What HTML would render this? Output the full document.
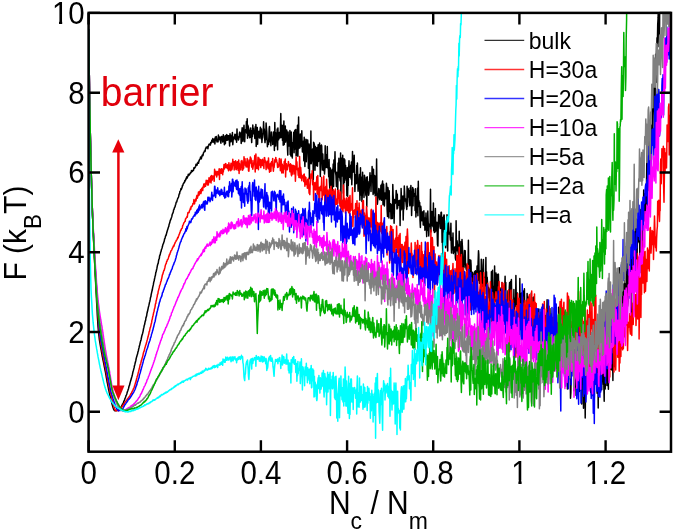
<!DOCTYPE html>
<html><head><meta charset="utf-8"><style>
html,body{margin:0;padding:0;background:#fff;}
body{width:675px;height:531px;overflow:hidden;position:relative;}
svg{position:absolute;left:0;top:0;}
text{font-family:"Liberation Sans",Arial,sans-serif;}
</style></head><body>
<svg width="675" height="531" viewBox="0 0 675 531">
<rect width="675" height="531" fill="#fff"/>
<defs><clipPath id="c"><rect x="88.6" y="12.9" width="582.4" height="438.8"/></clipPath></defs>
<g clip-path="url(#c)">
<polyline points="88.6,28.9 88.9,53.0 89.3,75.7 89.6,96.9 90.0,116.3 90.3,133.8 90.7,149.9 91.0,164.8 91.4,178.5 91.8,190.9 92.1,201.9 92.4,211.9 92.8,220.8 93.1,229.1 93.5,237.0 93.8,244.6 94.2,252.3 94.5,259.9 94.9,267.3 95.2,274.7 95.6,281.7 95.9,288.6 96.3,295.1 96.6,301.7 97.0,308.3 97.3,315.0 97.7,321.0 98.0,326.5 98.4,330.9 98.8,334.3 99.1,337.2 99.4,339.9 99.8,342.1 100.1,344.2 100.5,346.3 100.8,348.2 101.2,350.2 101.5,352.1 101.9,354.1 102.2,356.1 102.6,357.8 102.9,359.6 103.3,361.3 103.6,362.9 104.0,364.8 104.3,366.5 104.7,368.3 105.0,370.1 105.4,371.9 105.8,374.1 106.1,375.8 106.4,377.9 106.8,379.9 107.1,381.8 107.5,383.5 107.8,385.4 108.2,387.1 108.5,389.0 108.9,390.6 109.2,392.2 109.6,393.7 109.9,395.0 110.3,396.3 110.6,397.9 111.0,399.6 111.3,400.9 111.7,402.6 112.0,404.0 112.4,405.2 112.8,406.7 113.1,407.8 113.4,408.6 113.8,409.5 114.1,410.2 114.5,410.4 114.8,410.7 115.2,410.6 115.5,410.7 115.9,410.4 116.2,410.6 116.6,410.5 116.9,410.7 117.3,410.1 117.6,410.2 118.0,410.0 118.3,410.2 118.7,409.8 119.0,409.7 119.4,409.2 119.8,409.3 120.1,408.5 120.4,407.9 120.8,407.7 121.1,406.9 121.5,406.5 121.8,405.6 122.2,405.0 122.5,404.1 122.9,403.7 123.2,403.1 123.6,402.1 123.9,401.4 124.3,400.3 124.6,399.8 125.0,398.5 125.3,397.8 125.7,396.8 126.0,395.7 126.4,395.0 126.8,394.0 127.1,392.7 127.4,391.8 127.8,390.7 128.1,389.8 128.5,388.7 128.8,387.3 129.2,385.8 129.5,385.4 129.9,383.5 130.2,382.4 130.6,381.0 130.9,380.0 131.3,378.8 131.6,377.4 132.0,376.2 132.3,375.0 132.7,373.2 133.0,371.7 133.4,370.4 133.8,368.9 134.1,367.9 134.4,365.9 134.8,364.7 135.1,363.3 135.5,361.7 135.8,360.7 136.2,358.5 136.5,357.4 136.9,356.0 137.2,354.9 137.6,353.8 137.9,352.1 138.3,351.0 138.6,349.3 139.0,347.9 139.3,346.2 139.7,345.0 140.0,343.6 140.4,341.8 140.8,340.8 141.1,339.5 141.4,338.0 141.8,336.0 142.1,335.0 142.5,333.7 142.8,332.6 143.2,330.8 143.5,328.9 143.9,327.4 144.2,325.5 144.6,324.7 144.9,322.8 145.3,321.0 145.6,320.5 146.0,317.5 146.3,317.0 146.7,315.5 147.0,313.2 147.4,311.8 147.8,310.0 148.1,308.6 148.4,307.1 148.8,305.7 149.1,304.3 149.5,302.3 149.8,301.5 150.2,299.4 150.5,297.5 150.9,296.6 151.2,294.3 151.6,292.6 151.9,291.3 152.3,289.8 152.6,287.9 153.0,286.2 153.3,284.9 153.7,282.4 154.1,281.0 154.4,279.5 154.8,277.7 155.1,276.1 155.4,275.5 155.8,272.4 156.1,272.2 156.5,270.0 156.8,268.9 157.2,266.7 157.5,265.2 157.9,263.8 158.2,263.4 158.6,260.5 158.9,259.3 159.3,258.7 159.6,255.9 160.0,255.2 160.3,254.0 160.7,252.2 161.1,251.3 161.4,249.7 161.8,248.7 162.1,247.8 162.4,246.8 162.8,244.9 163.1,244.1 163.5,243.4 163.8,242.3 164.2,241.3 164.6,238.9 164.9,238.6 165.2,237.5 165.6,235.8 165.9,235.6 166.3,234.6 166.6,233.2 167.0,231.7 167.3,230.7 167.7,229.6 168.1,228.2 168.4,227.3 168.8,226.4 169.1,224.5 169.4,223.7 169.8,222.6 170.1,221.1 170.5,220.0 170.8,219.5 171.2,218.2 171.5,217.4 171.9,216.2 172.2,214.5 172.6,213.7 172.9,212.9 173.3,212.0 173.6,209.8 174.0,209.6 174.3,208.2 174.7,207.4 175.1,206.7 175.4,205.1 175.8,204.2 176.1,202.6 176.4,201.9 176.8,201.8 177.1,200.2 177.5,199.2 177.8,198.2 178.2,197.7 178.6,197.0 178.9,195.2 179.2,194.0 179.6,193.8 179.9,191.3 180.3,191.0 180.6,190.7 181.0,188.5 181.3,189.4 181.7,188.3 182.1,187.5 182.4,185.5 182.8,185.7 183.1,184.1 183.4,183.6 183.8,183.3 184.1,182.3 184.5,182.3 184.8,180.5 185.2,180.9 185.5,180.3 185.9,178.8 186.2,178.9 186.6,177.0 186.9,176.7 187.3,178.0 187.6,176.4 188.0,176.1 188.3,174.2 188.7,175.5 189.1,175.1 189.4,174.3 189.8,173.9 190.1,173.9 190.4,172.7 190.8,172.8 191.1,172.6 191.5,170.5 191.8,171.1 192.2,171.6 192.6,171.4 192.9,170.2 193.2,170.4 193.6,170.1 193.9,167.8 194.3,168.3 194.6,168.2 195.0,167.1 195.3,167.2 195.7,166.2 196.0,164.3 196.4,165.3 196.8,165.2 197.1,165.1 197.4,163.1 197.8,163.2 198.2,162.1 198.5,163.3 198.8,161.6 199.2,160.6 199.5,159.6 199.9,159.2 200.2,159.1 200.6,157.0 200.9,157.6 201.3,158.9 201.6,157.6 202.0,155.8 202.3,154.9 202.7,155.8 203.1,155.1 203.4,153.0 203.8,152.5 204.1,151.8 204.4,150.9 204.8,151.0 205.1,151.4 205.5,148.7 205.8,148.4 206.2,147.1 206.6,147.9 206.9,147.8 207.2,147.1 207.6,146.5 207.9,148.7 208.3,146.0 208.6,145.8 209.0,144.3 209.3,144.0 209.7,144.4 210.1,144.2 210.4,145.1 210.7,142.4 211.1,143.2 211.4,142.7 211.8,140.2 212.1,140.0 212.5,142.0 212.8,138.5 213.2,139.9 213.6,140.9 213.9,142.4 214.2,142.2 214.6,138.8 214.9,143.9 215.3,137.0 215.6,138.7 216.0,140.6 216.3,136.6 216.7,139.2 217.0,142.0 217.4,140.8 217.7,141.6 218.1,141.7 218.4,135.0 218.8,138.8 219.2,139.4 219.5,137.1 219.8,137.5 220.2,140.3 220.5,141.0 220.9,143.2 221.2,136.4 221.6,139.2 221.9,136.4 222.3,138.5 222.7,141.9 223.0,140.0 223.3,134.7 223.7,140.0 224.0,137.2 224.4,144.7 224.8,140.6 225.1,135.9 225.4,143.6 225.8,135.6 226.1,139.9 226.5,140.3 226.8,134.6 227.2,140.2 227.5,135.6 227.9,139.9 228.2,137.7 228.6,135.8 228.9,135.7 229.3,139.7 229.6,146.0 230.0,133.8 230.3,140.9 230.7,135.1 231.0,141.7 231.4,140.5 231.8,138.8 232.1,139.2 232.4,132.5 232.8,144.8 233.1,140.7 233.5,137.7 233.8,137.0 234.2,138.2 234.5,137.4 234.9,134.2 235.2,139.7 235.6,139.5 235.9,137.6 236.3,134.3 236.6,142.2 237.0,129.1 237.3,137.6 237.7,138.5 238.1,137.2 238.4,140.1 238.7,139.3 239.1,136.7 239.4,133.3 239.8,132.1 240.1,136.9 240.5,136.5 240.8,133.2 241.2,143.5 241.5,136.0 241.9,130.5 242.2,127.7 242.6,136.1 242.9,141.5 243.3,137.9 243.7,129.1 244.0,125.3 244.3,135.5 244.7,141.8 245.0,133.7 245.4,130.4 245.7,129.6 246.1,132.0 246.4,121.4 246.8,133.3 247.2,118.7 247.5,138.2 247.8,125.1 248.2,126.5 248.5,127.8 248.9,135.8 249.2,132.3 249.6,137.7 249.9,131.0 250.3,129.6 250.7,128.0 251.0,137.4 251.3,134.8 251.7,142.6 252.0,130.5 252.4,136.6 252.8,125.1 253.1,134.0 253.4,128.2 253.8,133.3 254.1,131.5 254.5,132.6 254.8,138.4 255.2,126.8 255.5,136.9 255.9,124.6 256.2,146.5 256.6,135.2 256.9,127.5 257.3,127.5 257.6,144.2 258.0,131.6 258.4,131.8 258.7,131.3 259.0,135.3 259.4,137.9 259.8,132.0 260.1,129.8 260.4,127.2 260.8,133.9 261.1,138.7 261.5,129.0 261.9,142.4 262.2,138.3 262.5,138.1 262.9,134.2 263.2,133.2 263.6,121.8 263.9,130.7 264.3,128.9 264.6,137.9 265.0,142.6 265.4,138.3 265.7,139.7 266.1,123.0 266.4,127.3 266.8,131.7 267.1,138.3 267.4,146.8 267.8,140.7 268.1,143.1 268.5,144.4 268.9,136.8 269.2,128.1 269.5,126.4 269.9,141.8 270.2,140.1 270.6,138.8 270.9,145.7 271.3,132.1 271.6,137.6 272.0,140.6 272.4,137.4 272.7,144.4 273.0,142.6 273.4,132.0 273.8,133.8 274.1,139.4 274.4,150.4 274.8,122.4 275.1,136.4 275.5,132.5 275.8,145.9 276.2,134.4 276.5,133.9 276.9,135.5 277.2,128.9 277.6,149.7 277.9,127.9 278.3,139.2 278.6,139.8 279.0,136.0 279.4,132.4 279.7,133.9 280.0,138.0 280.4,130.6 280.8,113.6 281.1,129.7 281.4,137.5 281.8,125.5 282.1,127.9 282.5,140.6 282.9,125.3 283.2,145.3 283.5,131.3 283.9,120.9 284.2,144.6 284.6,139.2 284.9,142.2 285.3,125.9 285.6,142.1 286.0,137.7 286.4,134.2 286.7,130.1 287.0,132.7 287.4,146.2 287.8,155.1 288.1,132.0 288.4,139.7 288.8,135.5 289.1,146.0 289.5,141.5 289.9,130.4 290.2,154.5 290.5,144.2 290.9,155.9 291.2,131.9 291.6,141.9 291.9,151.7 292.3,157.9 292.6,143.0 293.0,142.6 293.4,145.5 293.7,132.2 294.1,152.8 294.4,137.1 294.8,130.3 295.1,149.1 295.4,135.8 295.8,129.6 296.1,156.0 296.5,149.1 296.9,154.9 297.2,138.2 297.5,125.2 297.9,156.2 298.2,142.6 298.6,117.0 298.9,148.6 299.3,136.5 299.6,136.9 300.0,147.7 300.3,133.9 300.7,139.3 301.0,144.2 301.4,146.2 301.8,130.7 302.1,142.5 302.4,152.0 302.8,149.9 303.1,142.0 303.5,141.1 303.8,160.7 304.2,137.2 304.6,159.6 304.9,166.5 305.2,151.6 305.6,145.2 305.9,139.2 306.3,161.8 306.6,154.2 307.0,140.1 307.4,151.9 307.7,140.0 308.0,145.4 308.4,168.2 308.8,161.5 309.1,144.1 309.4,178.8 309.8,145.2 310.1,155.8 310.5,163.5 310.9,130.9 311.2,163.7 311.5,161.3 311.9,157.8 312.2,158.0 312.6,149.0 312.9,150.3 313.3,179.4 313.6,142.3 314.0,143.1 314.4,144.7 314.7,149.2 315.0,170.2 315.4,146.4 315.8,159.1 316.1,165.6 316.5,154.1 316.8,147.8 317.1,165.3 317.5,166.1 317.8,149.0 318.2,144.7 318.5,161.5 318.9,153.9 319.2,156.4 319.6,142.9 319.9,154.3 320.3,176.5 320.6,166.9 321.0,145.8 321.4,145.0 321.7,145.9 322.1,162.5 322.4,170.1 322.8,154.0 323.1,163.4 323.4,165.4 323.8,170.6 324.1,160.6 324.5,174.1 324.8,169.7 325.2,145.7 325.5,167.7 325.9,154.6 326.2,165.8 326.6,164.3 326.9,167.4 327.3,146.5 327.6,166.4 328.0,167.9 328.4,169.4 328.7,176.7 329.1,159.4 329.4,180.6 329.8,188.3 330.1,169.9 330.4,168.1 330.8,185.3 331.1,170.1 331.5,173.1 331.8,189.7 332.2,195.1 332.5,169.3 332.9,172.8 333.2,164.0 333.6,186.6 333.9,160.1 334.3,171.1 334.6,167.4 335.0,151.7 335.4,172.0 335.7,173.5 336.0,176.0 336.4,186.5 336.8,172.2 337.1,186.5 337.4,182.3 337.8,189.9 338.1,162.9 338.5,172.1 338.9,158.3 339.2,176.9 339.5,175.0 339.9,178.4 340.2,180.9 340.6,152.9 340.9,200.4 341.3,157.9 341.6,159.0 342.0,176.1 342.3,170.0 342.7,155.3 343.0,171.6 343.4,193.3 343.8,179.3 344.1,158.7 344.4,182.5 344.8,159.7 345.1,177.2 345.5,165.2 345.9,178.4 346.2,180.3 346.5,176.6 346.9,195.7 347.2,167.5 347.6,196.2 348.0,174.5 348.3,185.5 348.6,170.3 349.0,160.8 349.4,173.9 349.7,177.3 350.0,171.2 350.4,169.3 350.8,165.1 351.1,179.0 351.4,162.0 351.8,184.7 352.1,175.8 352.5,151.4 352.9,172.2 353.2,166.9 353.5,170.5 353.9,171.9 354.2,155.3 354.6,175.0 354.9,191.6 355.3,178.4 355.6,174.7 356.0,182.8 356.4,183.6 356.7,165.4 357.0,172.9 357.4,163.0 357.8,177.0 358.1,191.2 358.5,182.9 358.8,184.1 359.1,185.0 359.5,174.5 359.9,200.2 360.2,184.6 360.5,167.8 360.9,195.1 361.2,177.0 361.6,184.5 361.9,201.4 362.3,194.5 362.6,172.3 363.0,192.7 363.4,185.4 363.7,187.1 364.0,197.6 364.4,175.2 364.8,177.5 365.1,182.6 365.5,188.1 365.8,194.8 366.1,195.9 366.5,177.5 366.8,206.7 367.2,176.8 367.5,182.9 367.9,181.4 368.2,185.8 368.6,195.2 368.9,193.7 369.3,186.6 369.6,180.7 370.0,172.8 370.4,181.8 370.7,179.1 371.0,191.6 371.4,175.6 371.8,179.0 372.1,166.6 372.5,174.4 372.8,183.4 373.1,194.4 373.5,169.2 373.9,192.9 374.2,181.6 374.5,175.4 374.9,177.7 375.2,195.9 375.6,195.4 375.9,176.0 376.3,180.9 376.6,159.1 377.0,195.9 377.4,204.3 377.7,200.7 378.0,198.3 378.4,194.5 378.8,188.5 379.1,188.9 379.4,194.9 379.8,199.7 380.1,190.4 380.5,198.2 380.9,185.3 381.2,197.5 381.5,200.2 381.9,184.1 382.2,184.5 382.6,181.1 383.0,204.7 383.3,187.5 383.6,184.3 384.0,195.2 384.4,206.0 384.7,199.4 385.0,193.1 385.4,198.0 385.8,198.6 386.1,191.3 386.4,183.2 386.8,187.2 387.1,209.4 387.5,216.4 387.9,187.5 388.2,190.2 388.5,203.8 388.9,217.9 389.2,190.7 389.6,208.4 390.0,211.4 390.3,206.4 390.6,203.8 391.0,218.8 391.4,216.1 391.7,205.2 392.0,204.6 392.4,218.6 392.8,184.5 393.1,194.6 393.4,200.1 393.8,199.2 394.1,223.3 394.5,204.0 394.9,199.8 395.2,203.5 395.5,201.4 395.9,199.0 396.2,190.4 396.6,194.4 397.0,208.9 397.3,194.2 397.6,208.1 398.0,202.0 398.3,200.8 398.7,203.8 399.0,205.3 399.4,201.0 399.8,200.3 400.1,225.6 400.4,204.0 400.8,210.2 401.1,188.5 401.5,200.8 401.9,208.9 402.2,197.4 402.5,200.1 402.9,195.9 403.2,219.9 403.6,203.6 403.9,209.1 404.3,186.1 404.6,192.1 405.0,201.0 405.4,199.3 405.7,199.0 406.0,202.5 406.4,206.4 406.8,209.4 407.1,186.2 407.4,206.4 407.8,192.5 408.1,188.5 408.5,191.1 408.9,196.9 409.2,190.8 409.5,201.9 409.9,205.8 410.2,187.7 410.6,190.4 410.9,185.6 411.3,196.6 411.6,215.5 412.0,201.5 412.4,203.8 412.7,187.6 413.0,205.8 413.4,188.9 413.8,195.9 414.1,195.7 414.5,196.4 414.8,193.4 415.1,210.4 415.5,188.8 415.9,216.9 416.2,208.8 416.5,209.8 416.9,196.1 417.2,212.4 417.6,188.0 417.9,215.7 418.3,181.2 418.6,201.8 419.0,200.6 419.4,206.7 419.7,202.6 420.0,219.8 420.4,227.5 420.8,206.2 421.1,209.4 421.5,218.8 421.8,220.7 422.1,220.7 422.5,218.3 422.8,211.8 423.2,225.0 423.5,219.0 423.9,210.8 424.2,225.3 424.6,217.7 424.9,230.3 425.3,223.8 425.6,227.3 426.0,212.9 426.4,228.5 426.7,236.6 427.0,222.4 427.4,230.3 427.8,211.1 428.1,220.5 428.5,229.0 428.8,235.9 429.1,224.2 429.5,226.6 429.9,225.7 430.2,223.1 430.5,189.2 430.9,232.1 431.2,221.8 431.6,215.3 431.9,211.5 432.3,225.4 432.6,221.0 433.0,226.7 433.4,202.9 433.7,230.7 434.0,221.4 434.4,232.4 434.8,217.0 435.1,232.1 435.4,208.5 435.8,231.0 436.1,226.5 436.5,226.2 436.9,222.3 437.2,232.4 437.5,244.8 437.9,246.0 438.2,228.8 438.6,214.7 439.0,214.8 439.3,221.6 439.6,216.0 440.0,226.9 440.4,228.5 440.7,221.5 441.0,212.4 441.4,212.2 441.8,222.9 442.1,242.6 442.4,234.8 442.8,254.7 443.1,217.3 443.5,229.8 443.9,214.9 444.2,215.1 444.5,232.2 444.9,223.3 445.2,231.5 445.6,247.7 446.0,226.9 446.3,230.0 446.6,230.2 447.0,214.7 447.3,243.8 447.7,251.0 448.0,223.7 448.4,221.0 448.8,227.8 449.1,234.0 449.4,232.3 449.8,233.2 450.1,234.9 450.5,240.1 450.9,223.2 451.2,243.8 451.5,252.9 451.9,238.1 452.2,246.9 452.6,249.7 453.0,233.1 453.3,253.6 453.6,252.0 454.0,248.2 454.3,252.0 454.7,247.2 455.0,246.9 455.4,258.2 455.8,260.0 456.1,220.7 456.4,243.0 456.8,250.8 457.1,240.7 457.5,245.0 457.9,246.6 458.2,253.2 458.5,252.8 458.9,255.7 459.2,231.3 459.6,255.5 459.9,247.3 460.3,247.3 460.6,276.1 461.0,241.5 461.4,252.9 461.7,277.7 462.0,239.5 462.4,246.3 462.8,255.2 463.1,267.2 463.4,271.0 463.8,262.9 464.1,267.2 464.5,250.4 464.9,255.5 465.2,250.8 465.5,262.3 465.9,267.3 466.2,269.1 466.6,270.4 466.9,269.6 467.3,264.1 467.6,266.4 468.0,269.7 468.4,240.2 468.7,269.3 469.0,267.1 469.4,274.4 469.8,259.7 470.1,261.8 470.5,271.7 470.8,260.2 471.1,265.5 471.5,289.8 471.8,289.5 472.2,285.9 472.5,272.3 472.9,283.4 473.2,294.0 473.6,281.6 473.9,274.1 474.3,274.6 474.6,271.7 475.0,275.4 475.4,270.8 475.7,275.6 476.0,283.1 476.4,290.0 476.8,273.6 477.1,265.9 477.5,280.7 477.8,280.1 478.1,262.4 478.5,250.8 478.8,254.5 479.2,280.6 479.5,283.3 479.9,277.8 480.2,272.3 480.6,270.7 480.9,299.4 481.3,259.2 481.6,265.0 482.0,282.7 482.4,270.4 482.7,286.4 483.0,279.1 483.4,259.4 483.8,296.6 484.1,286.8 484.4,286.6 484.8,284.8 485.1,277.1 485.5,282.6 485.9,257.4 486.2,293.9 486.5,271.8 486.9,287.4 487.2,277.3 487.6,284.8 487.9,287.3 488.3,291.4 488.6,287.4 489.0,298.0 489.4,292.5 489.7,315.3 490.0,288.9 490.4,297.3 490.8,289.5 491.1,297.5 491.4,271.7 491.8,289.2 492.1,288.9 492.5,270.3 492.9,302.1 493.2,286.3 493.5,307.5 493.9,301.3 494.2,300.9 494.6,266.0 495.0,301.2 495.3,281.5 495.6,284.8 496.0,272.9 496.4,296.8 496.7,312.6 497.0,311.2 497.4,274.6 497.8,286.6 498.1,274.9 498.4,274.1 498.8,292.0 499.1,297.6 499.5,289.4 499.9,316.5 500.2,303.0 500.5,299.0 500.9,287.9 501.2,323.8 501.6,325.5 502.0,282.5 502.3,291.3 502.6,306.0 503.0,307.4 503.3,300.2 503.7,323.3 504.0,312.1 504.4,285.7 504.8,285.5 505.1,276.3 505.4,293.2 505.8,282.4 506.1,321.4 506.5,321.0 506.9,343.8 507.2,322.1 507.5,328.6 507.9,291.6 508.2,290.5 508.6,322.3 508.9,326.2 509.3,287.4 509.6,282.6 510.0,320.7 510.4,298.7 510.7,281.2 511.0,298.6 511.4,279.6 511.8,302.2 512.1,300.4 512.4,309.9 512.8,337.2 513.1,313.1 513.5,320.7 513.9,289.6 514.2,327.7 514.5,308.5 514.9,306.0 515.2,298.1 515.6,306.2 515.9,275.6 516.3,299.8 516.6,304.3 517.0,304.9 517.4,293.0 517.7,332.3 518.0,320.2 518.4,307.9 518.8,320.5 519.1,306.5 519.5,337.1 519.8,278.5 520.1,303.5 520.5,306.6 520.9,323.9 521.2,295.2 521.5,293.1 521.9,315.4 522.2,308.6 522.6,330.0 522.9,303.8 523.3,306.5 523.6,291.0 524.0,299.8 524.4,288.7 524.7,310.2 525.0,305.0 525.4,311.3 525.8,308.7 526.1,319.5 526.4,311.4 526.8,319.5 527.1,293.6 527.5,305.2 527.8,309.4 528.2,319.1 528.5,296.9 528.9,312.3 529.2,306.5 529.6,323.2 530.0,311.6 530.3,328.0 530.6,328.2 531.0,327.6 531.3,293.1 531.7,318.1 532.0,297.6 532.4,335.7 532.8,316.2 533.1,330.8 533.5,317.3 533.8,297.0 534.1,299.0 534.5,336.1 534.9,311.0 535.2,309.3 535.5,325.3 535.9,329.1 536.2,336.4 536.6,319.5 536.9,343.8 537.3,325.7 537.6,320.0 538.0,333.0 538.4,340.1 538.7,308.9 539.0,323.9 539.4,345.8 539.8,324.7 540.1,315.7 540.4,331.0 540.8,314.7 541.1,318.6 541.5,316.2 541.9,328.1 542.2,331.1 542.6,306.7 542.9,319.6 543.2,317.3 543.6,314.8 543.9,319.5 544.3,319.7 544.6,321.2 545.0,326.2 545.3,337.1 545.7,315.5 546.0,324.2 546.4,334.3 546.8,316.1 547.1,299.8 547.5,345.9 547.8,327.9 548.1,310.8 548.5,354.8 548.9,332.6 549.2,334.6 549.5,343.7 549.9,308.5 550.2,322.0 550.6,337.4 551.0,359.2 551.3,335.2 551.6,352.3 552.0,330.9 552.4,345.0 552.7,335.7 553.0,317.3 553.4,329.2 553.8,346.7 554.1,344.9 554.4,357.6 554.8,331.7 555.1,359.3 555.5,354.3 555.9,368.9 556.2,344.7 556.5,314.9 556.9,353.9 557.2,354.0 557.6,355.7 557.9,345.5 558.3,341.1 558.6,307.3 559.0,327.3 559.3,344.0 559.7,364.7 560.1,326.1 560.4,340.2 560.8,360.2 561.1,343.4 561.4,347.3 561.8,329.7 562.1,341.5 562.5,361.9 562.8,343.7 563.2,323.4 563.5,343.7 563.9,357.1 564.2,360.3 564.6,312.1 565.0,331.0 565.3,367.6 565.6,343.6 566.0,332.1 566.4,340.1 566.7,362.9 567.0,357.4 567.4,389.1 567.7,360.9 568.1,360.4 568.4,344.1 568.8,363.2 569.1,368.9 569.5,333.1 569.9,344.0 570.2,371.2 570.5,398.3 570.9,392.5 571.2,365.6 571.6,363.8 571.9,366.1 572.3,349.5 572.6,333.7 573.0,351.5 573.4,360.4 573.7,361.2 574.0,390.7 574.4,349.4 574.8,369.8 575.1,349.6 575.4,386.9 575.8,371.6 576.1,395.4 576.5,372.5 576.8,336.8 577.2,380.0 577.5,375.0 577.9,375.8 578.2,361.7 578.6,385.3 579.0,376.6 579.3,391.6 579.6,319.8 580.0,379.1 580.3,371.9 580.7,390.0 581.0,367.9 581.4,374.3 581.7,404.0 582.1,318.5 582.5,377.6 582.8,377.7 583.1,357.3 583.5,408.3 583.9,375.3 584.2,395.4 584.5,385.8 584.9,382.1 585.2,418.0 585.6,384.5 585.9,370.6 586.3,393.3 586.6,373.0 587.0,381.3 587.4,352.4 587.7,379.8 588.0,371.7 588.4,376.0 588.8,382.4 589.1,348.2 589.4,369.9 589.8,371.5 590.1,364.2 590.5,339.5 590.8,392.5 591.2,352.1 591.6,395.3 591.9,378.9 592.2,363.4 592.6,354.2 592.9,391.1 593.3,354.2 593.6,363.6 594.0,333.2 594.3,398.5 594.7,365.3 595.0,383.1 595.4,381.4 595.8,374.7 596.1,384.2 596.5,365.9 596.8,372.8 597.1,393.2 597.5,332.7 597.9,374.2 598.2,407.9 598.5,380.1 598.9,374.7 599.2,381.2 599.6,381.2 599.9,353.2 600.3,387.0 600.6,385.2 601.0,386.9 601.4,384.4 601.7,389.8 602.0,375.1 602.4,356.8 602.8,374.2 603.1,373.4 603.5,384.5 603.8,384.5 604.2,401.2 604.5,339.0 604.9,377.1 605.2,388.9 605.5,369.3 605.9,372.9 606.2,346.4 606.6,359.3 606.9,385.6 607.3,373.9 607.6,379.4 608.0,365.0 608.4,389.3 608.7,327.7 609.1,351.0 609.4,353.4 609.8,350.7 610.1,343.3 610.5,369.3 610.8,350.3 611.1,321.4 611.5,323.6 611.8,370.1 612.2,357.3 612.6,352.8 612.9,380.6 613.2,356.4 613.6,344.1 614.0,332.9 614.3,344.2 614.6,366.7 615.0,342.8 615.4,351.6 615.7,317.4 616.0,317.5 616.4,341.5 616.8,306.1 617.1,335.1 617.5,321.5 617.8,298.4 618.1,310.8 618.5,326.2 618.9,317.1 619.2,267.8 619.5,320.8 619.9,307.5 620.2,332.9 620.6,301.0 620.9,318.2 621.3,291.9 621.7,322.7 622.0,292.5 622.4,302.4 622.7,295.5 623.1,290.8 623.4,284.1 623.8,314.2 624.1,332.0 624.4,297.4 624.8,280.2 625.1,314.0 625.5,271.0 625.9,307.2 626.2,285.9 626.6,286.9 626.9,284.7 627.2,258.6 627.6,306.1 628.0,300.9 628.3,290.6 628.6,275.6 629.0,295.6 629.3,252.3 629.7,275.8 630.0,276.1 630.4,282.5 630.8,254.6 631.1,244.4 631.5,317.4 631.8,258.5 632.1,288.4 632.5,258.2 632.9,261.1 633.2,257.5 633.5,264.1 633.9,269.4 634.2,243.8 634.6,276.1 635.0,228.4 635.3,240.8 635.6,278.6 636.0,284.0 636.4,219.1 636.7,251.6 637.0,268.5 637.4,228.3 637.8,242.7 638.1,233.8 638.4,241.4 638.8,238.1 639.1,226.4 639.5,220.3 639.9,272.7 640.2,235.3 640.6,217.8 640.9,209.4 641.2,234.6 641.6,227.4 641.9,239.2 642.3,255.4 642.6,230.3 643.0,206.7 643.4,216.2 643.7,189.9 644.1,221.1 644.4,198.1 644.8,208.1 645.1,193.7 645.5,213.7 645.8,198.8 646.1,194.4 646.5,185.5 646.9,148.9 647.2,208.4 647.5,163.5 647.9,190.7 648.2,171.9 648.6,175.9 649.0,167.3 649.3,133.0 649.6,165.0 650.0,120.2 650.4,172.3 650.7,144.8 651.0,149.3 651.4,159.5 651.8,124.9 652.1,139.9 652.5,106.1 652.8,132.9 653.2,107.4 653.5,102.3 653.9,66.6 654.2,89.0 654.5,105.2 654.9,121.4 655.2,86.3 655.6,54.3 655.9,61.8 656.3,82.3 656.6,56.2 657.0,37.7 657.4,42.9 657.7,24.9 658.1,17.9 658.4,5.8 658.8,-18.0 659.1,46.8 659.5,46.8 659.8,-33.4 660.1,-7.2 660.5,-42.1 660.8,-52.1 661.2,-14.7 661.6,-20.5" fill="none" stroke="#000000" stroke-width="1.5" stroke-linejoin="round"/>
<polyline points="88.6,28.9 88.9,53.0 89.3,75.7 89.6,96.9 90.0,116.3 90.3,133.8 90.7,149.9 91.0,164.9 91.4,178.7 91.8,191.1 92.1,202.0 92.4,211.6 92.8,220.5 93.1,228.5 93.5,236.1 93.8,243.3 94.2,250.2 94.5,256.9 94.9,263.3 95.2,269.4 95.6,275.2 95.9,280.9 96.3,286.5 96.6,292.0 97.0,297.6 97.3,303.3 97.7,309.1 98.0,314.7 98.4,320.0 98.8,325.0 99.1,329.4 99.4,332.8 99.8,335.8 100.1,338.4 100.5,340.9 100.8,343.0 101.2,345.2 101.5,347.2 101.9,349.2 102.2,351.2 102.6,353.3 102.9,354.9 103.3,356.9 103.6,358.7 104.0,360.6 104.3,362.5 104.7,364.2 105.0,365.9 105.4,367.4 105.8,369.2 106.1,371.0 106.4,372.8 106.8,374.8 107.1,376.7 107.5,378.6 107.8,380.4 108.2,382.3 108.5,383.9 108.9,385.7 109.2,387.4 109.6,389.1 109.9,390.5 110.3,391.9 110.6,393.4 111.0,394.7 111.3,396.3 111.7,397.7 112.0,399.2 112.4,400.7 112.8,402.2 113.1,403.5 113.4,404.7 113.8,406.2 114.1,407.0 114.5,408.3 114.8,409.1 115.2,410.1 115.5,410.6 115.9,410.4 116.2,410.8 116.6,410.5 116.9,410.6 117.3,410.5 117.6,410.3 118.0,410.4 118.3,410.8 118.7,410.4 119.0,409.9 119.4,409.6 119.8,409.8 120.1,409.6 120.4,409.4 120.8,408.6 121.1,408.5 121.5,407.8 121.8,407.0 122.2,406.4 122.5,405.9 122.9,405.1 123.2,405.0 123.6,404.5 123.9,403.9 124.3,403.3 124.6,402.9 125.0,402.0 125.3,402.0 125.7,401.3 126.0,401.1 126.4,400.5 126.8,400.2 127.1,399.7 127.4,398.8 127.8,398.8 128.1,397.9 128.5,397.9 128.8,397.3 129.2,396.5 129.5,396.7 129.9,396.0 130.2,395.1 130.6,394.4 130.9,393.8 131.3,393.4 131.6,393.0 132.0,391.8 132.3,391.2 132.7,390.9 133.0,389.9 133.4,388.7 133.8,388.2 134.1,387.6 134.4,386.4 134.8,385.4 135.1,384.1 135.5,382.8 135.8,382.1 136.2,380.8 136.5,379.1 136.9,377.9 137.2,376.4 137.6,375.7 137.9,374.3 138.3,372.4 138.6,371.5 139.0,369.8 139.3,368.5 139.7,367.3 140.0,365.3 140.4,364.4 140.8,363.2 141.1,361.8 141.4,360.4 141.8,359.6 142.1,358.2 142.5,357.1 142.8,356.1 143.2,353.9 143.5,352.6 143.9,351.4 144.2,351.0 144.6,349.2 144.9,347.8 145.3,346.9 145.6,345.3 146.0,344.6 146.3,343.3 146.7,342.0 147.0,340.7 147.4,339.4 147.8,337.6 148.1,336.8 148.4,335.3 148.8,334.1 149.1,331.8 149.5,331.4 149.8,329.6 150.2,327.7 150.5,327.2 150.9,325.6 151.2,323.9 151.6,322.7 151.9,320.3 152.3,319.3 152.6,317.2 153.0,315.7 153.3,314.3 153.7,312.3 154.1,311.2 154.4,309.0 154.8,308.2 155.1,306.3 155.4,304.0 155.8,303.5 156.1,301.0 156.5,299.7 156.8,298.1 157.2,296.6 157.5,294.4 157.9,293.8 158.2,291.4 158.6,290.1 158.9,288.9 159.3,287.4 159.6,285.7 160.0,284.8 160.3,283.9 160.7,281.9 161.1,281.0 161.4,279.5 161.8,278.1 162.1,276.5 162.4,274.9 162.8,274.2 163.1,273.0 163.5,271.6 163.8,270.6 164.2,270.2 164.6,268.6 164.9,267.7 165.2,265.9 165.6,264.6 165.9,263.9 166.3,263.4 166.6,261.6 167.0,261.4 167.3,259.9 167.7,259.6 168.1,258.8 168.4,257.9 168.8,256.5 169.1,256.0 169.4,254.6 169.8,254.6 170.1,253.0 170.5,252.7 170.8,251.2 171.2,250.6 171.5,250.3 171.9,249.5 172.2,248.7 172.6,247.9 172.9,247.5 173.3,246.1 173.6,246.2 174.0,246.1 174.3,244.4 174.7,243.9 175.1,242.7 175.4,242.1 175.8,241.6 176.1,240.9 176.4,240.2 176.8,239.9 177.1,239.3 177.5,238.4 177.8,237.2 178.2,237.6 178.6,235.8 178.9,235.3 179.2,234.3 179.6,233.6 179.9,232.4 180.3,231.8 180.6,230.2 181.0,230.2 181.3,229.3 181.7,228.4 182.1,228.4 182.4,227.2 182.8,225.2 183.1,224.9 183.4,224.2 183.8,222.9 184.1,222.7 184.5,222.0 184.8,221.2 185.2,221.3 185.5,218.9 185.9,218.7 186.2,217.9 186.6,217.3 186.9,216.7 187.3,217.2 187.6,214.7 188.0,212.5 188.3,212.5 188.7,212.8 189.1,212.6 189.4,211.1 189.8,210.0 190.1,209.9 190.4,208.1 190.8,209.2 191.1,206.5 191.5,206.8 191.8,206.8 192.2,205.9 192.6,204.7 192.9,203.5 193.2,203.8 193.6,202.4 193.9,199.6 194.3,203.9 194.6,203.7 195.0,200.5 195.3,201.2 195.7,199.1 196.0,200.9 196.4,198.1 196.8,195.7 197.1,195.4 197.4,198.2 197.8,196.2 198.2,194.4 198.5,191.9 198.8,195.4 199.2,194.8 199.5,191.5 199.9,193.1 200.2,193.5 200.6,189.7 200.9,193.6 201.3,191.7 201.6,188.5 202.0,190.6 202.3,187.7 202.7,190.6 203.1,186.6 203.4,186.5 203.8,184.0 204.1,187.0 204.4,187.1 204.8,185.9 205.1,183.5 205.5,186.3 205.8,185.0 206.2,180.3 206.6,182.6 206.9,182.0 207.2,184.1 207.6,180.6 207.9,185.2 208.3,184.9 208.6,183.2 209.0,177.8 209.3,180.7 209.7,182.1 210.1,181.2 210.4,178.3 210.7,176.4 211.1,182.9 211.4,175.4 211.8,175.9 212.1,180.2 212.5,178.3 212.8,176.0 213.2,177.5 213.6,176.1 213.9,178.8 214.2,181.3 214.6,169.2 214.9,175.1 215.3,174.7 215.6,173.9 216.0,171.2 216.3,172.3 216.7,177.0 217.0,174.0 217.4,173.4 217.7,171.4 218.1,174.7 218.4,171.7 218.8,171.8 219.2,168.7 219.5,179.4 219.8,171.6 220.2,170.5 220.5,169.3 220.9,172.0 221.2,173.3 221.6,168.8 221.9,169.2 222.3,172.7 222.7,174.7 223.0,169.1 223.3,172.0 223.7,168.1 224.0,164.5 224.4,169.0 224.8,167.9 225.1,167.7 225.4,163.9 225.8,163.5 226.1,167.2 226.5,165.5 226.8,167.0 227.2,168.3 227.5,164.8 227.9,167.1 228.2,169.4 228.6,170.8 228.9,162.8 229.3,169.2 229.6,169.7 230.0,167.2 230.3,165.1 230.7,170.8 231.0,163.2 231.4,164.0 231.8,169.8 232.1,169.0 232.4,165.4 232.8,159.3 233.1,165.6 233.5,161.5 233.8,161.8 234.2,170.0 234.5,164.8 234.9,161.5 235.2,166.1 235.6,160.8 235.9,169.3 236.3,169.6 236.6,167.9 237.0,162.1 237.3,167.9 237.7,161.7 238.1,170.3 238.4,166.4 238.7,160.1 239.1,173.6 239.4,163.3 239.8,167.4 240.1,167.0 240.5,166.5 240.8,169.9 241.2,161.0 241.5,162.3 241.9,160.4 242.2,163.9 242.6,170.2 242.9,162.3 243.3,169.0 243.7,168.0 244.0,156.8 244.3,160.8 244.7,162.6 245.0,158.8 245.4,165.4 245.7,162.0 246.1,167.0 246.4,165.7 246.8,164.7 247.2,158.5 247.5,166.9 247.8,159.7 248.2,163.9 248.5,170.7 248.9,171.2 249.2,166.6 249.6,159.9 249.9,163.0 250.3,157.1 250.7,162.9 251.0,158.0 251.3,162.7 251.7,167.1 252.0,160.6 252.4,166.5 252.8,169.2 253.1,166.8 253.4,165.1 253.8,162.6 254.1,160.2 254.5,161.0 254.8,155.6 255.2,171.9 255.5,164.5 255.9,154.1 256.2,164.9 256.6,168.4 256.9,166.4 257.3,168.2 257.6,165.4 258.0,157.3 258.4,169.7 258.7,166.1 259.0,158.0 259.4,162.3 259.8,161.9 260.1,165.3 260.4,159.6 260.8,167.6 261.1,159.9 261.5,163.0 261.9,164.5 262.2,165.5 262.5,159.2 262.9,161.9 263.2,165.5 263.6,163.6 263.9,168.5 264.3,157.7 264.6,157.6 265.0,160.5 265.4,162.4 265.7,161.1 266.1,169.6 266.4,165.6 266.8,164.6 267.1,163.9 267.4,161.3 267.8,167.4 268.1,168.7 268.5,157.9 268.9,165.3 269.2,166.7 269.5,172.2 269.9,170.3 270.2,164.1 270.6,163.2 270.9,171.2 271.3,163.4 271.6,161.7 272.0,165.7 272.4,162.8 272.7,158.4 273.0,166.9 273.4,171.2 273.8,165.9 274.1,167.3 274.4,164.4 274.8,160.0 275.1,159.3 275.5,161.9 275.8,157.4 276.2,161.6 276.5,159.5 276.9,161.9 277.2,162.7 277.6,167.4 277.9,164.3 278.3,167.1 278.6,166.5 279.0,163.3 279.4,158.4 279.7,165.3 280.0,162.2 280.4,170.8 280.8,165.3 281.1,159.0 281.4,163.5 281.8,172.9 282.1,164.1 282.5,165.0 282.9,169.8 283.2,172.9 283.5,169.1 283.9,169.4 284.2,161.5 284.6,161.9 284.9,161.5 285.3,159.1 285.6,176.9 286.0,166.2 286.4,163.7 286.7,169.8 287.0,168.4 287.4,169.8 287.8,164.9 288.1,165.9 288.4,161.4 288.8,163.9 289.1,165.1 289.5,166.8 289.9,171.8 290.2,166.0 290.5,163.8 290.9,165.7 291.2,174.1 291.6,175.7 291.9,165.0 292.3,166.8 292.6,166.8 293.0,174.1 293.4,165.4 293.7,165.7 294.1,170.7 294.4,166.1 294.8,174.1 295.1,170.0 295.4,181.3 295.8,172.0 296.1,157.3 296.5,167.0 296.9,161.8 297.2,169.6 297.5,170.0 297.9,170.3 298.2,175.3 298.6,168.2 298.9,177.4 299.3,174.0 299.6,156.4 300.0,170.6 300.3,178.0 300.7,167.5 301.0,171.8 301.4,176.2 301.8,180.8 302.1,176.1 302.4,177.8 302.8,176.3 303.1,175.6 303.5,174.7 303.8,181.6 304.2,174.0 304.6,178.1 304.9,186.3 305.2,177.0 305.6,180.0 305.9,177.5 306.3,184.6 306.6,181.0 307.0,181.6 307.4,188.2 307.7,179.5 308.0,183.2 308.4,178.2 308.8,186.9 309.1,193.3 309.4,188.5 309.8,194.6 310.1,186.5 310.5,180.0 310.9,174.1 311.2,176.8 311.5,177.9 311.9,176.7 312.2,170.8 312.6,184.8 312.9,181.6 313.3,180.6 313.6,200.2 314.0,183.5 314.4,184.7 314.7,182.8 315.0,188.2 315.4,189.9 315.8,189.1 316.1,182.0 316.5,183.0 316.8,176.7 317.1,194.0 317.5,180.3 317.8,175.4 318.2,194.6 318.5,187.3 318.9,196.8 319.2,205.2 319.6,198.7 319.9,187.6 320.3,186.5 320.6,190.6 321.0,186.0 321.4,186.3 321.7,177.2 322.1,199.8 322.4,196.0 322.8,193.5 323.1,195.2 323.4,194.3 323.8,176.0 324.1,192.7 324.5,187.2 324.8,201.4 325.2,195.9 325.5,187.4 325.9,186.3 326.2,204.1 326.6,179.3 326.9,189.8 327.3,198.3 327.6,189.9 328.0,198.2 328.4,203.1 328.7,192.3 329.1,191.8 329.4,189.2 329.8,205.5 330.1,201.6 330.4,196.5 330.8,189.8 331.1,186.2 331.5,197.7 331.8,205.7 332.2,191.6 332.5,199.6 332.9,193.5 333.2,189.5 333.6,191.7 333.9,203.6 334.3,205.6 334.6,206.9 335.0,191.4 335.4,189.0 335.7,204.4 336.0,201.3 336.4,204.2 336.8,199.0 337.1,204.3 337.4,203.5 337.8,190.5 338.1,191.3 338.5,197.9 338.9,190.0 339.2,203.3 339.5,195.6 339.9,205.9 340.2,205.6 340.6,192.0 340.9,208.3 341.3,202.7 341.6,208.1 342.0,209.9 342.3,201.0 342.7,199.9 343.0,211.7 343.4,184.9 343.8,190.5 344.1,207.9 344.4,198.2 344.8,200.3 345.1,206.9 345.5,213.2 345.9,206.9 346.2,204.1 346.5,198.1 346.9,202.2 347.2,210.7 347.6,209.0 348.0,206.8 348.3,197.6 348.6,212.7 349.0,204.2 349.4,196.9 349.7,215.8 350.0,195.5 350.4,211.0 350.8,206.7 351.1,210.2 351.4,204.7 351.8,203.6 352.1,202.6 352.5,187.7 352.9,226.4 353.2,214.2 353.5,217.8 353.9,210.6 354.2,214.2 354.6,211.6 354.9,209.6 355.3,214.3 355.6,203.4 356.0,223.1 356.4,216.3 356.7,209.6 357.0,200.8 357.4,220.7 357.8,220.7 358.1,207.9 358.5,210.6 358.8,222.5 359.1,203.1 359.5,209.7 359.9,214.4 360.2,214.8 360.5,211.4 360.9,215.4 361.2,210.2 361.6,210.4 361.9,221.9 362.3,226.5 362.6,201.2 363.0,218.3 363.4,200.6 363.7,214.4 364.0,236.3 364.4,213.1 364.8,222.5 365.1,234.7 365.5,215.6 365.8,224.6 366.1,219.4 366.5,206.4 366.8,209.8 367.2,216.9 367.5,219.1 367.9,217.5 368.2,224.2 368.6,228.1 368.9,222.0 369.3,217.9 369.6,225.6 370.0,222.8 370.4,219.3 370.7,227.0 371.0,210.4 371.4,209.4 371.8,218.4 372.1,228.4 372.5,237.3 372.8,242.3 373.1,211.4 373.5,222.4 373.9,226.8 374.2,235.1 374.5,224.5 374.9,214.4 375.2,220.2 375.6,234.2 375.9,197.1 376.3,219.1 376.6,235.9 377.0,225.5 377.4,222.5 377.7,222.5 378.0,223.4 378.4,237.5 378.8,223.9 379.1,234.9 379.4,226.7 379.8,227.5 380.1,222.7 380.5,226.0 380.9,231.7 381.2,205.5 381.5,231.9 381.9,233.6 382.2,225.4 382.6,225.4 383.0,223.1 383.3,245.3 383.6,236.2 384.0,221.2 384.4,229.5 384.7,231.4 385.0,246.1 385.4,247.6 385.8,241.9 386.1,232.8 386.4,228.8 386.8,226.6 387.1,254.9 387.5,238.2 387.9,236.8 388.2,241.6 388.5,241.4 388.9,248.1 389.2,244.5 389.6,262.9 390.0,231.4 390.3,241.3 390.6,225.8 391.0,248.5 391.4,258.1 391.7,226.7 392.0,263.1 392.4,254.5 392.8,237.0 393.1,229.4 393.4,252.5 393.8,248.1 394.1,247.8 394.5,240.5 394.9,254.1 395.2,241.3 395.5,238.3 395.9,247.6 396.2,246.8 396.6,226.0 397.0,245.6 397.3,252.3 397.6,238.2 398.0,237.5 398.3,256.0 398.7,259.0 399.0,235.3 399.4,237.6 399.8,237.6 400.1,233.5 400.4,262.6 400.8,267.7 401.1,244.4 401.5,246.8 401.9,250.4 402.2,244.5 402.5,262.3 402.9,262.4 403.2,255.3 403.6,248.3 403.9,246.2 404.3,255.0 404.6,248.7 405.0,242.2 405.4,249.3 405.7,258.8 406.0,236.5 406.4,266.9 406.8,252.2 407.1,235.4 407.4,229.1 407.8,238.1 408.1,260.1 408.5,273.4 408.9,261.9 409.2,255.8 409.5,255.0 409.9,266.5 410.2,263.1 410.6,256.0 410.9,256.6 411.3,243.1 411.6,252.6 412.0,253.8 412.4,262.8 412.7,256.0 413.0,277.5 413.4,261.8 413.8,274.0 414.1,256.8 414.5,254.6 414.8,259.7 415.1,242.4 415.5,266.6 415.9,259.6 416.2,264.1 416.5,263.7 416.9,244.9 417.2,273.3 417.6,240.6 417.9,244.3 418.3,253.9 418.6,262.3 419.0,256.0 419.4,264.4 419.7,245.5 420.0,272.7 420.4,270.0 420.8,258.5 421.1,289.8 421.5,242.6 421.8,264.8 422.1,251.2 422.5,257.1 422.8,281.4 423.2,258.9 423.5,254.8 423.9,273.2 424.2,275.6 424.6,272.2 424.9,251.3 425.3,274.4 425.6,271.4 426.0,261.1 426.4,258.8 426.7,267.7 427.0,243.2 427.4,242.6 427.8,275.4 428.1,242.6 428.5,259.6 428.8,256.0 429.1,254.9 429.5,277.8 429.9,281.2 430.2,256.7 430.5,273.1 430.9,229.9 431.2,267.4 431.6,255.0 431.9,274.7 432.3,237.6 432.6,240.8 433.0,281.3 433.4,259.3 433.7,262.5 434.0,246.7 434.4,297.8 434.8,267.9 435.1,254.1 435.4,270.0 435.8,277.1 436.1,283.2 436.5,262.0 436.9,273.4 437.2,284.3 437.5,265.6 437.9,275.9 438.2,264.3 438.6,258.5 439.0,255.4 439.3,263.5 439.6,280.5 440.0,271.1 440.4,272.6 440.7,256.1 441.0,277.2 441.4,257.1 441.8,270.7 442.1,262.5 442.4,276.1 442.8,254.8 443.1,276.1 443.5,251.1 443.9,266.3 444.2,261.9 444.5,262.2 444.9,281.0 445.2,252.6 445.6,289.4 446.0,268.5 446.3,263.3 446.6,259.3 447.0,281.2 447.3,277.4 447.7,282.9 448.0,285.8 448.4,275.4 448.8,282.7 449.1,265.8 449.4,275.0 449.8,281.8 450.1,281.8 450.5,270.7 450.9,285.4 451.2,293.8 451.5,287.8 451.9,270.1 452.2,296.0 452.6,271.7 453.0,263.4 453.3,281.6 453.6,279.6 454.0,293.3 454.3,287.0 454.7,281.7 455.0,268.8 455.4,278.4 455.8,292.1 456.1,281.8 456.4,289.3 456.8,255.6 457.1,288.3 457.5,255.2 457.9,294.9 458.2,293.2 458.5,256.1 458.9,278.2 459.2,247.3 459.6,263.8 459.9,257.1 460.3,293.8 460.6,272.3 461.0,278.4 461.4,254.6 461.7,283.9 462.0,274.3 462.4,287.6 462.8,299.3 463.1,267.8 463.4,282.1 463.8,275.3 464.1,293.0 464.5,277.8 464.9,289.5 465.2,284.5 465.5,275.9 465.9,287.2 466.2,271.9 466.6,295.1 466.9,289.3 467.3,263.8 467.6,290.7 468.0,306.1 468.4,265.6 468.7,288.6 469.0,297.3 469.4,302.1 469.8,276.0 470.1,299.3 470.5,310.1 470.8,277.9 471.1,283.0 471.5,278.0 471.8,293.5 472.2,282.6 472.5,301.1 472.9,295.8 473.2,285.4 473.6,284.5 473.9,275.2 474.3,278.7 474.6,302.0 475.0,297.1 475.4,279.0 475.7,275.7 476.0,283.7 476.4,294.2 476.8,285.5 477.1,273.4 477.5,273.8 477.8,298.2 478.1,305.7 478.5,293.4 478.8,304.1 479.2,292.0 479.5,303.3 479.9,289.1 480.2,285.4 480.6,272.5 480.9,276.1 481.3,291.4 481.6,305.9 482.0,284.3 482.4,303.0 482.7,313.9 483.0,307.6 483.4,316.6 483.8,272.4 484.1,284.0 484.4,278.6 484.8,305.2 485.1,302.1 485.5,296.6 485.9,305.8 486.2,306.0 486.5,297.2 486.9,315.7 487.2,301.1 487.6,283.3 487.9,298.9 488.3,329.4 488.6,317.4 489.0,311.9 489.4,309.6 489.7,301.9 490.0,316.4 490.4,281.7 490.8,305.9 491.1,296.8 491.4,315.7 491.8,335.0 492.1,298.7 492.5,292.5 492.9,296.8 493.2,305.6 493.5,301.7 493.9,317.0 494.2,329.7 494.6,306.6 495.0,298.6 495.3,298.7 495.6,293.6 496.0,291.7 496.4,294.1 496.7,296.3 497.0,303.5 497.4,314.2 497.8,335.6 498.1,305.7 498.4,286.8 498.8,299.6 499.1,281.4 499.5,300.9 499.9,341.6 500.2,291.5 500.5,320.7 500.9,307.6 501.2,312.1 501.6,306.3 502.0,282.6 502.3,289.5 502.6,326.4 503.0,299.3 503.3,322.3 503.7,289.7 504.0,283.2 504.4,311.0 504.8,291.8 505.1,291.4 505.4,293.8 505.8,294.8 506.1,309.2 506.5,300.8 506.9,304.8 507.2,302.6 507.5,304.4 507.9,335.7 508.2,307.6 508.6,290.0 508.9,327.4 509.3,313.3 509.6,351.7 510.0,301.7 510.4,305.8 510.7,293.9 511.0,290.1 511.4,325.1 511.8,319.9 512.1,300.1 512.4,319.0 512.8,300.0 513.1,336.6 513.5,317.8 513.9,328.2 514.2,333.6 514.5,310.3 514.9,330.0 515.2,320.9 515.6,323.3 515.9,357.3 516.3,306.1 516.6,308.6 517.0,312.8 517.4,320.9 517.7,293.7 518.0,315.3 518.4,331.6 518.8,314.7 519.1,298.3 519.5,320.2 519.8,315.9 520.1,315.6 520.5,304.1 520.9,308.5 521.2,321.8 521.5,307.3 521.9,322.8 522.2,320.8 522.6,296.9 522.9,320.3 523.3,330.6 523.6,307.5 524.0,331.5 524.4,303.1 524.7,316.0 525.0,300.4 525.4,315.3 525.8,331.5 526.1,361.2 526.4,331.6 526.8,302.0 527.1,324.6 527.5,303.3 527.8,299.0 528.2,344.3 528.5,326.6 528.9,318.5 529.2,295.2 529.6,294.5 530.0,329.1 530.3,308.1 530.6,312.6 531.0,335.0 531.3,303.4 531.7,290.9 532.0,334.0 532.4,309.1 532.8,332.4 533.1,302.0 533.5,313.1 533.8,324.6 534.1,321.8 534.5,294.1 534.9,322.0 535.2,302.3 535.5,348.2 535.9,343.4 536.2,303.5 536.6,321.4 536.9,327.4 537.3,345.1 537.6,317.7 538.0,342.9 538.4,328.5 538.7,312.8 539.0,327.5 539.4,347.9 539.8,351.6 540.1,332.4 540.4,359.8 540.8,312.2 541.1,337.7 541.5,334.8 541.9,330.5 542.2,339.2 542.6,303.9 542.9,337.9 543.2,344.5 543.6,308.9 543.9,338.7 544.3,301.5 544.6,318.7 545.0,332.2 545.3,330.5 545.7,341.8 546.0,343.9 546.4,308.9 546.8,336.4 547.1,327.7 547.5,333.3 547.8,323.7 548.1,330.3 548.5,326.5 548.9,332.8 549.2,306.3 549.5,333.4 549.9,326.7 550.2,323.2 550.6,341.9 551.0,321.3 551.3,330.9 551.6,334.4 552.0,337.9 552.4,326.9 552.7,324.1 553.0,323.6 553.4,317.4 553.8,331.4 554.1,308.6 554.4,327.2 554.8,314.3 555.1,331.6 555.5,308.6 555.9,334.3 556.2,342.9 556.5,332.9 556.9,327.1 557.2,356.6 557.6,323.6 557.9,358.6 558.3,330.5 558.6,341.1 559.0,348.8 559.3,338.4 559.7,312.5 560.1,301.5 560.4,332.7 560.8,303.9 561.1,323.4 561.4,299.3 561.8,325.6 562.1,318.8 562.5,345.1 562.8,307.8 563.2,312.2 563.5,307.8 563.9,302.3 564.2,333.8 564.6,319.3 565.0,358.4 565.3,340.4 565.6,347.4 566.0,314.5 566.4,317.0 566.7,319.7 567.0,323.0 567.4,292.9 567.7,313.3 568.1,336.3 568.4,296.2 568.8,298.6 569.1,313.5 569.5,371.0 569.9,341.6 570.2,317.7 570.5,341.6 570.9,355.9 571.2,325.3 571.6,339.0 571.9,321.6 572.3,322.0 572.6,303.6 573.0,346.6 573.4,310.9 573.7,346.6 574.0,314.6 574.4,319.4 574.8,320.8 575.1,334.0 575.4,348.6 575.8,328.5 576.1,321.3 576.5,311.2 576.8,326.0 577.2,321.7 577.5,348.3 577.9,360.7 578.2,328.9 578.6,291.4 579.0,334.1 579.3,349.0 579.6,379.7 580.0,325.6 580.3,350.2 580.7,342.4 581.0,328.5 581.4,320.8 581.7,305.1 582.1,311.9 582.5,319.7 582.8,332.0 583.1,352.1 583.5,335.7 583.9,321.5 584.2,369.3 584.5,337.4 584.9,306.9 585.2,317.9 585.6,337.1 585.9,337.1 586.3,321.3 586.6,339.5 587.0,323.6 587.4,309.9 587.7,335.3 588.0,341.1 588.4,314.7 588.8,326.3 589.1,345.1 589.4,369.4 589.8,301.9 590.1,301.6 590.5,334.8 590.8,324.7 591.2,328.4 591.6,323.9 591.9,303.1 592.2,323.6 592.6,334.3 592.9,326.7 593.3,329.1 593.6,319.4 594.0,336.3 594.3,343.6 594.7,300.4 595.0,326.2 595.4,322.1 595.8,295.3 596.1,334.1 596.5,336.9 596.8,332.8 597.1,353.3 597.5,361.8 597.9,354.6 598.2,322.8 598.5,361.8 598.9,332.7 599.2,336.1 599.6,310.0 599.9,341.1 600.3,320.7 600.6,320.0 601.0,324.6 601.4,310.4 601.7,368.5 602.0,335.2 602.4,342.4 602.8,345.0 603.1,313.7 603.5,344.3 603.8,346.8 604.2,315.0 604.5,375.3 604.9,312.4 605.2,358.5 605.5,302.3 605.9,348.0 606.2,339.1 606.6,336.6 606.9,332.1 607.3,325.1 607.6,336.0 608.0,316.1 608.4,322.8 608.7,364.6 609.1,380.4 609.4,295.3 609.8,377.1 610.1,333.7 610.5,347.3 610.8,344.6 611.1,348.7 611.5,296.3 611.8,321.1 612.2,352.8 612.6,320.8 612.9,336.5 613.2,300.7 613.6,332.5 614.0,372.0 614.3,302.4 614.6,305.4 615.0,299.1 615.4,326.6 615.7,370.0 616.0,356.2 616.4,340.4 616.8,333.4 617.1,346.3 617.5,326.2 617.8,357.3 618.1,347.3 618.5,351.7 618.9,343.1 619.2,371.3 619.5,304.7 619.9,363.0 620.2,348.5 620.6,328.7 620.9,356.5 621.3,319.1 621.7,317.7 622.0,315.3 622.4,348.6 622.7,349.7 623.1,342.1 623.4,348.5 623.8,332.3 624.1,325.1 624.4,329.2 624.8,336.7 625.1,306.9 625.5,303.4 625.9,310.4 626.2,314.8 626.6,325.1 626.9,293.5 627.2,332.6 627.6,350.6 628.0,330.2 628.3,322.3 628.6,327.2 629.0,323.0 629.3,326.7 629.7,313.8 630.0,330.6 630.4,334.1 630.8,325.7 631.1,313.1 631.5,316.5 631.8,335.5 632.1,314.5 632.5,321.7 632.9,302.9 633.2,324.6 633.5,308.2 633.9,289.7 634.2,304.8 634.6,309.7 635.0,307.6 635.3,316.3 635.6,294.5 636.0,325.6 636.4,311.2 636.7,317.8 637.0,287.2 637.4,253.4 637.8,319.1 638.1,281.1 638.4,298.6 638.8,257.3 639.1,339.1 639.5,304.9 639.9,277.2 640.2,289.7 640.6,277.4 640.9,317.5 641.2,287.2 641.6,294.6 641.9,241.0 642.3,277.2 642.6,274.4 643.0,283.1 643.4,247.3 643.7,271.1 644.1,265.7 644.4,292.7 644.8,252.5 645.1,251.4 645.5,291.2 645.8,281.6 646.1,259.4 646.5,268.3 646.9,281.4 647.2,261.0 647.5,248.1 647.9,260.2 648.2,268.6 648.6,250.3 649.0,260.3 649.3,271.0 649.6,247.8 650.0,228.5 650.4,227.4 650.7,245.0 651.0,253.1 651.4,245.2 651.8,238.6 652.1,230.6 652.5,244.4 652.8,240.4 653.2,231.7 653.5,259.4 653.9,239.7 654.2,228.2 654.5,216.0 654.9,229.2 655.2,243.0 655.6,247.6 655.9,237.4 656.3,251.1 656.6,239.1 657.0,230.3 657.4,226.2 657.7,201.3 658.1,214.5 658.4,210.3 658.8,200.2 659.1,214.6 659.5,221.4 659.8,209.2 660.1,210.8 660.5,163.8 660.8,159.0 661.2,183.8 661.6,172.6 661.9,148.8 662.2,156.8 662.6,156.2 663.0,157.1 663.3,146.3 663.6,184.8 664.0,202.2 664.4,175.4 664.7,148.6 665.0,172.4 665.4,162.8 665.8,155.9 666.1,152.7 666.5,167.9 666.8,151.4 667.1,124.9 667.5,129.3 667.9,141.5 668.2,139.9 668.5,107.6 668.9,104.1 669.2,154.9 669.6,146.6 669.9,136.8 670.3,115.3 670.7,126.3 671.0,127.8 671.4,93.7 671.7,110.2 672.1,142.2" fill="none" stroke="#ff0000" stroke-width="1.5" stroke-linejoin="round"/>
<polyline points="88.6,28.9 88.9,52.9 89.3,75.7 89.6,96.9 90.0,116.3 90.3,133.8 90.7,149.9 91.0,164.9 91.4,178.7 91.8,191.1 92.1,201.9 92.4,211.7 92.8,220.6 93.1,228.9 93.5,236.5 93.8,243.5 94.2,250.3 94.5,256.5 94.9,262.3 95.2,267.8 95.6,273.2 95.9,278.2 96.3,283.2 96.6,288.0 97.0,292.9 97.3,298.1 97.7,303.5 98.0,309.1 98.4,314.4 98.8,319.8 99.1,324.4 99.4,328.5 99.8,331.9 100.1,334.8 100.5,337.2 100.8,339.5 101.2,341.5 101.5,343.4 101.9,345.2 102.2,347.1 102.6,348.6 102.9,350.4 103.3,352.3 103.6,354.1 104.0,355.9 104.3,358.0 104.7,359.5 105.0,361.4 105.4,363.3 105.8,364.9 106.1,366.8 106.4,368.5 106.8,370.4 107.1,372.3 107.5,374.2 107.8,376.1 108.2,378.0 108.5,380.0 108.9,381.6 109.2,383.5 109.6,385.3 109.9,386.8 110.3,388.5 110.6,390.2 111.0,391.6 111.3,392.7 111.7,393.9 112.0,395.0 112.4,396.3 112.8,397.5 113.1,398.9 113.4,399.7 113.8,401.1 114.1,402.1 114.5,403.1 114.8,404.1 115.2,405.2 115.5,406.0 115.9,407.2 116.2,407.7 116.6,408.2 116.9,408.9 117.3,409.8 117.6,409.8 118.0,410.2 118.3,410.7 118.7,410.8 119.0,410.6 119.4,410.3 119.8,410.4 120.1,410.6 120.4,410.3 120.8,410.1 121.1,410.1 121.5,410.0 121.8,409.7 122.2,409.8 122.5,409.0 122.9,408.7 123.2,407.9 123.6,407.3 123.9,406.5 124.3,406.0 124.6,405.3 125.0,404.5 125.3,404.4 125.7,403.8 126.0,403.1 126.4,402.6 126.8,402.2 127.1,401.8 127.4,401.1 127.8,400.8 128.1,399.9 128.5,399.7 128.8,399.0 129.2,399.1 129.5,398.6 129.9,398.0 130.2,397.8 130.6,397.2 130.9,396.4 131.3,396.2 131.6,395.5 132.0,394.6 132.3,394.5 132.7,393.7 133.0,393.2 133.4,392.8 133.8,392.0 134.1,391.2 134.4,390.7 134.8,389.9 135.1,389.2 135.5,388.2 135.8,387.0 136.2,386.2 136.5,385.6 136.9,384.3 137.2,382.7 137.6,381.6 137.9,381.1 138.3,379.6 138.6,378.4 139.0,377.8 139.3,375.8 139.7,374.1 140.0,373.5 140.4,372.2 140.8,370.5 141.1,369.6 141.4,368.3 141.8,366.9 142.1,365.9 142.5,364.3 142.8,363.3 143.2,361.7 143.5,360.3 143.9,359.0 144.2,358.5 144.6,357.1 144.9,355.9 145.3,355.3 145.6,353.7 146.0,352.5 146.3,351.4 146.7,349.9 147.0,349.1 147.4,348.2 147.8,347.1 148.1,345.8 148.4,344.6 148.8,343.2 149.1,342.7 149.5,341.3 149.8,340.8 150.2,339.5 150.5,337.7 150.9,337.2 151.2,335.9 151.6,333.8 151.9,333.3 152.3,332.0 152.6,330.6 153.0,329.6 153.3,328.0 153.7,326.8 154.1,324.9 154.4,323.6 154.8,322.3 155.1,321.5 155.4,319.8 155.8,317.7 156.1,316.1 156.5,315.1 156.8,313.0 157.2,311.5 157.5,310.5 157.9,308.6 158.2,307.4 158.6,306.3 158.9,304.8 159.3,303.0 159.6,302.0 160.0,301.1 160.3,299.4 160.7,298.5 161.1,297.4 161.4,297.0 161.8,296.1 162.1,294.8 162.4,292.8 162.8,292.1 163.1,292.0 163.5,290.1 163.8,289.8 164.2,288.5 164.6,287.1 164.9,286.9 165.2,285.3 165.6,284.4 165.9,284.3 166.3,283.0 166.6,281.9 167.0,281.3 167.3,280.6 167.7,278.9 168.1,278.8 168.4,277.9 168.8,277.0 169.1,275.9 169.4,274.6 169.8,274.6 170.1,273.1 170.5,272.3 170.8,271.7 171.2,270.6 171.5,269.8 171.9,269.1 172.2,268.6 172.6,266.7 172.9,266.0 173.3,264.9 173.6,264.7 174.0,263.3 174.3,262.4 174.7,261.8 175.1,260.8 175.4,259.7 175.8,258.3 176.1,257.4 176.4,255.5 176.8,254.8 177.1,253.1 177.5,252.0 177.8,251.0 178.2,249.9 178.6,248.6 178.9,247.5 179.2,246.2 179.6,244.9 179.9,243.9 180.3,242.5 180.6,241.7 181.0,241.6 181.3,239.8 181.7,239.2 182.1,237.9 182.4,237.8 182.8,236.3 183.1,236.2 183.4,235.2 183.8,234.3 184.1,233.6 184.5,233.3 184.8,232.7 185.2,231.6 185.5,231.1 185.9,228.7 186.2,231.0 186.6,229.3 186.9,226.6 187.3,228.7 187.6,226.7 188.0,225.8 188.3,225.1 188.7,224.2 189.1,223.4 189.4,221.3 189.8,222.5 190.1,221.5 190.4,221.7 190.8,222.6 191.1,221.4 191.5,219.1 191.8,219.4 192.2,219.1 192.6,218.0 192.9,218.1 193.2,216.7 193.6,216.3 193.9,216.3 194.3,215.4 194.6,214.4 195.0,215.9 195.3,212.2 195.7,214.5 196.0,212.9 196.4,212.8 196.8,210.2 197.1,213.5 197.4,210.9 197.8,209.1 198.2,212.3 198.5,211.5 198.8,206.7 199.2,210.2 199.5,205.0 199.9,209.5 200.2,208.2 200.6,207.1 200.9,207.6 201.3,207.1 201.6,204.7 202.0,208.1 202.3,204.2 202.7,207.2 203.1,204.9 203.4,202.1 203.8,206.2 204.1,201.3 204.4,209.1 204.8,210.2 205.1,201.1 205.5,200.8 205.8,204.0 206.2,202.2 206.6,202.1 206.9,203.1 207.2,204.0 207.6,202.1 207.9,197.2 208.3,200.5 208.6,199.1 209.0,197.2 209.3,198.5 209.7,200.3 210.1,201.7 210.4,200.1 210.7,198.3 211.1,197.8 211.4,197.6 211.8,192.3 212.1,199.4 212.5,200.4 212.8,195.2 213.2,195.7 213.6,196.0 213.9,196.0 214.2,194.7 214.6,186.2 214.9,186.2 215.3,191.8 215.6,197.5 216.0,193.0 216.3,189.9 216.7,193.3 217.0,192.2 217.4,191.3 217.7,187.8 218.1,191.0 218.4,194.0 218.8,194.0 219.2,192.5 219.5,191.1 219.8,195.7 220.2,191.2 220.5,192.1 220.9,194.6 221.2,189.2 221.6,192.6 221.9,190.0 222.3,194.5 222.7,193.4 223.0,193.7 223.3,192.6 223.7,194.9 224.0,196.4 224.4,187.2 224.8,198.1 225.1,193.1 225.4,195.7 225.8,197.2 226.1,193.5 226.5,191.8 226.8,194.7 227.2,190.9 227.5,193.5 227.9,196.4 228.2,192.6 228.6,196.7 228.9,186.0 229.3,192.6 229.6,181.7 230.0,189.3 230.3,190.3 230.7,190.9 231.0,190.9 231.4,183.6 231.8,196.9 232.1,192.2 232.4,179.2 232.8,179.2 233.1,191.7 233.5,183.6 233.8,182.0 234.2,183.8 234.5,185.3 234.9,185.2 235.2,186.3 235.6,182.1 235.9,180.4 236.3,188.0 236.6,189.4 237.0,180.0 237.3,189.7 237.7,189.3 238.1,181.8 238.4,193.4 238.7,190.9 239.1,192.0 239.4,194.9 239.8,188.6 240.1,192.9 240.5,200.5 240.8,194.1 241.2,186.6 241.5,208.0 241.9,190.5 242.2,181.8 242.6,198.5 242.9,189.1 243.3,202.5 243.7,196.7 244.0,193.5 244.3,197.2 244.7,206.2 245.0,188.1 245.4,193.5 245.7,190.0 246.1,189.0 246.4,194.3 246.8,193.6 247.2,201.0 247.5,197.4 247.8,203.3 248.2,187.8 248.5,201.2 248.9,185.7 249.2,191.6 249.6,182.6 249.9,190.6 250.3,191.4 250.7,200.8 251.0,200.6 251.3,210.9 251.7,215.8 252.0,209.4 252.4,185.7 252.8,182.6 253.1,191.1 253.4,190.7 253.8,187.7 254.1,196.1 254.5,179.9 254.8,193.3 255.2,199.5 255.5,196.4 255.9,200.4 256.2,187.1 256.6,189.6 256.9,190.2 257.3,191.5 257.6,199.6 258.0,204.7 258.4,229.5 258.7,186.2 259.0,199.3 259.4,202.0 259.8,199.2 260.1,199.6 260.4,192.0 260.8,194.9 261.1,188.9 261.5,197.3 261.9,198.1 262.2,193.7 262.5,189.7 262.9,197.0 263.2,197.9 263.6,207.0 263.9,199.2 264.3,198.2 264.6,195.6 265.0,183.7 265.4,207.9 265.7,207.9 266.1,209.0 266.4,202.3 266.8,192.4 267.1,206.4 267.4,195.1 267.8,196.3 268.1,198.1 268.5,222.3 268.9,209.3 269.2,202.3 269.5,213.3 269.9,202.6 270.2,205.8 270.6,205.5 270.9,208.2 271.3,192.0 271.6,211.0 272.0,193.5 272.4,191.2 272.7,195.7 273.0,195.8 273.4,194.5 273.8,200.7 274.1,193.3 274.4,191.2 274.8,196.5 275.1,192.3 275.5,201.8 275.8,198.3 276.2,217.2 276.5,197.1 276.9,194.7 277.2,194.4 277.6,196.8 277.9,195.0 278.3,196.2 278.6,196.3 279.0,199.5 279.4,191.4 279.7,190.6 280.0,202.0 280.4,193.4 280.8,190.8 281.1,199.1 281.4,218.6 281.8,200.2 282.1,199.8 282.5,196.3 282.9,204.8 283.2,204.8 283.5,193.9 283.9,204.5 284.2,199.3 284.6,203.9 284.9,202.3 285.3,211.5 285.6,205.2 286.0,214.3 286.4,218.2 286.7,209.2 287.0,202.3 287.4,214.5 287.8,205.7 288.1,201.0 288.4,210.3 288.8,210.9 289.1,212.3 289.5,232.0 289.9,214.7 290.2,221.7 290.5,221.9 290.9,213.5 291.2,227.2 291.6,208.4 291.9,213.7 292.3,219.9 292.6,213.2 293.0,214.6 293.4,206.9 293.7,232.7 294.1,223.4 294.4,216.4 294.8,214.2 295.1,224.4 295.4,209.3 295.8,216.1 296.1,211.1 296.5,219.5 296.9,220.8 297.2,213.6 297.5,220.1 297.9,224.3 298.2,219.3 298.6,210.8 298.9,217.5 299.3,216.9 299.6,223.6 300.0,214.6 300.3,222.6 300.7,218.9 301.0,226.9 301.4,222.4 301.8,213.9 302.1,218.3 302.4,236.5 302.8,208.5 303.1,225.4 303.5,234.7 303.8,210.0 304.2,226.2 304.6,217.5 304.9,224.3 305.2,208.6 305.6,214.7 305.9,240.9 306.3,219.0 306.6,225.6 307.0,236.1 307.4,220.4 307.7,222.6 308.0,227.3 308.4,212.3 308.8,210.3 309.1,213.2 309.4,202.2 309.8,216.4 310.1,225.8 310.5,213.0 310.9,232.1 311.2,217.2 311.5,221.6 311.9,222.1 312.2,221.6 312.6,220.3 312.9,210.7 313.3,225.8 313.6,217.1 314.0,212.5 314.4,213.4 314.7,203.2 315.0,208.5 315.4,193.5 315.8,203.5 316.1,216.4 316.5,210.3 316.8,195.3 317.1,219.7 317.5,218.6 317.8,222.5 318.2,209.9 318.5,201.9 318.9,198.5 319.2,215.1 319.6,219.0 319.9,206.5 320.3,210.7 320.6,202.4 321.0,208.8 321.4,198.6 321.7,213.8 322.1,209.6 322.4,209.7 322.8,215.0 323.1,205.7 323.4,222.6 323.8,222.5 324.1,230.2 324.5,207.8 324.8,202.1 325.2,204.5 325.5,195.3 325.9,208.8 326.2,216.3 326.6,205.3 326.9,205.8 327.3,206.1 327.6,197.5 328.0,215.5 328.4,216.1 328.7,208.3 329.1,197.2 329.4,214.5 329.8,195.3 330.1,195.1 330.4,214.5 330.8,213.5 331.1,208.4 331.5,222.1 331.8,196.9 332.2,207.0 332.5,199.4 332.9,214.7 333.2,207.6 333.6,210.8 333.9,195.4 334.3,220.0 334.6,205.2 335.0,211.5 335.4,212.5 335.7,227.1 336.0,214.8 336.4,215.7 336.8,207.2 337.1,217.0 337.4,222.0 337.8,205.3 338.1,213.9 338.5,219.1 338.9,217.0 339.2,211.9 339.5,218.9 339.9,218.9 340.2,208.9 340.6,219.8 340.9,240.5 341.3,214.0 341.6,211.0 342.0,213.6 342.3,217.2 342.7,243.4 343.0,234.1 343.4,227.1 343.8,225.9 344.1,229.0 344.4,241.5 344.8,236.6 345.1,235.1 345.5,222.0 345.9,212.1 346.2,247.8 346.5,233.0 346.9,241.7 347.2,223.2 347.6,230.5 348.0,228.7 348.3,232.0 348.6,238.2 349.0,238.9 349.4,234.8 349.7,225.5 350.0,213.7 350.4,222.0 350.8,235.5 351.1,216.6 351.4,228.5 351.8,230.2 352.1,229.7 352.5,238.7 352.9,243.6 353.2,236.4 353.5,231.2 353.9,227.9 354.2,243.5 354.6,230.4 354.9,244.9 355.3,215.9 355.6,234.1 356.0,237.4 356.4,221.2 356.7,226.5 357.0,236.7 357.4,211.3 357.8,234.6 358.1,222.4 358.5,232.0 358.8,217.7 359.1,220.4 359.5,234.0 359.9,231.6 360.2,213.5 360.5,224.6 360.9,217.3 361.2,222.1 361.6,215.1 361.9,217.8 362.3,228.0 362.6,209.5 363.0,224.9 363.4,223.3 363.7,221.6 364.0,216.3 364.4,233.9 364.8,225.8 365.1,227.3 365.5,229.1 365.8,236.2 366.1,253.4 366.5,238.6 366.8,220.0 367.2,230.6 367.5,233.7 367.9,231.0 368.2,221.1 368.6,240.7 368.9,233.9 369.3,230.3 369.6,222.4 370.0,229.9 370.4,230.4 370.7,250.3 371.0,250.7 371.4,234.0 371.8,241.9 372.1,243.6 372.5,234.2 372.8,228.4 373.1,210.2 373.5,245.5 373.9,234.8 374.2,213.2 374.5,246.4 374.9,230.7 375.2,247.9 375.6,225.3 375.9,244.4 376.3,231.6 376.6,230.5 377.0,242.5 377.4,253.7 377.7,246.8 378.0,236.4 378.4,233.3 378.8,230.7 379.1,250.6 379.4,226.2 379.8,235.6 380.1,241.2 380.5,247.8 380.9,249.6 381.2,262.4 381.5,245.9 381.9,242.8 382.2,225.9 382.6,234.5 383.0,253.6 383.3,236.5 383.6,256.9 384.0,221.6 384.4,217.8 384.7,239.4 385.0,248.3 385.4,229.8 385.8,239.5 386.1,240.2 386.4,241.7 386.8,252.8 387.1,238.1 387.5,233.0 387.9,244.7 388.2,249.1 388.5,249.9 388.9,238.9 389.2,236.2 389.6,250.1 390.0,260.4 390.3,245.1 390.6,251.9 391.0,247.2 391.4,231.7 391.7,235.7 392.0,271.8 392.4,265.2 392.8,252.2 393.1,268.9 393.4,275.3 393.8,259.3 394.1,259.6 394.5,259.6 394.9,253.1 395.2,263.0 395.5,258.6 395.9,260.2 396.2,249.1 396.6,279.1 397.0,255.1 397.3,279.1 397.6,276.6 398.0,259.6 398.3,257.2 398.7,259.2 399.0,262.8 399.4,261.6 399.8,271.9 400.1,261.6 400.4,248.9 400.8,285.6 401.1,267.0 401.5,272.8 401.9,281.6 402.2,268.1 402.5,268.6 402.9,295.9 403.2,289.3 403.6,270.4 403.9,267.8 404.3,251.1 404.6,270.1 405.0,253.3 405.4,270.4 405.7,277.8 406.0,265.6 406.4,272.6 406.8,266.4 407.1,293.0 407.4,261.5 407.8,266.4 408.1,263.1 408.5,261.6 408.9,247.4 409.2,265.8 409.5,267.7 409.9,255.8 410.2,253.4 410.6,262.9 410.9,269.6 411.3,273.8 411.6,273.5 412.0,273.9 412.4,256.8 412.7,272.8 413.0,258.4 413.4,275.2 413.8,255.3 414.1,266.6 414.5,250.2 414.8,260.4 415.1,261.7 415.5,273.5 415.9,271.8 416.2,270.8 416.5,268.7 416.9,274.7 417.2,260.3 417.6,261.6 417.9,270.3 418.3,249.5 418.6,267.8 419.0,284.7 419.4,270.5 419.7,268.2 420.0,273.0 420.4,266.4 420.8,281.4 421.1,272.3 421.5,270.9 421.8,268.1 422.1,276.3 422.5,279.4 422.8,273.2 423.2,268.0 423.5,274.8 423.9,275.2 424.2,287.2 424.6,256.7 424.9,285.5 425.3,241.9 425.6,275.5 426.0,257.6 426.4,277.7 426.7,266.5 427.0,270.4 427.4,275.5 427.8,287.7 428.1,278.7 428.5,288.5 428.8,255.2 429.1,284.0 429.5,252.7 429.9,276.7 430.2,293.0 430.5,256.7 430.9,261.2 431.2,277.2 431.6,279.1 431.9,280.3 432.3,260.7 432.6,289.4 433.0,280.3 433.4,262.9 433.7,250.6 434.0,281.7 434.4,279.8 434.8,284.4 435.1,264.7 435.4,284.0 435.8,277.5 436.1,268.9 436.5,266.4 436.9,266.6 437.2,285.0 437.5,273.0 437.9,270.7 438.2,267.0 438.6,256.8 439.0,262.7 439.3,283.0 439.6,272.2 440.0,290.4 440.4,257.2 440.7,276.2 441.0,276.2 441.4,270.6 441.8,281.8 442.1,266.7 442.4,266.5 442.8,271.8 443.1,275.1 443.5,317.3 443.9,280.6 444.2,274.3 444.5,275.6 444.9,320.8 445.2,269.7 445.6,265.3 446.0,291.1 446.3,290.8 446.6,278.1 447.0,292.6 447.3,294.8 447.7,300.7 448.0,266.5 448.4,281.3 448.8,294.1 449.1,297.7 449.4,275.3 449.8,291.1 450.1,288.2 450.5,286.4 450.9,293.3 451.2,281.1 451.5,275.7 451.9,307.4 452.2,299.7 452.6,282.6 453.0,299.7 453.3,292.6 453.6,270.3 454.0,283.2 454.3,276.1 454.7,277.1 455.0,277.4 455.4,288.9 455.8,272.6 456.1,304.8 456.4,300.9 456.8,287.1 457.1,302.7 457.5,290.9 457.9,298.8 458.2,278.2 458.5,284.3 458.9,279.9 459.2,298.0 459.6,318.8 459.9,277.5 460.3,272.5 460.6,302.5 461.0,307.4 461.4,315.4 461.7,280.0 462.0,309.0 462.4,289.3 462.8,288.3 463.1,299.8 463.4,295.8 463.8,298.4 464.1,280.1 464.5,271.4 464.9,274.6 465.2,315.0 465.5,307.0 465.9,296.4 466.2,284.9 466.6,280.0 466.9,320.2 467.3,288.3 467.6,278.3 468.0,292.1 468.4,291.2 468.7,313.8 469.0,269.4 469.4,285.1 469.8,296.5 470.1,301.9 470.5,283.5 470.8,272.8 471.1,293.9 471.5,314.6 471.8,284.6 472.2,301.3 472.5,293.8 472.9,296.4 473.2,309.7 473.6,281.4 473.9,313.9 474.3,275.6 474.6,309.0 475.0,299.2 475.4,298.8 475.7,291.5 476.0,311.9 476.4,274.7 476.8,306.7 477.1,280.0 477.5,287.9 477.8,303.7 478.1,311.9 478.5,295.2 478.8,296.2 479.2,313.3 479.5,304.7 479.9,296.0 480.2,290.1 480.6,306.6 480.9,309.1 481.3,319.1 481.6,324.9 482.0,295.3 482.4,304.3 482.7,311.9 483.0,292.4 483.4,296.8 483.8,336.0 484.1,343.2 484.4,310.8 484.8,320.0 485.1,299.2 485.5,329.2 485.9,312.0 486.2,305.5 486.5,331.3 486.9,284.7 487.2,327.8 487.6,314.3 487.9,323.9 488.3,321.3 488.6,328.4 489.0,327.0 489.4,310.3 489.7,339.1 490.0,318.5 490.4,316.8 490.8,316.4 491.1,315.3 491.4,289.3 491.8,314.9 492.1,318.3 492.5,325.8 492.9,299.2 493.2,301.4 493.5,335.2 493.9,330.2 494.2,330.8 494.6,303.5 495.0,312.9 495.3,305.2 495.6,329.7 496.0,318.3 496.4,316.5 496.7,300.0 497.0,329.6 497.4,354.1 497.8,324.0 498.1,301.4 498.4,291.2 498.8,348.2 499.1,309.8 499.5,304.6 499.9,315.8 500.2,322.7 500.5,309.3 500.9,325.4 501.2,293.8 501.6,327.1 502.0,288.9 502.3,316.3 502.6,323.7 503.0,301.1 503.3,317.1 503.7,305.4 504.0,308.6 504.4,324.2 504.8,321.7 505.1,290.7 505.4,332.9 505.8,311.0 506.1,299.7 506.5,307.4 506.9,303.9 507.2,329.6 507.5,306.1 507.9,302.9 508.2,342.6 508.6,313.3 508.9,326.3 509.3,328.2 509.6,308.5 510.0,315.9 510.4,300.4 510.7,313.5 511.0,349.7 511.4,330.1 511.8,316.1 512.1,309.7 512.4,330.6 512.8,313.3 513.1,331.3 513.5,303.3 513.9,321.3 514.2,316.6 514.5,360.6 514.9,320.7 515.2,319.6 515.6,334.0 515.9,333.9 516.3,311.5 516.6,331.6 517.0,320.9 517.4,353.3 517.7,313.2 518.0,352.0 518.4,352.9 518.8,323.2 519.1,335.2 519.5,343.8 519.8,321.6 520.1,329.4 520.5,304.8 520.9,326.5 521.2,310.4 521.5,339.8 521.9,326.4 522.2,283.9 522.6,320.4 522.9,339.7 523.3,338.2 523.6,333.7 524.0,325.5 524.4,365.6 524.7,317.1 525.0,326.8 525.4,340.8 525.8,321.6 526.1,368.5 526.4,309.9 526.8,330.0 527.1,320.6 527.5,348.4 527.8,327.8 528.2,336.2 528.5,318.5 528.9,353.3 529.2,304.5 529.6,332.6 530.0,309.3 530.3,331.3 530.6,333.8 531.0,334.6 531.3,318.5 531.7,325.1 532.0,348.1 532.4,342.9 532.8,327.4 533.1,350.5 533.5,327.1 533.8,346.1 534.1,319.2 534.5,332.2 534.9,331.6 535.2,342.6 535.5,315.8 535.9,336.5 536.2,308.5 536.6,359.6 536.9,325.8 537.3,337.9 537.6,308.7 538.0,323.2 538.4,318.3 538.7,345.1 539.0,331.4 539.4,349.3 539.8,342.4 540.1,309.3 540.4,348.0 540.8,325.3 541.1,317.9 541.5,321.4 541.9,307.2 542.2,357.1 542.6,318.3 542.9,304.5 543.2,352.2 543.6,335.5 543.9,335.7 544.3,343.3 544.6,327.3 545.0,348.0 545.3,328.9 545.7,327.9 546.0,366.6 546.4,346.4 546.8,342.0 547.1,313.1 547.5,335.6 547.8,330.5 548.1,361.9 548.5,300.0 548.9,331.8 549.2,323.6 549.5,316.4 549.9,339.6 550.2,345.9 550.6,351.1 551.0,314.6 551.3,360.9 551.6,323.5 552.0,307.5 552.4,346.1 552.7,345.5 553.0,327.5 553.4,331.1 553.8,337.7 554.1,295.3 554.4,347.5 554.8,318.1 555.1,297.9 555.5,338.9 555.9,353.1 556.2,303.9 556.5,347.6 556.9,322.5 557.2,368.0 557.6,341.7 557.9,382.8 558.3,373.6 558.6,375.1 559.0,353.7 559.3,339.0 559.7,333.2 560.1,364.9 560.4,383.5 560.8,410.9 561.1,352.4 561.4,363.4 561.8,365.0 562.1,341.1 562.5,344.6 562.8,333.2 563.2,334.9 563.5,332.4 563.9,358.7 564.2,373.4 564.6,376.7 565.0,363.5 565.3,358.2 565.6,386.2 566.0,362.9 566.4,354.1 566.7,336.6 567.0,364.0 567.4,363.3 567.7,367.0 568.1,336.0 568.4,388.8 568.8,348.5 569.1,378.7 569.5,366.4 569.9,339.9 570.2,365.3 570.5,357.0 570.9,373.0 571.2,384.8 571.6,332.8 571.9,360.9 572.3,355.5 572.6,370.3 573.0,376.0 573.4,361.0 573.7,356.5 574.0,380.3 574.4,367.7 574.8,354.2 575.1,366.3 575.4,362.0 575.8,370.9 576.1,358.4 576.5,367.8 576.8,398.7 577.2,386.0 577.5,355.7 577.9,319.7 578.2,379.2 578.6,404.2 579.0,357.2 579.3,336.3 579.6,381.1 580.0,372.1 580.3,374.3 580.7,346.7 581.0,403.1 581.4,357.6 581.7,370.4 582.1,372.1 582.5,377.3 582.8,358.9 583.1,354.3 583.5,396.2 583.9,379.7 584.2,359.2 584.5,393.7 584.9,355.5 585.2,356.3 585.6,383.2 585.9,402.0 586.3,388.7 586.6,380.8 587.0,385.4 587.4,369.9 587.7,371.2 588.0,357.4 588.4,378.1 588.8,373.5 589.1,373.1 589.4,367.4 589.8,381.7 590.1,389.5 590.5,376.9 590.8,370.0 591.2,398.4 591.6,377.8 591.9,382.4 592.2,395.5 592.6,357.6 592.9,380.0 593.3,413.3 593.6,356.7 594.0,367.8 594.3,423.4 594.7,363.0 595.0,367.7 595.4,375.8 595.8,360.7 596.1,384.5 596.5,360.2 596.8,391.2 597.1,377.1 597.5,382.2 597.9,373.7 598.2,378.7 598.5,396.3 598.9,370.6 599.2,382.6 599.6,372.7 599.9,397.3 600.3,355.5 600.6,392.0 601.0,389.8 601.4,378.4 601.7,346.7 602.0,362.6 602.4,363.6 602.8,353.3 603.1,370.2 603.5,358.7 603.8,345.7 604.2,355.1 604.5,375.4 604.9,320.6 605.2,349.6 605.5,382.9 605.9,360.2 606.2,291.1 606.6,336.6 606.9,358.5 607.3,368.7 607.6,361.6 608.0,337.3 608.4,316.7 608.7,321.2 609.1,326.5 609.4,322.9 609.8,323.6 610.1,326.6 610.5,310.9 610.8,327.4 611.1,309.4 611.5,363.7 611.8,351.7 612.2,313.8 612.6,323.1 612.9,342.1 613.2,285.1 613.6,284.5 614.0,313.5 614.3,307.1 614.6,325.6 615.0,343.9 615.4,311.7 615.7,324.6 616.0,307.7 616.4,313.0 616.8,319.0 617.1,306.6 617.5,279.8 617.8,320.9 618.1,299.2 618.5,275.9 618.9,288.0 619.2,292.2 619.5,300.9 619.9,306.9 620.2,302.4 620.6,274.1 620.9,291.6 621.3,265.4 621.7,264.0 622.0,269.1 622.4,261.3 622.7,279.5 623.1,239.6 623.4,280.5 623.8,254.6 624.1,264.0 624.4,264.5 624.8,278.3 625.1,258.1 625.5,273.6 625.9,246.6 626.2,258.7 626.6,242.5 626.9,261.0 627.2,256.0 627.6,250.5 628.0,262.9 628.3,256.9 628.6,274.9 629.0,267.1 629.3,238.9 629.7,272.1 630.0,298.2 630.4,246.3 630.8,217.2 631.1,258.6 631.5,245.4 631.8,247.0 632.1,227.3 632.5,266.5 632.9,241.2 633.2,238.9 633.5,206.7 633.9,237.3 634.2,245.8 634.6,252.8 635.0,253.7 635.3,270.2 635.6,257.9 636.0,242.9 636.4,232.9 636.7,247.9 637.0,220.5 637.4,231.6 637.8,227.4 638.1,188.9 638.4,236.2 638.8,222.7 639.1,205.3 639.5,239.8 639.9,233.0 640.2,227.9 640.6,221.9 640.9,215.7 641.2,210.9 641.6,201.9 641.9,223.3 642.3,229.8 642.6,209.4 643.0,197.2 643.4,229.9 643.7,197.1 644.1,201.0 644.4,203.6 644.8,202.2 645.1,189.8 645.5,185.9 645.8,184.0 646.1,195.8 646.5,185.0 646.9,180.9 647.2,179.6 647.5,204.1 647.9,162.8 648.2,156.0 648.6,176.8 649.0,146.6 649.3,186.8 649.6,170.9 650.0,188.6 650.4,194.8 650.7,160.9 651.0,168.6 651.4,159.5 651.8,140.7 652.1,129.7 652.5,145.2 652.8,137.7 653.2,128.6 653.5,137.0 653.9,155.2 654.2,128.5 654.5,133.5 654.9,96.2 655.2,148.6 655.6,109.0 655.9,108.6 656.3,131.3 656.6,94.7 657.0,94.7 657.4,89.0 657.7,89.1 658.1,113.1 658.4,135.1 658.8,89.5 659.1,95.3 659.5,136.0 659.8,132.5 660.1,125.7 660.5,108.9 660.8,113.3 661.2,117.7 661.6,112.8 661.9,86.2 662.2,78.6 662.6,98.5 663.0,74.7 663.3,105.2 663.6,115.0 664.0,77.4 664.4,81.2 664.7,84.5 665.0,70.4 665.4,60.7 665.8,37.9 666.1,62.4 666.5,55.0 666.8,27.1 667.1,40.1 667.5,49.6 667.9,54.8 668.2,47.0 668.5,40.8 668.9,35.3 669.2,59.1 669.6,-2.4 669.9,-22.8 670.3,17.1 670.7,27.9 671.0,-1.2 671.4,49.7 671.7,22.7 672.1,6.2" fill="none" stroke="#0000ff" stroke-width="1.5" stroke-linejoin="round"/>
<polyline points="88.6,28.9 88.9,53.0 89.3,75.7 89.6,96.9 90.0,116.3 90.3,133.9 90.7,150.1 91.0,165.3 91.4,179.3 91.8,191.5 92.1,201.9 92.4,210.6 92.8,218.5 93.1,225.5 93.5,232.1 93.8,238.2 94.2,244.3 94.5,250.2 94.9,256.1 95.2,262.0 95.6,267.7 95.9,273.1 96.3,278.4 96.6,283.3 97.0,288.0 97.3,292.4 97.7,296.4 98.0,299.9 98.4,303.0 98.8,305.8 99.1,308.5 99.4,311.1 99.8,313.5 100.1,315.8 100.5,318.0 100.8,320.0 101.2,322.1 101.5,324.2 101.9,326.2 102.2,328.4 102.6,330.5 102.9,333.0 103.3,335.3 103.6,337.7 104.0,340.2 104.3,342.5 104.7,344.8 105.0,347.0 105.4,349.4 105.8,351.4 106.1,353.4 106.4,355.5 106.8,357.2 107.1,359.1 107.5,360.7 107.8,362.4 108.2,364.2 108.5,366.2 108.9,367.7 109.2,369.7 109.6,371.7 109.9,373.9 110.3,376.1 110.6,378.0 111.0,380.4 111.3,382.5 111.7,384.6 112.0,386.4 112.4,388.5 112.8,390.0 113.1,391.5 113.4,392.4 113.8,393.6 114.1,394.7 114.5,395.7 114.8,396.7 115.2,397.7 115.5,398.6 115.9,399.3 116.2,400.5 116.6,401.4 116.9,402.2 117.3,402.9 117.6,403.8 118.0,404.8 118.3,405.3 118.7,406.0 119.0,406.9 119.4,407.4 119.8,407.8 120.1,408.5 120.4,408.6 120.8,409.3 121.1,409.7 121.5,410.0 121.8,410.4 122.2,410.5 122.5,410.4 122.9,410.6 123.2,410.9 123.6,410.8 123.9,410.4 124.3,410.5 124.6,410.2 125.0,409.8 125.3,409.9 125.7,409.7 126.0,409.5 126.4,409.0 126.8,409.1 127.1,409.0 127.4,408.6 127.8,408.1 128.1,408.1 128.5,407.7 128.8,407.6 129.2,407.7 129.5,407.3 129.9,407.1 130.2,406.9 130.6,406.4 130.9,406.1 131.3,406.0 131.6,405.6 132.0,405.7 132.3,405.1 132.7,405.2 133.0,404.7 133.4,404.6 133.8,403.8 134.1,403.8 134.4,403.2 134.8,403.3 135.1,402.6 135.5,402.1 135.8,401.8 136.2,401.4 136.5,401.0 136.9,400.6 137.2,400.3 137.6,399.9 137.9,399.0 138.3,398.7 138.6,398.1 139.0,397.5 139.3,397.3 139.7,396.7 140.0,396.0 140.4,394.7 140.8,394.4 141.1,393.5 141.4,393.4 141.8,392.4 142.1,391.6 142.5,391.0 142.8,389.8 143.2,389.4 143.5,388.6 143.9,387.5 144.2,386.6 144.6,386.1 144.9,385.6 145.3,384.7 145.6,383.5 146.0,383.2 146.3,382.4 146.7,381.5 147.0,380.1 147.4,379.4 147.8,378.8 148.1,377.9 148.4,376.8 148.8,376.0 149.1,375.2 149.5,374.2 149.8,373.1 150.2,372.3 150.5,371.2 150.9,370.3 151.2,369.6 151.6,368.3 151.9,367.3 152.3,367.0 152.6,365.4 153.0,364.6 153.3,363.8 153.7,362.3 154.1,361.5 154.4,360.3 154.8,359.5 155.1,357.8 155.4,357.2 155.8,356.2 156.1,354.4 156.5,354.1 156.8,352.2 157.2,351.6 157.5,350.6 157.9,349.5 158.2,348.4 158.6,347.3 158.9,345.8 159.3,344.9 159.6,344.3 160.0,342.8 160.3,342.2 160.7,340.5 161.1,340.1 161.4,338.9 161.8,337.6 162.1,337.6 162.4,335.4 162.8,334.3 163.1,334.1 163.5,333.3 163.8,333.0 164.2,331.5 164.6,331.0 164.9,330.3 165.2,329.6 165.6,328.1 165.9,327.4 166.3,327.3 166.6,326.1 167.0,325.7 167.3,324.1 167.7,323.9 168.1,322.8 168.4,321.6 168.8,321.0 169.1,320.5 169.4,319.3 169.8,318.7 170.1,316.8 170.5,316.1 170.8,316.1 171.2,315.0 171.5,312.8 171.9,312.5 172.2,312.1 172.6,310.6 172.9,309.9 173.3,308.9 173.6,308.3 174.0,306.8 174.3,306.3 174.7,305.9 175.1,304.6 175.4,303.9 175.8,302.9 176.1,301.9 176.4,301.1 176.8,300.7 177.1,299.5 177.5,299.0 177.8,297.3 178.2,297.5 178.6,296.4 178.9,295.7 179.2,295.2 179.6,293.9 179.9,293.1 180.3,292.5 180.6,291.0 181.0,291.1 181.3,289.9 181.7,289.4 182.1,288.7 182.4,288.4 182.8,287.6 183.1,286.0 183.4,286.1 183.8,284.5 184.1,283.6 184.5,283.8 184.8,282.8 185.2,282.0 185.5,280.7 185.9,279.8 186.2,279.6 186.6,279.0 186.9,278.2 187.3,278.3 187.6,277.3 188.0,276.3 188.3,276.1 188.7,274.4 189.1,274.9 189.4,273.9 189.8,273.2 190.1,272.3 190.4,272.2 190.8,271.3 191.1,270.3 191.5,269.8 191.8,269.1 192.2,269.0 192.6,268.5 192.9,268.5 193.2,267.2 193.6,266.4 193.9,266.1 194.3,265.0 194.6,263.9 195.0,263.8 195.3,263.2 195.7,262.2 196.0,261.9 196.4,261.4 196.8,260.4 197.1,260.9 197.4,258.8 197.8,260.1 198.2,259.0 198.5,258.8 198.8,258.0 199.2,256.9 199.5,256.7 199.9,256.4 200.2,255.4 200.6,255.6 200.9,254.2 201.3,255.5 201.6,253.5 202.0,254.0 202.3,252.3 202.7,252.5 203.1,249.9 203.4,251.8 203.8,249.3 204.1,250.3 204.4,251.5 204.8,247.7 205.1,247.7 205.5,246.7 205.8,248.3 206.2,246.6 206.6,245.1 206.9,246.2 207.2,244.0 207.6,246.1 207.9,245.1 208.3,246.0 208.6,245.6 209.0,244.9 209.3,243.7 209.7,243.1 210.1,242.1 210.4,245.6 210.7,242.4 211.1,242.8 211.4,244.3 211.8,242.5 212.1,241.0 212.5,239.5 212.8,242.8 213.2,240.8 213.6,240.9 213.9,236.7 214.2,239.6 214.6,242.8 214.9,238.9 215.3,242.8 215.6,237.7 216.0,236.8 216.3,237.4 216.7,240.3 217.0,231.7 217.4,234.9 217.7,237.1 218.1,236.5 218.4,234.3 218.8,235.5 219.2,235.5 219.5,233.0 219.8,236.9 220.2,232.1 220.5,235.4 220.9,232.5 221.2,230.4 221.6,231.5 221.9,231.1 222.3,233.4 222.7,233.7 223.0,229.2 223.3,231.4 223.7,233.3 224.0,232.0 224.4,232.1 224.8,229.6 225.1,230.1 225.4,227.8 225.8,231.9 226.1,228.9 226.5,229.2 226.8,234.0 227.2,228.7 227.5,227.0 227.9,231.9 228.2,231.1 228.6,223.0 228.9,230.9 229.3,224.1 229.6,226.1 230.0,225.6 230.3,227.9 230.7,228.8 231.0,222.9 231.4,222.1 231.8,227.9 232.1,222.6 232.4,225.4 232.8,224.1 233.1,225.5 233.5,226.6 233.8,228.7 234.2,229.0 234.5,224.7 234.9,225.0 235.2,227.3 235.6,228.4 235.9,225.9 236.3,223.0 236.6,222.9 237.0,221.4 237.3,223.2 237.7,221.5 238.1,226.8 238.4,218.7 238.7,222.9 239.1,225.1 239.4,225.3 239.8,225.9 240.1,223.3 240.5,220.3 240.8,224.5 241.2,219.6 241.5,221.6 241.9,226.9 242.2,225.0 242.6,224.3 242.9,224.2 243.3,216.5 243.7,215.7 244.0,220.4 244.3,220.9 244.7,223.5 245.0,218.1 245.4,222.9 245.7,224.6 246.1,221.6 246.4,218.1 246.8,219.2 247.2,227.7 247.5,218.6 247.8,221.6 248.2,221.3 248.5,215.4 248.9,224.7 249.2,219.0 249.6,216.3 249.9,224.6 250.3,214.6 250.7,216.7 251.0,218.0 251.3,222.9 251.7,217.2 252.0,217.4 252.4,220.4 252.8,219.9 253.1,220.9 253.4,217.4 253.8,216.6 254.1,214.4 254.5,217.6 254.8,219.2 255.2,217.9 255.5,222.6 255.9,213.8 256.2,220.6 256.6,220.8 256.9,218.5 257.3,223.1 257.6,217.5 258.0,213.1 258.4,216.0 258.7,214.0 259.0,214.7 259.4,217.0 259.8,216.7 260.1,222.1 260.4,215.6 260.8,213.4 261.1,209.8 261.5,218.6 261.9,215.9 262.2,215.8 262.5,218.6 262.9,218.8 263.2,218.2 263.6,217.2 263.9,211.0 264.3,223.0 264.6,220.3 265.0,222.2 265.4,215.3 265.7,215.0 266.1,220.8 266.4,214.5 266.8,222.4 267.1,213.6 267.4,218.2 267.8,213.2 268.1,222.5 268.5,213.2 268.9,215.9 269.2,218.9 269.5,222.1 269.9,214.4 270.2,216.0 270.6,218.2 270.9,213.4 271.3,212.7 271.6,214.0 272.0,220.2 272.4,213.3 272.7,217.5 273.0,218.7 273.4,215.4 273.8,217.6 274.1,211.9 274.4,216.0 274.8,218.5 275.1,213.8 275.5,208.4 275.8,213.9 276.2,220.4 276.5,213.1 276.9,214.7 277.2,211.1 277.6,216.2 277.9,217.6 278.3,221.9 278.6,215.0 279.0,212.6 279.4,217.9 279.7,218.0 280.0,221.3 280.4,218.5 280.8,215.7 281.1,212.9 281.4,223.2 281.8,216.4 282.1,220.7 282.5,215.2 282.9,217.3 283.2,229.6 283.5,223.7 283.9,218.6 284.2,212.8 284.6,218.3 284.9,212.9 285.3,216.6 285.6,222.1 286.0,221.8 286.4,211.6 286.7,221.5 287.0,222.7 287.4,223.3 287.8,226.4 288.1,217.3 288.4,215.3 288.8,225.8 289.1,212.6 289.5,215.7 289.9,222.0 290.2,226.7 290.5,222.2 290.9,222.0 291.2,218.0 291.6,223.0 291.9,216.6 292.3,210.5 292.6,225.1 293.0,224.2 293.4,216.9 293.7,213.7 294.1,230.4 294.4,224.6 294.8,229.6 295.1,220.5 295.4,221.4 295.8,226.1 296.1,221.2 296.5,220.9 296.9,237.4 297.2,230.5 297.5,227.3 297.9,223.9 298.2,222.9 298.6,222.3 298.9,214.6 299.3,228.3 299.6,231.7 300.0,228.3 300.3,238.6 300.7,228.7 301.0,223.4 301.4,229.6 301.8,220.2 302.1,237.1 302.4,222.5 302.8,226.7 303.1,216.7 303.5,224.4 303.8,224.9 304.2,229.6 304.6,234.6 304.9,229.7 305.2,234.9 305.6,238.3 305.9,222.7 306.3,223.6 306.6,225.6 307.0,225.2 307.4,235.9 307.7,244.7 308.0,226.6 308.4,226.9 308.8,226.8 309.1,226.6 309.4,228.3 309.8,237.0 310.1,227.0 310.5,229.2 310.9,225.4 311.2,229.3 311.5,232.7 311.9,230.9 312.2,237.2 312.6,234.5 312.9,234.0 313.3,243.2 313.6,239.9 314.0,229.2 314.4,237.6 314.7,246.4 315.0,233.7 315.4,231.4 315.8,233.7 316.1,234.4 316.5,247.6 316.8,221.6 317.1,240.7 317.5,242.1 317.8,236.2 318.2,237.5 318.5,240.2 318.9,236.6 319.2,238.8 319.6,235.7 319.9,245.7 320.3,238.4 320.6,237.7 321.0,241.0 321.4,239.6 321.7,247.5 322.1,238.8 322.4,237.5 322.8,244.9 323.1,254.2 323.4,241.0 323.8,235.5 324.1,238.8 324.5,245.9 324.8,242.4 325.2,243.2 325.5,245.2 325.9,241.5 326.2,241.3 326.6,249.9 326.9,232.4 327.3,239.1 327.6,254.7 328.0,245.4 328.4,244.5 328.7,259.9 329.1,251.8 329.4,241.0 329.8,248.9 330.1,242.6 330.4,243.9 330.8,248.0 331.1,248.4 331.5,254.8 331.8,256.7 332.2,257.5 332.5,242.2 332.9,241.9 333.2,239.8 333.6,250.7 333.9,255.9 334.3,240.1 334.6,241.9 335.0,246.2 335.4,246.5 335.7,251.8 336.0,244.3 336.4,261.6 336.8,256.0 337.1,246.8 337.4,250.5 337.8,241.4 338.1,251.0 338.5,255.4 338.9,258.4 339.2,265.3 339.5,245.7 339.9,252.0 340.2,252.7 340.6,262.3 340.9,259.4 341.3,252.5 341.6,257.6 342.0,256.2 342.3,243.4 342.7,250.2 343.0,255.4 343.4,256.3 343.8,256.9 344.1,248.1 344.4,252.5 344.8,239.0 345.1,249.2 345.5,264.7 345.9,256.8 346.2,262.9 346.5,244.4 346.9,257.3 347.2,266.2 347.6,257.5 348.0,252.9 348.3,251.3 348.6,254.8 349.0,256.4 349.4,265.3 349.7,267.0 350.0,256.9 350.4,263.0 350.8,255.4 351.1,266.5 351.4,261.7 351.8,263.6 352.1,265.8 352.5,268.1 352.9,264.5 353.2,260.0 353.5,256.4 353.9,264.6 354.2,258.1 354.6,267.1 354.9,263.0 355.3,256.6 355.6,261.6 356.0,268.4 356.4,267.5 356.7,259.8 357.0,261.3 357.4,275.7 357.8,269.8 358.1,265.1 358.5,261.1 358.8,264.6 359.1,253.6 359.5,271.9 359.9,256.6 360.2,266.4 360.5,261.8 360.9,268.4 361.2,263.2 361.6,276.4 361.9,255.7 362.3,271.5 362.6,266.5 363.0,282.9 363.4,266.0 363.7,273.8 364.0,261.1 364.4,262.8 364.8,270.9 365.1,278.7 365.5,257.2 365.8,275.3 366.1,260.0 366.5,266.0 366.8,258.6 367.2,279.2 367.5,275.6 367.9,272.0 368.2,272.2 368.6,262.7 368.9,264.4 369.3,263.8 369.6,267.3 370.0,264.9 370.4,265.2 370.7,266.9 371.0,273.0 371.4,259.5 371.8,272.0 372.1,281.1 372.5,283.1 372.8,263.8 373.1,272.8 373.5,274.6 373.9,281.1 374.2,266.9 374.5,261.4 374.9,268.5 375.2,279.5 375.6,271.9 375.9,274.6 376.3,281.9 376.6,283.5 377.0,280.4 377.4,255.5 377.7,265.5 378.0,276.7 378.4,269.4 378.8,262.4 379.1,268.8 379.4,265.7 379.8,279.7 380.1,287.6 380.5,273.7 380.9,270.2 381.2,267.7 381.5,275.7 381.9,279.5 382.2,261.0 382.6,284.1 383.0,273.4 383.3,273.1 383.6,274.0 384.0,265.1 384.4,291.4 384.7,301.6 385.0,273.6 385.4,269.3 385.8,268.9 386.1,271.0 386.4,277.6 386.8,280.2 387.1,262.3 387.5,284.6 387.9,269.0 388.2,281.0 388.5,279.3 388.9,288.5 389.2,282.8 389.6,291.2 390.0,296.6 390.3,292.7 390.6,300.4 391.0,278.0 391.4,293.5 391.7,289.1 392.0,273.9 392.4,280.4 392.8,290.4 393.1,276.5 393.4,282.7 393.8,281.0 394.1,293.5 394.5,278.4 394.9,285.4 395.2,289.9 395.5,295.9 395.9,289.1 396.2,295.6 396.6,287.1 397.0,285.2 397.3,294.1 397.6,276.3 398.0,279.3 398.3,300.1 398.7,273.5 399.0,293.4 399.4,301.4 399.8,287.1 400.1,275.9 400.4,272.2 400.8,294.7 401.1,285.4 401.5,287.6 401.9,274.6 402.2,281.7 402.5,285.4 402.9,284.2 403.2,285.3 403.6,283.3 403.9,291.2 404.3,293.0 404.6,274.2 405.0,288.6 405.4,288.4 405.7,290.4 406.0,283.9 406.4,293.4 406.8,291.9 407.1,290.3 407.4,279.7 407.8,308.5 408.1,278.1 408.5,288.0 408.9,304.7 409.2,285.4 409.5,294.2 409.9,289.7 410.2,305.3 410.6,293.0 410.9,293.4 411.3,300.9 411.6,298.6 412.0,287.9 412.4,284.0 412.7,287.3 413.0,298.2 413.4,295.3 413.8,290.6 414.1,291.5 414.5,293.4 414.8,287.9 415.1,297.6 415.5,288.6 415.9,304.4 416.2,303.4 416.5,298.1 416.9,300.9 417.2,284.6 417.6,308.3 417.9,303.2 418.3,298.6 418.6,289.9 419.0,305.3 419.4,308.7 419.7,302.4 420.0,297.7 420.4,293.0 420.8,280.1 421.1,279.5 421.5,288.6 421.8,294.8 422.1,288.0 422.5,290.4 422.8,297.4 423.2,301.1 423.5,277.9 423.9,293.8 424.2,306.6 424.6,284.2 424.9,307.5 425.3,304.0 425.6,297.7 426.0,299.7 426.4,301.7 426.7,306.8 427.0,312.0 427.4,312.5 427.8,297.7 428.1,288.9 428.5,309.7 428.8,294.1 429.1,292.8 429.5,314.3 429.9,290.4 430.2,297.1 430.5,302.6 430.9,309.2 431.2,295.5 431.6,298.1 431.9,311.0 432.3,330.9 432.6,289.2 433.0,335.9 433.4,305.5 433.7,333.8 434.0,312.9 434.4,311.4 434.8,305.1 435.1,300.8 435.4,300.2 435.8,319.6 436.1,299.6 436.5,302.1 436.9,316.4 437.2,301.7 437.5,316.6 437.9,304.7 438.2,321.7 438.6,306.6 439.0,292.0 439.3,313.5 439.6,304.9 440.0,288.0 440.4,284.3 440.7,324.3 441.0,313.0 441.4,335.7 441.8,328.0 442.1,288.5 442.4,317.4 442.8,317.2 443.1,315.8 443.5,297.5 443.9,328.0 444.2,322.7 444.5,314.8 444.9,320.6 445.2,311.7 445.6,296.1 446.0,319.8 446.3,311.2 446.6,298.9 447.0,312.3 447.3,327.0 447.7,306.8 448.0,305.3 448.4,294.3 448.8,317.5 449.1,302.3 449.4,302.5 449.8,340.6 450.1,318.1 450.5,292.0 450.9,327.5 451.2,302.0 451.5,319.1 451.9,334.1 452.2,353.5 452.6,326.0 453.0,335.4 453.3,294.9 453.6,346.5 454.0,306.3 454.3,321.0 454.7,305.6 455.0,336.9 455.4,314.5 455.8,330.3 456.1,309.0 456.4,301.7 456.8,314.6 457.1,318.3 457.5,308.6 457.9,321.4 458.2,328.7 458.5,351.3 458.9,326.0 459.2,350.0 459.6,332.2 459.9,287.9 460.3,302.7 460.6,328.7 461.0,319.7 461.4,301.7 461.7,322.7 462.0,346.5 462.4,349.5 462.8,303.9 463.1,304.6 463.4,305.5 463.8,315.9 464.1,319.2 464.5,318.4 464.9,327.3 465.2,320.4 465.5,318.7 465.9,337.6 466.2,297.1 466.6,318.8 466.9,313.4 467.3,336.1 467.6,327.6 468.0,331.0 468.4,342.2 468.7,336.9 469.0,296.5 469.4,324.9 469.8,318.2 470.1,326.7 470.5,326.4 470.8,340.3 471.1,326.4 471.5,347.6 471.8,325.5 472.2,349.6 472.5,341.9 472.9,338.4 473.2,326.8 473.6,348.1 473.9,329.8 474.3,328.3 474.6,324.1 475.0,332.3 475.4,330.3 475.7,336.3 476.0,350.5 476.4,328.1 476.8,341.6 477.1,334.4 477.5,311.4 477.8,323.3 478.1,330.7 478.5,344.9 478.8,344.1 479.2,351.3 479.5,335.9 479.9,313.8 480.2,327.4 480.6,349.9 480.9,323.4 481.3,345.9 481.6,346.4 482.0,320.7 482.4,329.2 482.7,311.8 483.0,349.7 483.4,328.3 483.8,331.0 484.1,335.7 484.4,333.5 484.8,359.1 485.1,336.2 485.5,347.9 485.9,333.3 486.2,348.5 486.5,323.6 486.9,330.2 487.2,337.5 487.6,344.0 487.9,344.4 488.3,320.2 488.6,329.1 489.0,333.8 489.4,337.5 489.7,335.9 490.0,334.0 490.4,351.5 490.8,358.7 491.1,362.8 491.4,358.7 491.8,322.2 492.1,346.9 492.5,328.2 492.9,321.5 493.2,335.0 493.5,337.4 493.9,337.4 494.2,322.1 494.6,345.2 495.0,328.5 495.3,307.4 495.6,323.1 496.0,325.5 496.4,327.2 496.7,336.7 497.0,354.1 497.4,322.4 497.8,324.7 498.1,355.1 498.4,331.6 498.8,315.1 499.1,320.1 499.5,322.8 499.9,343.5 500.2,348.0 500.5,335.0 500.9,316.5 501.2,341.5 501.6,306.6 502.0,349.1 502.3,345.2 502.6,314.9 503.0,352.6 503.3,322.0 503.7,324.8 504.0,326.9 504.4,332.6 504.8,334.2 505.1,354.8 505.4,337.9 505.8,339.7 506.1,353.7 506.5,351.3 506.9,322.0 507.2,340.5 507.5,344.1 507.9,337.5 508.2,359.9 508.6,326.4 508.9,320.0 509.3,308.3 509.6,335.0 510.0,326.3 510.4,341.7 510.7,344.4 511.0,342.0 511.4,329.4 511.8,342.8 512.1,330.8 512.4,347.0 512.8,347.3 513.1,325.6 513.5,357.3 513.9,339.0 514.2,317.2 514.5,332.6 514.9,331.1 515.2,341.6 515.6,347.1 515.9,324.3 516.3,338.4 516.6,336.5 517.0,327.4 517.4,350.2 517.7,336.6 518.0,388.9 518.4,318.0 518.8,322.0 519.1,359.7 519.5,335.6 519.8,337.6 520.1,360.7 520.5,345.3 520.9,361.6 521.2,352.1 521.5,353.1 521.9,340.0 522.2,356.8 522.6,351.1 522.9,355.9 523.3,365.4 523.6,343.6 524.0,319.4 524.4,328.1 524.7,361.5 525.0,338.5 525.4,358.3 525.8,330.8 526.1,370.9 526.4,326.5 526.8,369.4 527.1,337.6 527.5,324.5 527.8,342.3 528.2,323.3 528.5,348.3 528.9,321.5 529.2,352.1 529.6,345.7 530.0,337.4 530.3,307.8 530.6,357.5 531.0,367.2 531.3,327.1 531.7,345.0 532.0,358.4 532.4,349.1 532.8,337.0 533.1,358.3 533.5,361.5 533.8,341.6 534.1,342.1 534.5,357.3 534.9,355.5 535.2,331.6 535.5,369.8 535.9,365.1 536.2,328.2 536.6,342.2 536.9,325.4 537.3,350.7 537.6,348.6 538.0,342.6 538.4,375.0 538.7,368.0 539.0,342.4 539.4,341.6 539.8,341.5 540.1,346.8 540.4,351.2 540.8,371.3 541.1,344.4 541.5,349.2 541.9,376.9 542.2,342.0 542.6,348.9 542.9,343.9 543.2,368.3 543.6,363.7 543.9,309.8 544.3,365.5 544.6,362.1 545.0,342.3 545.3,389.3 545.7,356.1 546.0,347.5 546.4,341.8 546.8,345.3 547.1,379.6 547.5,354.3 547.8,351.1 548.1,392.1 548.5,354.9 548.9,363.6 549.2,354.5 549.5,364.8 549.9,360.2 550.2,351.1 550.6,351.0 551.0,342.2 551.3,350.6 551.6,370.4 552.0,334.7 552.4,357.6 552.7,382.2 553.0,356.8 553.4,353.7 553.8,349.8 554.1,336.8 554.4,355.3 554.8,371.3 555.1,348.1 555.5,366.4 555.9,368.1 556.2,350.4 556.5,370.9 556.9,369.9 557.2,341.6 557.6,357.7 557.9,352.1 558.3,364.0 558.6,368.7 559.0,371.1 559.3,359.4 559.7,363.7 560.1,368.3 560.4,369.9 560.8,320.1 561.1,346.2 561.4,377.1 561.8,387.7 562.1,349.7 562.5,362.8 562.8,372.6 563.2,356.1 563.5,373.3 563.9,336.7 564.2,363.8 564.6,380.6 565.0,388.6 565.3,335.2 565.6,371.7 566.0,369.0 566.4,360.3 566.7,375.9 567.0,382.5 567.4,373.5 567.7,359.5 568.1,365.8 568.4,375.3 568.8,370.5 569.1,341.0 569.5,345.1 569.9,369.7 570.2,361.9 570.5,367.3 570.9,354.9 571.2,328.6 571.6,371.2 571.9,356.3 572.3,359.9 572.6,354.9 573.0,366.9 573.4,374.5 573.7,371.9 574.0,397.2 574.4,380.3 574.8,377.6 575.1,349.5 575.4,348.1 575.8,361.8 576.1,370.9 576.5,381.7 576.8,388.3 577.2,360.0 577.5,351.8 577.9,363.9 578.2,380.6 578.6,378.3 579.0,336.7 579.3,358.6 579.6,371.4 580.0,350.4 580.3,359.9 580.7,389.2 581.0,358.3 581.4,358.9 581.7,342.0 582.1,375.7 582.5,350.9 582.8,351.2 583.1,358.6 583.5,364.6 583.9,366.8 584.2,366.2 584.5,365.5 584.9,353.8 585.2,365.5 585.6,375.3 585.9,371.8 586.3,371.4 586.6,369.9 587.0,365.5 587.4,394.0 587.7,365.3 588.0,337.9 588.4,350.9 588.8,374.6 589.1,391.0 589.4,371.6 589.8,370.4 590.1,367.5 590.5,387.5 590.8,383.2 591.2,360.7 591.6,370.3 591.9,351.7 592.2,388.6 592.6,393.7 592.9,359.8 593.3,380.4 593.6,378.0 594.0,351.1 594.3,371.5 594.7,356.3 595.0,373.0 595.4,360.2 595.8,359.1 596.1,351.2 596.5,351.0 596.8,367.1 597.1,367.4 597.5,350.1 597.9,350.0 598.2,349.7 598.5,383.7 598.9,386.5 599.2,356.0 599.6,375.0 599.9,369.9 600.3,355.2 600.6,364.6 601.0,356.1 601.4,328.3 601.7,374.2 602.0,353.9 602.4,369.2 602.8,363.0 603.1,373.3 603.5,344.9 603.8,357.7 604.2,327.4 604.5,336.3 604.9,376.3 605.2,339.5 605.5,354.2 605.9,352.5 606.2,328.7 606.6,309.1 606.9,365.5 607.3,363.5 607.6,360.9 608.0,334.9 608.4,353.1 608.7,332.1 609.1,382.7 609.4,358.0 609.8,327.0 610.1,320.5 610.5,358.5 610.8,368.1 611.1,345.3 611.5,345.1 611.8,343.4 612.2,347.5 612.6,289.6 612.9,317.9 613.2,346.3 613.6,344.9 614.0,330.9 614.3,322.9 614.6,302.0 615.0,307.4 615.4,323.4 615.7,336.2 616.0,309.5 616.4,314.1 616.8,350.2 617.1,354.4 617.5,334.3 617.8,320.2 618.1,327.1 618.5,333.2 618.9,340.5 619.2,296.4 619.5,326.3 619.9,338.0 620.2,340.2 620.6,312.7 620.9,343.0 621.3,295.5 621.7,346.2 622.0,333.4 622.4,345.2 622.7,307.5 623.1,342.7 623.4,341.7 623.8,304.3 624.1,296.1 624.4,326.4 624.8,290.2 625.1,295.0 625.5,345.4 625.9,301.6 626.2,287.9 626.6,304.6 626.9,323.4 627.2,310.4 627.6,320.8 628.0,301.4 628.3,284.9 628.6,295.3 629.0,295.3 629.3,266.2 629.7,295.2 630.0,272.4 630.4,314.9 630.8,305.7 631.1,279.0 631.5,270.4 631.8,271.6 632.1,272.8 632.5,292.7 632.9,274.9 633.2,266.0 633.5,285.4 633.9,317.0 634.2,297.3 634.6,251.1 635.0,286.2 635.3,282.2 635.6,292.0 636.0,271.6 636.4,284.9 636.7,259.9 637.0,268.4 637.4,304.1 637.8,279.1 638.1,270.0 638.4,275.8 638.8,265.3 639.1,255.9 639.5,266.1 639.9,277.3 640.2,253.3 640.6,261.5 640.9,264.4 641.2,264.2 641.6,220.4 641.9,247.6 642.3,263.7 642.6,253.0 643.0,256.0 643.4,250.3 643.7,249.2 644.1,225.7 644.4,234.5 644.8,247.1 645.1,211.4 645.5,221.1 645.8,226.0 646.1,217.7 646.5,228.3 646.9,204.9 647.2,230.4 647.5,229.1 647.9,206.6 648.2,230.3 648.6,223.3 649.0,200.7 649.3,175.3 649.6,199.9 650.0,189.1 650.4,217.0 650.7,201.9 651.0,154.6 651.4,187.1 651.8,180.4 652.1,198.3 652.5,167.1 652.8,170.1 653.2,165.4 653.5,156.5 653.9,176.8 654.2,181.0 654.5,169.8 654.9,166.8 655.2,148.7 655.6,159.8 655.9,182.9 656.3,122.6 656.6,137.1 657.0,168.7 657.4,111.1 657.7,170.2 658.1,170.8 658.4,157.9 658.8,109.0 659.1,125.8 659.5,135.1 659.8,132.3 660.1,103.2 660.5,131.2 660.8,112.8 661.2,113.7 661.6,114.9 661.9,92.3 662.2,100.7 662.6,91.7 663.0,100.4 663.3,117.3 663.6,100.8 664.0,77.9 664.4,38.0 664.7,91.9 665.0,56.7 665.4,88.2 665.8,59.3 666.1,45.2 666.5,65.2 666.8,56.4 667.1,62.2 667.5,44.9 667.9,42.5 668.2,28.3 668.5,51.2 668.9,45.5 669.2,39.8 669.6,32.4 669.9,15.3 670.3,10.5 670.7,34.8 671.0,-1.7 671.4,9.4 671.7,24.4 672.1,13.5" fill="none" stroke="#ff00ff" stroke-width="1.5" stroke-linejoin="round"/>
<polyline points="88.6,28.9 88.9,53.0 89.3,75.7 89.6,96.9 90.0,116.3 90.3,133.8 90.7,150.0 91.0,165.1 91.4,178.9 91.8,191.2 92.1,201.9 92.4,211.3 92.8,219.8 93.1,227.6 93.5,234.8 93.8,241.7 94.2,248.2 94.5,254.7 94.9,261.1 95.2,267.3 95.6,273.3 95.9,279.2 96.3,284.7 96.6,289.8 97.0,294.5 97.3,298.8 97.7,302.6 98.0,306.1 98.4,309.4 98.8,312.3 99.1,315.2 99.4,317.9 99.8,320.5 100.1,322.9 100.5,325.2 100.8,327.6 101.2,329.9 101.5,332.1 101.9,334.6 102.2,336.6 102.6,338.8 102.9,340.8 103.3,342.8 103.6,344.8 104.0,346.8 104.3,348.7 104.7,350.5 105.0,352.5 105.4,354.4 105.8,355.9 106.1,357.8 106.4,359.6 106.8,361.5 107.1,363.4 107.5,365.0 107.8,366.8 108.2,368.7 108.5,370.7 108.9,372.7 109.2,374.7 109.6,377.0 109.9,379.2 110.3,381.4 110.6,383.3 111.0,385.4 111.3,387.3 111.7,389.1 112.0,390.7 112.4,392.0 112.8,392.9 113.1,394.1 113.4,395.1 113.8,396.2 114.1,397.1 114.5,398.3 114.8,398.9 115.2,400.0 115.5,400.8 115.9,401.7 116.2,402.4 116.6,403.3 116.9,404.1 117.3,405.1 117.6,405.8 118.0,406.5 118.3,407.1 118.7,407.7 119.0,408.0 119.4,408.6 119.8,409.1 120.1,409.6 120.4,409.9 120.8,410.3 121.1,410.2 121.5,410.5 121.8,410.5 122.2,410.6 122.5,410.7 122.9,410.6 123.2,410.9 123.6,410.4 123.9,410.4 124.3,410.3 124.6,410.2 125.0,410.1 125.3,410.1 125.7,410.0 126.0,410.0 126.4,409.8 126.8,409.6 127.1,409.4 127.4,409.5 127.8,409.5 128.1,409.5 128.5,409.1 128.8,408.9 129.2,408.5 129.5,408.2 129.9,408.4 130.2,407.8 130.6,407.6 130.9,407.8 131.3,407.5 131.6,407.1 132.0,407.2 132.3,407.0 132.7,406.4 133.0,406.5 133.4,406.3 133.8,405.7 134.1,405.6 134.4,405.4 134.8,404.9 135.1,404.7 135.5,405.2 135.8,404.4 136.2,404.3 136.5,404.1 136.9,403.7 137.2,403.3 137.6,403.3 137.9,403.3 138.3,402.9 138.6,403.1 139.0,402.4 139.3,402.3 139.7,402.3 140.0,402.1 140.4,401.8 140.8,401.5 141.1,400.8 141.4,400.7 141.8,400.5 142.1,400.2 142.5,399.5 142.8,399.5 143.2,399.3 143.5,398.3 143.9,398.6 144.2,397.9 144.6,397.4 144.9,397.2 145.3,396.9 145.6,396.1 146.0,396.0 146.3,395.4 146.7,395.1 147.0,394.3 147.4,394.5 147.8,394.0 148.1,393.4 148.4,392.7 148.8,392.2 149.1,391.7 149.5,391.3 149.8,390.5 150.2,390.5 150.5,389.9 150.9,389.1 151.2,388.7 151.6,388.1 151.9,387.6 152.3,387.0 152.6,386.2 153.0,385.7 153.3,384.8 153.7,384.6 154.1,384.3 154.4,383.8 154.8,383.3 155.1,382.8 155.4,381.6 155.8,380.7 156.1,380.7 156.5,380.1 156.8,380.1 157.2,379.0 157.5,378.5 157.9,377.7 158.2,377.5 158.6,376.7 158.9,376.1 159.3,375.4 159.6,374.0 160.0,373.7 160.3,373.7 160.7,372.7 161.1,372.1 161.4,370.6 161.8,371.2 162.1,369.9 162.4,369.0 162.8,367.9 163.1,367.4 163.5,367.4 163.8,367.1 164.2,366.1 164.6,365.4 164.9,364.4 165.2,363.9 165.6,363.4 165.9,362.0 166.3,361.6 166.6,360.9 167.0,360.2 167.3,359.5 167.7,358.9 168.1,356.9 168.4,357.1 168.8,356.4 169.1,354.9 169.4,354.6 169.8,353.7 170.1,353.2 170.5,352.3 170.8,351.9 171.2,350.3 171.5,348.8 171.9,348.6 172.2,347.9 172.6,346.7 172.9,345.9 173.3,345.8 173.6,344.9 174.0,344.1 174.3,342.6 174.7,342.7 175.1,341.7 175.4,340.8 175.8,340.0 176.1,339.2 176.4,338.7 176.8,337.3 177.1,337.4 177.5,335.6 177.8,335.5 178.2,334.6 178.6,334.6 178.9,333.3 179.2,333.2 179.6,332.8 179.9,331.0 180.3,330.6 180.6,330.3 181.0,329.9 181.3,328.2 181.7,327.8 182.1,326.7 182.4,326.0 182.8,325.3 183.1,325.9 183.4,325.7 183.8,323.4 184.1,323.8 184.5,322.0 184.8,321.4 185.2,321.2 185.5,320.3 185.9,320.3 186.2,319.0 186.6,318.5 186.9,317.5 187.3,316.2 187.6,316.7 188.0,315.3 188.3,314.2 188.7,314.6 189.1,314.0 189.4,313.5 189.8,312.8 190.1,312.3 190.4,310.8 190.8,309.7 191.1,309.7 191.5,309.5 191.8,308.7 192.2,307.7 192.6,307.4 192.9,306.8 193.2,306.0 193.6,304.9 193.9,304.3 194.3,304.4 194.6,303.8 195.0,302.9 195.3,301.7 195.7,300.8 196.0,301.1 196.4,299.0 196.8,299.8 197.1,299.3 197.4,298.2 197.8,298.2 198.2,297.2 198.5,296.7 198.8,296.5 199.2,295.7 199.5,294.7 199.9,293.4 200.2,292.0 200.6,292.8 200.9,293.4 201.3,292.1 201.6,292.3 202.0,290.5 202.3,290.5 202.7,289.1 203.1,289.1 203.4,288.2 203.8,287.9 204.1,285.7 204.4,288.7 204.8,284.8 205.1,284.2 205.5,284.4 205.8,284.3 206.2,283.5 206.6,284.1 206.9,285.0 207.2,281.5 207.6,281.7 207.9,281.0 208.3,281.3 208.6,279.3 209.0,279.9 209.3,277.5 209.7,279.9 210.1,281.7 210.4,279.9 210.7,277.8 211.1,280.3 211.4,276.9 211.8,278.8 212.1,276.9 212.5,276.4 212.8,277.1 213.2,275.5 213.6,273.5 213.9,277.1 214.2,275.7 214.6,275.8 214.9,273.3 215.3,272.2 215.6,274.3 216.0,274.7 216.3,271.4 216.7,272.5 217.0,269.4 217.4,271.8 217.7,272.5 218.1,273.2 218.4,272.4 218.8,274.5 219.2,270.5 219.5,267.3 219.8,273.5 220.2,272.4 220.5,271.4 220.9,269.0 221.2,270.2 221.6,266.9 221.9,266.4 222.3,268.9 222.7,268.5 223.0,268.8 223.3,265.4 223.7,262.8 224.0,267.7 224.4,266.4 224.8,267.4 225.1,263.7 225.4,264.1 225.8,266.1 226.1,264.3 226.5,262.2 226.8,259.1 227.2,264.7 227.5,262.3 227.9,262.7 228.2,262.4 228.6,263.8 228.9,260.7 229.3,260.3 229.6,259.0 230.0,263.3 230.3,256.7 230.7,262.9 231.0,263.1 231.4,257.7 231.8,257.3 232.1,259.6 232.4,257.0 232.8,257.7 233.1,258.6 233.5,261.0 233.8,259.4 234.2,257.9 234.5,255.2 234.9,255.0 235.2,258.2 235.6,259.2 235.9,259.2 236.3,255.4 236.6,259.0 237.0,252.1 237.3,258.4 237.7,256.8 238.1,256.0 238.4,256.3 238.7,260.1 239.1,257.0 239.4,255.8 239.8,257.6 240.1,257.1 240.5,256.1 240.8,261.6 241.2,258.9 241.5,256.3 241.9,258.3 242.2,254.0 242.6,254.1 242.9,260.7 243.3,256.9 243.7,253.6 244.0,255.6 244.3,253.6 244.7,252.8 245.0,258.0 245.4,253.1 245.7,256.0 246.1,259.5 246.4,252.4 246.8,255.1 247.2,253.7 247.5,252.2 247.8,252.2 248.2,253.4 248.5,254.6 248.9,253.7 249.2,249.8 249.6,252.5 249.9,248.2 250.3,247.6 250.7,253.0 251.0,246.2 251.3,252.2 251.7,250.9 252.0,250.6 252.4,252.6 252.8,249.8 253.1,248.3 253.4,243.9 253.8,248.4 254.1,250.2 254.5,247.8 254.8,246.0 255.2,248.4 255.5,250.3 255.9,250.0 256.2,250.6 256.6,247.0 256.9,249.3 257.3,244.4 257.6,247.2 258.0,251.2 258.4,245.2 258.7,249.5 259.0,249.8 259.4,245.1 259.8,248.3 260.1,252.0 260.4,250.4 260.8,242.6 261.1,242.2 261.5,246.6 261.9,244.9 262.2,250.9 262.5,243.6 262.9,247.3 263.2,243.9 263.6,249.8 263.9,247.0 264.3,249.6 264.6,244.3 265.0,246.5 265.4,246.5 265.7,239.6 266.1,253.5 266.4,241.0 266.8,243.3 267.1,243.2 267.4,241.3 267.8,247.7 268.1,250.5 268.5,246.8 268.9,246.8 269.2,253.2 269.5,242.4 269.9,242.9 270.2,247.7 270.6,244.5 270.9,246.1 271.3,243.8 271.6,244.5 272.0,240.5 272.4,243.0 272.7,238.0 273.0,243.4 273.4,240.8 273.8,239.8 274.1,249.5 274.4,243.7 274.8,243.2 275.1,242.1 275.5,242.4 275.8,242.6 276.2,242.1 276.5,246.2 276.9,243.3 277.2,246.5 277.6,242.7 277.9,246.3 278.3,248.2 278.6,247.2 279.0,238.5 279.4,241.9 279.7,245.4 280.0,240.6 280.4,246.8 280.8,249.1 281.1,249.7 281.4,247.7 281.8,242.3 282.1,235.0 282.5,245.4 282.9,242.5 283.2,242.2 283.5,240.4 283.9,246.2 284.2,247.9 284.6,240.7 284.9,248.7 285.3,242.1 285.6,246.3 286.0,245.8 286.4,242.6 286.7,250.6 287.0,238.2 287.4,250.4 287.8,249.1 288.1,243.2 288.4,256.8 288.8,251.3 289.1,243.8 289.5,247.1 289.9,245.3 290.2,246.6 290.5,247.0 290.9,249.5 291.2,239.7 291.6,243.4 291.9,250.7 292.3,249.6 292.6,242.5 293.0,242.1 293.4,251.4 293.7,249.2 294.1,255.9 294.4,250.3 294.8,242.8 295.1,245.2 295.4,254.0 295.8,252.4 296.1,248.1 296.5,247.9 296.9,247.6 297.2,245.3 297.5,247.6 297.9,256.5 298.2,251.4 298.6,252.1 298.9,253.4 299.3,244.1 299.6,253.5 300.0,248.0 300.3,247.7 300.7,249.4 301.0,251.0 301.4,252.8 301.8,249.2 302.1,247.6 302.4,253.7 302.8,243.6 303.1,253.1 303.5,246.9 303.8,250.7 304.2,242.7 304.6,244.3 304.9,243.3 305.2,242.6 305.6,253.0 305.9,264.3 306.3,256.9 306.6,255.5 307.0,246.5 307.4,247.0 307.7,255.7 308.0,248.3 308.4,252.8 308.8,253.2 309.1,250.8 309.4,258.0 309.8,250.1 310.1,248.7 310.5,244.5 310.9,246.9 311.2,250.1 311.5,246.0 311.9,251.9 312.2,250.6 312.6,258.2 312.9,255.0 313.3,252.1 313.6,249.0 314.0,246.6 314.4,245.5 314.7,255.5 315.0,256.3 315.4,257.9 315.8,261.6 316.1,248.7 316.5,260.2 316.8,250.9 317.1,256.5 317.5,255.3 317.8,249.1 318.2,263.5 318.5,252.5 318.9,258.7 319.2,255.0 319.6,260.6 319.9,254.8 320.3,260.5 320.6,255.8 321.0,253.4 321.4,258.3 321.7,252.4 322.1,252.8 322.4,256.2 322.8,260.3 323.1,255.9 323.4,259.8 323.8,257.5 324.1,257.5 324.5,252.1 324.8,261.5 325.2,265.1 325.5,255.0 325.9,259.8 326.2,252.4 326.6,263.6 326.9,263.3 327.3,259.3 327.6,261.2 328.0,262.7 328.4,247.0 328.7,260.7 329.1,252.4 329.4,261.9 329.8,261.8 330.1,264.3 330.4,251.8 330.8,258.1 331.1,257.7 331.5,262.8 331.8,262.3 332.2,248.7 332.5,268.4 332.9,273.4 333.2,262.5 333.6,269.2 333.9,270.8 334.3,274.0 334.6,260.6 335.0,262.2 335.4,265.8 335.7,264.5 336.0,256.9 336.4,262.2 336.8,262.8 337.1,272.0 337.4,261.3 337.8,269.4 338.1,265.5 338.5,258.1 338.9,266.7 339.2,253.8 339.5,257.8 339.9,260.6 340.2,270.9 340.6,266.3 340.9,262.6 341.3,260.9 341.6,264.9 342.0,280.7 342.3,260.8 342.7,275.4 343.0,269.7 343.4,281.1 343.8,271.0 344.1,264.6 344.4,261.1 344.8,275.1 345.1,264.1 345.5,265.7 345.9,267.4 346.2,261.9 346.5,266.8 346.9,257.7 347.2,280.9 347.6,264.3 348.0,267.2 348.3,275.9 348.6,267.3 349.0,269.8 349.4,274.4 349.7,268.6 350.0,272.0 350.4,262.0 350.8,270.1 351.1,260.7 351.4,265.7 351.8,269.5 352.1,262.3 352.5,262.5 352.9,268.5 353.2,268.0 353.5,275.3 353.9,266.9 354.2,281.2 354.6,263.1 354.9,259.2 355.3,261.0 355.6,272.2 356.0,280.6 356.4,278.9 356.7,270.5 357.0,275.9 357.4,280.1 357.8,277.5 358.1,285.3 358.5,281.8 358.8,270.9 359.1,278.7 359.5,282.3 359.9,278.7 360.2,281.5 360.5,274.4 360.9,268.1 361.2,269.7 361.6,278.2 361.9,278.7 362.3,264.7 362.6,278.7 363.0,278.1 363.4,270.6 363.7,282.8 364.0,272.9 364.4,265.7 364.8,273.2 365.1,300.7 365.5,274.6 365.8,273.2 366.1,275.5 366.5,262.9 366.8,281.5 367.2,281.4 367.5,271.5 367.9,277.4 368.2,270.4 368.6,278.9 368.9,281.8 369.3,284.8 369.6,280.5 370.0,288.2 370.4,273.6 370.7,279.1 371.0,293.7 371.4,273.5 371.8,281.8 372.1,287.4 372.5,270.9 372.8,283.2 373.1,281.7 373.5,278.4 373.9,291.0 374.2,283.0 374.5,280.9 374.9,284.7 375.2,278.3 375.6,277.2 375.9,280.7 376.3,295.3 376.6,289.1 377.0,280.2 377.4,271.2 377.7,279.4 378.0,279.6 378.4,294.5 378.8,279.2 379.1,267.3 379.4,285.9 379.8,285.9 380.1,282.9 380.5,280.5 380.9,288.1 381.2,286.4 381.5,304.1 381.9,287.2 382.2,287.3 382.6,291.9 383.0,299.0 383.3,275.2 383.6,296.3 384.0,281.4 384.4,298.9 384.7,289.7 385.0,292.9 385.4,275.0 385.8,281.4 386.1,288.3 386.4,286.4 386.8,289.1 387.1,285.5 387.5,299.4 387.9,305.0 388.2,288.9 388.5,290.2 388.9,299.3 389.2,279.3 389.6,290.3 390.0,289.1 390.3,294.8 390.6,305.8 391.0,297.1 391.4,296.4 391.7,290.7 392.0,277.8 392.4,286.9 392.8,291.1 393.1,305.0 393.4,284.2 393.8,293.7 394.1,321.3 394.5,299.3 394.9,288.8 395.2,288.5 395.5,288.3 395.9,302.6 396.2,295.0 396.6,297.7 397.0,291.7 397.3,288.4 397.6,290.2 398.0,297.7 398.3,281.2 398.7,295.6 399.0,308.2 399.4,280.8 399.8,290.4 400.1,285.0 400.4,297.9 400.8,298.4 401.1,302.0 401.5,287.0 401.9,286.0 402.2,302.9 402.5,286.9 402.9,300.2 403.2,305.9 403.6,290.0 403.9,296.4 404.3,280.8 404.6,312.7 405.0,293.0 405.4,298.6 405.7,299.3 406.0,301.6 406.4,299.8 406.8,297.7 407.1,298.3 407.4,309.3 407.8,295.9 408.1,295.2 408.5,309.3 408.9,297.5 409.2,300.5 409.5,297.6 409.9,301.9 410.2,308.6 410.6,298.7 410.9,317.1 411.3,293.4 411.6,316.3 412.0,313.0 412.4,301.9 412.7,305.3 413.0,301.3 413.4,292.9 413.8,300.8 414.1,306.9 414.5,319.7 414.8,306.3 415.1,323.6 415.5,304.3 415.9,339.3 416.2,314.7 416.5,311.9 416.9,318.6 417.2,305.3 417.6,305.9 417.9,322.7 418.3,306.3 418.6,310.6 419.0,307.0 419.4,302.9 419.7,312.8 420.0,308.2 420.4,302.0 420.8,316.9 421.1,306.6 421.5,305.5 421.8,318.1 422.1,315.2 422.5,314.5 422.8,325.6 423.2,321.1 423.5,320.8 423.9,324.4 424.2,316.0 424.6,308.2 424.9,304.8 425.3,304.7 425.6,314.9 426.0,306.1 426.4,311.6 426.7,322.3 427.0,306.5 427.4,303.6 427.8,306.8 428.1,323.9 428.5,319.5 428.8,314.8 429.1,310.0 429.5,311.2 429.9,310.7 430.2,317.0 430.5,345.1 430.9,306.7 431.2,305.7 431.6,301.5 431.9,302.6 432.3,310.1 432.6,318.2 433.0,327.2 433.4,320.8 433.7,327.0 434.0,346.9 434.4,325.3 434.8,306.2 435.1,322.9 435.4,314.0 435.8,313.1 436.1,332.4 436.5,324.0 436.9,322.1 437.2,337.9 437.5,315.6 437.9,309.6 438.2,316.0 438.6,324.0 439.0,328.9 439.3,307.4 439.6,336.0 440.0,316.2 440.4,331.8 440.7,335.6 441.0,310.5 441.4,309.6 441.8,323.2 442.1,325.5 442.4,339.8 442.8,322.7 443.1,303.4 443.5,333.9 443.9,333.5 444.2,325.9 444.5,330.5 444.9,335.5 445.2,327.4 445.6,324.5 446.0,311.5 446.3,333.6 446.6,319.2 447.0,331.2 447.3,332.5 447.7,314.8 448.0,320.9 448.4,316.1 448.8,320.8 449.1,328.1 449.4,356.6 449.8,323.5 450.1,335.5 450.5,325.1 450.9,307.4 451.2,338.7 451.5,336.4 451.9,320.1 452.2,314.9 452.6,330.0 453.0,329.4 453.3,330.4 453.6,330.5 454.0,325.0 454.3,318.7 454.7,340.9 455.0,348.4 455.4,326.4 455.8,341.3 456.1,321.2 456.4,339.5 456.8,334.3 457.1,336.3 457.5,313.7 457.9,334.2 458.2,337.7 458.5,347.6 458.9,325.8 459.2,316.0 459.6,335.2 459.9,331.8 460.3,335.4 460.6,332.1 461.0,346.6 461.4,340.6 461.7,345.5 462.0,346.7 462.4,326.7 462.8,350.9 463.1,345.4 463.4,349.5 463.8,352.0 464.1,345.9 464.5,324.3 464.9,346.0 465.2,352.6 465.5,341.0 465.9,355.7 466.2,354.2 466.6,369.8 466.9,338.6 467.3,347.2 467.6,336.1 468.0,340.0 468.4,352.4 468.7,330.8 469.0,343.1 469.4,344.4 469.8,341.3 470.1,336.6 470.5,356.6 470.8,363.3 471.1,358.5 471.5,356.0 471.8,359.6 472.2,359.2 472.5,356.4 472.9,359.6 473.2,347.1 473.6,359.2 473.9,348.0 474.3,332.2 474.6,330.9 475.0,374.6 475.4,341.7 475.7,343.4 476.0,364.5 476.4,357.9 476.8,352.0 477.1,357.9 477.5,338.8 477.8,359.1 478.1,326.4 478.5,328.0 478.8,366.9 479.2,354.1 479.5,340.5 479.9,343.5 480.2,357.9 480.6,357.7 480.9,370.3 481.3,358.0 481.6,351.2 482.0,347.9 482.4,359.2 482.7,381.0 483.0,346.0 483.4,351.5 483.8,380.4 484.1,359.0 484.4,369.6 484.8,352.4 485.1,358.7 485.5,341.4 485.9,363.5 486.2,342.2 486.5,351.2 486.9,338.2 487.2,358.6 487.6,357.1 487.9,363.5 488.3,327.8 488.6,336.4 489.0,346.5 489.4,354.0 489.7,363.1 490.0,355.7 490.4,357.7 490.8,361.2 491.1,357.3 491.4,347.7 491.8,360.8 492.1,360.2 492.5,350.4 492.9,340.9 493.2,366.2 493.5,349.0 493.9,349.9 494.2,364.7 494.6,352.8 495.0,357.6 495.3,365.6 495.6,370.1 496.0,367.4 496.4,364.5 496.7,351.8 497.0,359.5 497.4,361.0 497.8,378.7 498.1,383.7 498.4,388.3 498.8,379.5 499.1,367.9 499.5,377.1 499.9,371.1 500.2,368.2 500.5,364.5 500.9,371.8 501.2,371.5 501.6,377.3 502.0,369.2 502.3,373.9 502.6,370.0 503.0,358.7 503.3,379.3 503.7,361.3 504.0,369.9 504.4,381.6 504.8,387.4 505.1,360.5 505.4,382.0 505.8,380.8 506.1,392.1 506.5,386.8 506.9,381.8 507.2,357.6 507.5,387.6 507.9,367.1 508.2,345.2 508.6,364.9 508.9,369.0 509.3,400.1 509.6,359.0 510.0,369.0 510.4,382.5 510.7,374.9 511.0,385.5 511.4,393.1 511.8,375.4 512.1,371.1 512.4,374.4 512.8,374.0 513.1,374.2 513.5,376.9 513.9,359.4 514.2,397.9 514.5,380.9 514.9,372.5 515.2,378.8 515.6,391.9 515.9,375.2 516.3,395.2 516.6,385.1 517.0,369.0 517.4,407.5 517.7,378.2 518.0,357.7 518.4,378.3 518.8,375.6 519.1,381.5 519.5,369.7 519.8,397.1 520.1,362.2 520.5,383.0 520.9,394.8 521.2,364.2 521.5,381.5 521.9,377.4 522.2,369.6 522.6,381.1 522.9,392.8 523.3,397.9 523.6,370.1 524.0,370.0 524.4,390.3 524.7,362.1 525.0,387.8 525.4,382.0 525.8,371.5 526.1,393.9 526.4,392.6 526.8,380.8 527.1,390.7 527.5,373.0 527.8,367.1 528.2,387.5 528.5,375.2 528.9,365.4 529.2,386.8 529.6,382.3 530.0,363.4 530.3,387.1 530.6,369.7 531.0,346.5 531.3,400.8 531.7,403.8 532.0,389.0 532.4,384.8 532.8,375.2 533.1,369.7 533.5,393.5 533.8,405.6 534.1,380.1 534.5,362.9 534.9,397.7 535.2,371.5 535.5,372.3 535.9,363.5 536.2,366.8 536.6,375.9 536.9,363.1 537.3,367.2 537.6,370.0 538.0,375.6 538.4,375.7 538.7,389.1 539.0,363.7 539.4,408.7 539.8,362.1 540.1,405.8 540.4,377.1 540.8,383.3 541.1,332.0 541.5,364.0 541.9,375.8 542.2,360.8 542.6,356.9 542.9,382.4 543.2,370.3 543.6,349.8 543.9,396.7 544.3,385.1 544.6,369.0 545.0,341.9 545.3,381.4 545.7,370.0 546.0,366.8 546.4,350.6 546.8,354.2 547.1,369.6 547.5,373.8 547.8,383.9 548.1,357.9 548.5,336.2 548.9,361.7 549.2,368.7 549.5,337.8 549.9,378.6 550.2,383.6 550.6,344.4 551.0,343.3 551.3,335.1 551.6,381.7 552.0,351.7 552.4,352.8 552.7,348.1 553.0,349.6 553.4,346.1 553.8,342.6 554.1,353.1 554.4,359.7 554.8,336.1 555.1,343.8 555.5,339.6 555.9,361.5 556.2,346.1 556.5,343.2 556.9,376.8 557.2,344.2 557.6,355.2 557.9,370.7 558.3,341.1 558.6,360.6 559.0,345.8 559.3,350.0 559.7,387.9 560.1,355.5 560.4,314.9 560.8,345.9 561.1,356.1 561.4,336.5 561.8,352.6 562.1,339.6 562.5,366.5 562.8,367.0 563.2,351.7 563.5,348.1 563.9,336.3 564.2,331.2 564.6,339.3 565.0,373.8 565.3,339.3 565.6,347.2 566.0,365.3 566.4,332.4 566.7,368.9 567.0,369.3 567.4,337.6 567.7,331.1 568.1,337.1 568.4,357.8 568.8,316.1 569.1,364.8 569.5,324.0 569.9,378.1 570.2,341.0 570.5,335.3 570.9,340.4 571.2,350.2 571.6,338.1 571.9,338.4 572.3,362.5 572.6,322.4 573.0,341.9 573.4,345.0 573.7,387.2 574.0,343.9 574.4,326.3 574.8,343.6 575.1,346.7 575.4,340.8 575.8,353.3 576.1,343.4 576.5,360.5 576.8,333.2 577.2,333.1 577.5,338.2 577.9,345.0 578.2,345.3 578.6,360.7 579.0,357.6 579.3,343.7 579.6,363.9 580.0,362.0 580.3,362.3 580.7,337.0 581.0,345.3 581.4,341.6 581.7,321.6 582.1,340.2 582.5,355.5 582.8,341.7 583.1,342.4 583.5,324.7 583.9,344.3 584.2,335.1 584.5,364.4 584.9,358.1 585.2,361.9 585.6,338.3 585.9,375.1 586.3,347.0 586.6,339.3 587.0,360.6 587.4,370.9 587.7,325.7 588.0,332.4 588.4,328.2 588.8,336.4 589.1,318.6 589.4,331.9 589.8,363.7 590.1,336.2 590.5,336.8 590.8,365.9 591.2,352.9 591.6,332.5 591.9,372.2 592.2,343.4 592.6,364.8 592.9,333.3 593.3,325.2 593.6,359.8 594.0,356.3 594.3,345.7 594.7,346.2 595.0,351.0 595.4,321.6 595.8,343.8 596.1,362.0 596.5,330.8 596.8,346.3 597.1,338.7 597.5,314.2 597.9,348.2 598.2,328.2 598.5,336.0 598.9,344.0 599.2,305.6 599.6,310.4 599.9,360.8 600.3,299.3 600.6,304.0 601.0,342.4 601.4,309.4 601.7,329.3 602.0,317.4 602.4,355.4 602.8,302.6 603.1,354.0 603.5,354.2 603.8,322.9 604.2,301.3 604.5,321.0 604.9,307.4 605.2,296.2 605.5,310.7 605.9,293.3 606.2,293.6 606.6,333.1 606.9,343.9 607.3,323.0 607.6,313.4 608.0,283.3 608.4,278.1 608.7,336.7 609.1,273.6 609.4,347.7 609.8,339.2 610.1,331.7 610.5,281.9 610.8,325.6 611.1,293.5 611.5,302.1 611.8,318.5 612.2,296.7 612.6,317.5 612.9,295.7 613.2,307.3 613.6,240.4 614.0,321.7 614.3,287.2 614.6,306.2 615.0,262.4 615.4,270.5 615.7,291.3 616.0,272.7 616.4,306.4 616.8,296.3 617.1,268.2 617.5,305.4 617.8,268.5 618.1,268.3 618.5,271.9 618.9,275.3 619.2,276.1 619.5,303.2 619.9,274.2 620.2,318.9 620.6,303.2 620.9,274.2 621.3,262.6 621.7,295.7 622.0,258.0 622.4,278.7 622.7,290.6 623.1,263.3 623.4,256.4 623.8,271.2 624.1,265.7 624.4,222.7 624.8,270.4 625.1,282.4 625.5,262.2 625.9,246.7 626.2,252.7 626.6,232.6 626.9,242.8 627.2,241.6 627.6,262.8 628.0,219.7 628.3,268.4 628.6,212.2 629.0,263.7 629.3,255.3 629.7,239.2 630.0,200.4 630.4,246.1 630.8,210.8 631.1,228.6 631.5,243.6 631.8,208.7 632.1,226.7 632.5,229.1 632.9,201.7 633.2,205.4 633.5,208.1 633.9,206.9 634.2,164.3 634.6,230.4 635.0,209.0 635.3,212.6 635.6,211.0 636.0,227.8 636.4,203.8 636.7,189.1 637.0,195.3 637.4,204.6 637.8,212.1 638.1,188.0 638.4,198.3 638.8,178.7 639.1,180.7 639.5,149.0 639.9,181.0 640.2,160.6 640.6,180.9 640.9,158.0 641.2,158.8 641.6,152.5 641.9,185.2 642.3,163.2 642.6,180.8 643.0,150.0 643.4,166.0 643.7,158.7 644.1,177.6 644.4,152.1 644.8,136.5 645.1,144.5 645.5,134.3 645.8,119.1 646.1,127.6 646.5,123.9 646.9,162.6 647.2,150.3 647.5,155.1 647.9,127.1 648.2,110.2 648.6,107.1 649.0,115.5 649.3,140.1 649.6,124.1 650.0,159.8 650.4,132.6 650.7,112.0 651.0,119.0 651.4,106.5 651.8,84.2 652.1,107.1 652.5,102.5 652.8,107.8 653.2,55.2 653.5,86.3 653.9,87.0 654.2,58.0 654.5,65.9 654.9,81.7 655.2,87.3 655.6,61.5 655.9,57.4 656.3,43.6 656.6,58.9 657.0,78.0 657.4,92.9 657.7,78.4 658.1,50.0 658.4,55.2 658.8,61.4 659.1,64.7 659.5,54.3 659.8,35.0 660.1,41.6 660.5,74.6 660.8,59.0 661.2,28.2 661.6,57.8 661.9,27.8 662.2,52.6 662.6,67.6 663.0,8.9 663.3,37.8 663.6,15.5 664.0,36.0 664.4,24.4 664.7,-9.8 665.0,7.2 665.4,18.3 665.8,9.7 666.1,35.4 666.5,0.4 666.8,-17.7 667.1,-31.0 667.5,24.1 667.9,18.6 668.2,12.2 668.5,10.7 668.9,26.6 669.2,7.3 669.6,-13.7 669.9,12.2 670.3,-35.7 670.7,37.2 671.0,10.7 671.4,-5.5 671.7,-2.4 672.1,7.2" fill="none" stroke="#808080" stroke-width="1.5" stroke-linejoin="round"/>
<polyline points="88.6,28.9 88.9,52.9 89.3,75.7 89.6,96.9 90.0,116.3 90.3,133.8 90.7,149.9 91.0,164.8 91.4,178.5 91.8,190.9 92.1,202.0 92.4,212.0 92.8,221.1 93.1,229.6 93.5,237.6 93.8,245.0 94.2,252.3 94.5,259.3 94.9,266.4 95.2,273.1 95.6,279.7 95.9,285.9 96.3,291.6 96.6,296.9 97.0,301.6 97.3,305.6 97.7,309.1 98.0,312.5 98.4,315.6 98.8,318.5 99.1,321.2 99.4,323.7 99.8,326.2 100.1,328.6 100.5,330.9 100.8,333.3 101.2,335.5 101.5,337.8 101.9,340.1 102.2,342.1 102.6,344.0 102.9,346.0 103.3,348.0 103.6,349.8 104.0,351.3 104.3,353.2 104.7,354.6 105.0,356.1 105.4,357.5 105.8,358.8 106.1,360.2 106.4,361.5 106.8,362.8 107.1,364.1 107.5,365.3 107.8,367.0 108.2,368.4 108.5,370.2 108.9,372.1 109.2,374.1 109.6,376.0 109.9,378.1 110.3,380.0 110.6,382.0 111.0,384.1 111.3,385.7 111.7,387.6 112.0,389.2 112.4,390.6 112.8,391.9 113.1,392.8 113.4,393.6 113.8,394.6 114.1,395.4 114.5,396.1 114.8,397.0 115.2,398.0 115.5,398.6 115.9,399.5 116.2,400.3 116.6,401.2 116.9,401.7 117.3,402.5 117.6,403.1 118.0,404.0 118.3,404.5 118.7,404.8 119.0,405.4 119.4,406.1 119.8,406.6 120.1,407.5 120.4,407.6 120.8,408.2 121.1,408.9 121.5,409.0 121.8,409.4 122.2,409.4 122.5,409.8 122.9,409.7 123.2,410.0 123.6,410.4 123.9,410.4 124.3,410.8 124.6,410.5 125.0,410.6 125.3,410.6 125.7,410.5 126.0,410.5 126.4,410.5 126.8,410.2 127.1,410.1 127.4,410.5 127.8,410.0 128.1,409.9 128.5,409.8 128.8,409.6 129.2,409.4 129.5,409.4 129.9,409.4 130.2,409.1 130.6,409.1 130.9,409.0 131.3,408.6 131.6,408.7 132.0,409.0 132.3,408.5 132.7,408.8 133.0,408.6 133.4,408.9 133.8,408.3 134.1,408.8 134.4,408.2 134.8,407.8 135.1,408.0 135.5,408.0 135.8,408.1 136.2,407.8 136.5,407.4 136.9,407.9 137.2,407.5 137.6,406.9 137.9,407.0 138.3,406.5 138.6,406.4 139.0,406.5 139.3,406.2 139.7,405.6 140.0,405.7 140.4,405.4 140.8,405.0 141.1,405.0 141.4,404.7 141.8,404.1 142.1,404.0 142.5,403.7 142.8,403.2 143.2,402.6 143.5,402.7 143.9,402.6 144.2,401.3 144.6,401.4 144.9,401.7 145.3,401.0 145.6,400.9 146.0,400.0 146.3,400.1 146.7,399.5 147.0,398.5 147.4,398.6 147.8,397.9 148.1,397.3 148.4,396.7 148.8,395.9 149.1,395.1 149.5,395.0 149.8,394.1 150.2,393.9 150.5,392.7 150.9,392.1 151.2,390.9 151.6,390.4 151.9,389.8 152.3,389.1 152.6,388.3 153.0,387.4 153.3,386.8 153.7,385.8 154.1,385.2 154.4,384.2 154.8,383.2 155.1,382.9 155.4,382.1 155.8,381.4 156.1,380.0 156.5,379.2 156.8,378.9 157.2,378.3 157.5,378.1 157.9,376.8 158.2,376.4 158.6,375.8 158.9,375.2 159.3,375.4 159.6,374.4 160.0,373.6 160.3,372.6 160.7,372.5 161.1,371.6 161.4,371.2 161.8,370.8 162.1,369.8 162.4,369.7 162.8,369.2 163.1,368.0 163.5,367.2 163.8,367.2 164.2,366.2 164.6,366.2 164.9,365.6 165.2,364.8 165.6,364.3 165.9,363.6 166.3,364.3 166.6,362.4 167.0,362.6 167.3,361.6 167.7,360.6 168.1,360.3 168.4,360.1 168.8,359.5 169.1,359.1 169.4,358.6 169.8,358.0 170.1,357.4 170.5,356.7 170.8,356.0 171.2,354.9 171.5,354.8 171.9,354.3 172.2,354.1 172.6,352.9 172.9,352.6 173.3,351.6 173.6,351.6 174.0,350.7 174.3,351.0 174.7,350.0 175.1,349.6 175.4,348.9 175.8,348.4 176.1,347.7 176.4,348.0 176.8,347.1 177.1,346.5 177.5,345.5 177.8,345.5 178.2,344.7 178.6,344.1 178.9,343.7 179.2,343.7 179.6,342.1 179.9,342.0 180.3,341.7 180.6,341.0 181.0,340.9 181.3,340.0 181.7,340.1 182.1,338.7 182.4,339.4 182.8,338.2 183.1,337.9 183.4,337.0 183.8,336.3 184.1,336.2 184.5,336.0 184.8,335.3 185.2,335.4 185.5,334.2 185.9,333.9 186.2,333.4 186.6,333.1 186.9,332.7 187.3,332.2 187.6,331.2 188.0,331.3 188.3,330.7 188.7,330.5 189.1,330.3 189.4,330.9 189.8,329.2 190.1,329.2 190.4,329.5 190.8,328.3 191.1,328.2 191.5,327.1 191.8,327.0 192.2,325.7 192.6,326.0 192.9,325.7 193.2,325.2 193.6,325.0 193.9,324.2 194.3,323.5 194.6,323.6 195.0,323.1 195.3,322.2 195.7,322.3 196.0,321.7 196.4,320.8 196.8,321.0 197.1,322.0 197.4,320.1 197.8,320.0 198.2,319.8 198.5,318.6 198.8,319.1 199.2,318.7 199.5,318.3 199.9,317.6 200.2,317.0 200.6,317.1 200.9,316.5 201.3,316.6 201.6,315.5 202.0,315.3 202.3,315.4 202.7,315.2 203.1,315.6 203.4,314.5 203.8,315.2 204.1,313.1 204.4,313.6 204.8,312.3 205.1,310.8 205.5,312.1 205.8,312.4 206.2,311.7 206.6,310.6 206.9,311.2 207.2,311.0 207.6,309.6 207.9,309.4 208.3,309.5 208.6,310.4 209.0,309.4 209.3,308.7 209.7,308.5 210.1,308.7 210.4,307.8 210.7,307.6 211.1,305.5 211.4,306.4 211.8,306.5 212.1,306.5 212.5,305.5 212.8,306.3 213.2,306.6 213.6,305.3 213.9,306.2 214.2,306.8 214.6,305.0 214.9,304.9 215.3,306.1 215.6,303.1 216.0,304.8 216.3,303.3 216.7,300.4 217.0,303.2 217.4,302.0 217.7,304.8 218.1,298.5 218.4,298.7 218.8,299.9 219.2,298.9 219.5,302.2 219.8,301.2 220.2,300.1 220.5,299.9 220.9,302.0 221.2,300.9 221.6,299.7 221.9,301.3 222.3,299.5 222.7,299.7 223.0,300.8 223.3,302.4 223.7,301.5 224.0,297.4 224.4,301.3 224.8,298.7 225.1,297.4 225.4,300.0 225.8,297.2 226.1,298.2 226.5,295.9 226.8,297.0 227.2,300.2 227.5,296.8 227.9,295.5 228.2,303.9 228.6,298.6 228.9,295.9 229.3,293.5 229.6,299.0 230.0,293.9 230.3,295.1 230.7,295.1 231.0,294.7 231.4,295.8 231.8,296.3 232.1,295.8 232.4,298.9 232.8,294.5 233.1,291.9 233.5,294.0 233.8,293.7 234.2,293.5 234.5,294.5 234.9,293.2 235.2,294.6 235.6,295.3 235.9,292.6 236.3,294.1 236.6,292.5 237.0,295.4 237.3,290.4 237.7,292.6 238.1,291.7 238.4,292.6 238.7,293.2 239.1,295.9 239.4,294.0 239.8,290.5 240.1,294.6 240.5,293.3 240.8,293.0 241.2,293.4 241.5,293.4 241.9,296.3 242.2,294.5 242.6,296.1 242.9,294.5 243.3,294.0 243.7,294.5 244.0,292.3 244.3,299.7 244.7,294.6 245.0,293.1 245.4,292.7 245.7,291.1 246.1,297.9 246.4,292.7 246.8,291.9 247.2,293.9 247.5,292.6 247.8,298.2 248.2,291.4 248.5,290.8 248.9,291.3 249.2,292.8 249.6,296.1 249.9,289.4 250.3,293.2 250.7,287.2 251.0,290.3 251.3,296.7 251.7,292.3 252.0,288.5 252.4,290.5 252.8,292.6 253.1,296.2 253.4,296.3 253.8,291.4 254.1,294.0 254.5,301.7 254.8,294.5 255.2,299.1 255.5,296.5 255.9,293.6 256.2,300.5 256.6,307.0 256.9,319.2 257.3,333.6 257.6,322.8 258.0,314.2 258.4,306.2 258.7,295.2 259.0,295.0 259.4,301.9 259.8,292.2 260.1,291.0 260.4,300.8 260.8,299.4 261.1,294.7 261.5,291.8 261.9,293.9 262.2,295.2 262.5,294.1 262.9,294.8 263.2,290.5 263.6,291.7 263.9,292.6 264.3,298.3 264.6,291.0 265.0,290.0 265.4,295.7 265.7,290.7 266.1,294.2 266.4,294.5 266.8,288.4 267.1,289.8 267.4,292.1 267.8,288.8 268.1,292.4 268.5,298.9 268.9,295.9 269.2,296.7 269.5,301.6 269.9,298.6 270.2,300.4 270.6,300.7 270.9,300.6 271.3,289.8 271.6,289.2 272.0,299.5 272.4,290.3 272.7,294.2 273.0,288.7 273.4,290.8 273.8,289.8 274.1,290.6 274.4,295.3 274.8,290.3 275.1,291.9 275.5,293.5 275.8,296.8 276.2,297.1 276.5,294.9 276.9,298.1 277.2,295.1 277.6,295.5 277.9,310.0 278.3,300.5 278.6,306.5 279.0,303.7 279.4,307.1 279.7,309.2 280.0,299.9 280.4,304.9 280.8,304.4 281.1,307.4 281.4,303.6 281.8,305.0 282.1,310.4 282.5,303.6 282.9,304.0 283.2,301.0 283.5,296.7 283.9,296.6 284.2,300.3 284.6,297.5 284.9,297.6 285.3,294.2 285.6,295.0 286.0,295.7 286.4,295.3 286.7,292.4 287.0,299.4 287.4,297.4 287.8,294.3 288.1,294.9 288.4,295.6 288.8,295.5 289.1,294.7 289.5,291.7 289.9,289.3 290.2,290.7 290.5,294.6 290.9,288.5 291.2,290.7 291.6,293.1 291.9,286.5 292.3,291.9 292.6,296.9 293.0,288.5 293.4,293.8 293.7,294.6 294.1,290.2 294.4,289.7 294.8,294.8 295.1,295.3 295.4,299.8 295.8,295.2 296.1,293.5 296.5,303.2 296.9,296.7 297.2,298.5 297.5,296.5 297.9,295.8 298.2,296.2 298.6,300.6 298.9,301.4 299.3,299.5 299.6,298.3 300.0,298.4 300.3,298.1 300.7,297.0 301.0,298.5 301.4,308.0 301.8,297.4 302.1,299.0 302.4,297.9 302.8,296.1 303.1,297.6 303.5,298.9 303.8,296.7 304.2,297.2 304.6,297.7 304.9,299.3 305.2,300.2 305.6,297.9 305.9,300.7 306.3,303.8 306.6,308.1 307.0,311.1 307.4,304.1 307.7,303.0 308.0,298.2 308.4,297.7 308.8,298.3 309.1,297.9 309.4,298.8 309.8,297.9 310.1,301.0 310.5,295.8 310.9,295.2 311.2,296.5 311.5,298.0 311.9,298.9 312.2,297.9 312.6,295.2 312.9,300.2 313.3,297.2 313.6,294.4 314.0,291.5 314.4,301.6 314.7,297.1 315.0,301.9 315.4,294.6 315.8,296.3 316.1,293.9 316.5,310.2 316.8,295.0 317.1,300.2 317.5,300.1 317.8,302.9 318.2,302.6 318.5,295.7 318.9,298.2 319.2,302.9 319.6,308.8 319.9,308.5 320.3,315.8 320.6,312.5 321.0,311.7 321.4,304.4 321.7,310.5 322.1,302.8 322.4,299.4 322.8,299.6 323.1,305.3 323.4,307.3 323.8,312.3 324.1,310.7 324.5,313.4 324.8,313.1 325.2,313.1 325.5,301.1 325.9,304.2 326.2,306.5 326.6,300.6 326.9,304.1 327.3,305.7 327.6,310.7 328.0,304.8 328.4,306.9 328.7,306.5 329.1,309.3 329.4,304.6 329.8,308.9 330.1,309.7 330.4,308.1 330.8,311.0 331.1,304.3 331.5,306.1 331.8,314.0 332.2,310.6 332.5,309.4 332.9,309.9 333.2,315.7 333.6,312.2 333.9,308.7 334.3,311.0 334.6,308.5 335.0,312.9 335.4,307.9 335.7,311.4 336.0,313.8 336.4,311.8 336.8,313.0 337.1,313.9 337.4,304.5 337.8,310.8 338.1,314.0 338.5,304.1 338.9,312.6 339.2,303.8 339.5,317.1 339.9,308.2 340.2,311.2 340.6,313.1 340.9,305.3 341.3,313.5 341.6,308.8 342.0,311.5 342.3,310.3 342.7,314.7 343.0,310.3 343.4,312.9 343.8,323.5 344.1,298.9 344.4,313.3 344.8,311.6 345.1,310.5 345.5,316.2 345.9,316.2 346.2,322.4 346.5,321.1 346.9,314.6 347.2,312.2 347.6,315.9 348.0,317.2 348.3,316.3 348.6,315.0 349.0,316.0 349.4,316.3 349.7,312.6 350.0,321.9 350.4,317.3 350.8,316.1 351.1,317.7 351.4,319.9 351.8,317.3 352.1,317.1 352.5,313.8 352.9,308.0 353.2,307.7 353.5,316.1 353.9,313.3 354.2,305.7 354.6,316.4 354.9,309.8 355.3,315.7 355.6,323.0 356.0,315.2 356.4,313.7 356.7,307.3 357.0,321.5 357.4,307.4 357.8,314.9 358.1,317.8 358.5,318.7 358.8,324.4 359.1,314.4 359.5,318.7 359.9,317.2 360.2,317.2 360.5,328.8 360.9,320.0 361.2,318.4 361.6,319.7 361.9,319.2 362.3,319.5 362.6,322.9 363.0,319.4 363.4,322.1 363.7,319.7 364.0,320.1 364.4,324.0 364.8,310.2 365.1,327.0 365.5,329.9 365.8,318.4 366.1,323.7 366.5,320.5 366.8,322.5 367.2,320.2 367.5,327.6 367.9,325.7 368.2,312.1 368.6,315.7 368.9,330.0 369.3,325.1 369.6,318.1 370.0,325.3 370.4,332.4 370.7,322.1 371.0,322.1 371.4,326.4 371.8,325.0 372.1,332.4 372.5,320.2 372.8,317.4 373.1,328.1 373.5,338.0 373.9,323.0 374.2,328.8 374.5,326.9 374.9,333.1 375.2,336.0 375.6,334.4 375.9,337.4 376.3,332.3 376.6,332.0 377.0,320.2 377.4,329.1 377.7,330.8 378.0,332.1 378.4,324.4 378.8,323.7 379.1,336.4 379.4,335.2 379.8,334.1 380.1,332.7 380.5,329.0 380.9,318.4 381.2,319.1 381.5,336.4 381.9,344.9 382.2,338.2 382.6,337.2 383.0,330.8 383.3,326.5 383.6,338.1 384.0,324.8 384.4,324.7 384.7,347.0 385.0,341.0 385.4,326.6 385.8,334.5 386.1,333.2 386.4,308.8 386.8,332.8 387.1,336.2 387.5,349.1 387.9,334.9 388.2,332.4 388.5,342.6 388.9,324.2 389.2,344.1 389.6,326.1 390.0,337.0 390.3,341.0 390.6,330.9 391.0,329.0 391.4,331.0 391.7,344.9 392.0,331.0 392.4,337.9 392.8,333.6 393.1,331.0 393.4,336.6 393.8,329.9 394.1,341.8 394.5,326.5 394.9,339.5 395.2,334.2 395.5,336.6 395.9,339.6 396.2,324.7 396.6,345.5 397.0,327.4 397.3,339.9 397.6,338.0 398.0,335.6 398.3,339.2 398.7,330.3 399.0,343.4 399.4,353.5 399.8,333.3 400.1,344.9 400.4,325.7 400.8,333.5 401.1,331.8 401.5,342.4 401.9,323.5 402.2,338.2 402.5,339.0 402.9,342.5 403.2,337.4 403.6,323.9 403.9,326.8 404.3,328.3 404.6,337.1 405.0,332.2 405.4,319.5 405.7,325.2 406.0,328.6 406.4,315.7 406.8,328.9 407.1,326.5 407.4,341.9 407.8,334.3 408.1,334.6 408.5,333.0 408.9,326.0 409.2,339.2 409.5,328.4 409.9,324.4 410.2,335.1 410.6,331.2 410.9,327.5 411.3,344.9 411.6,322.5 412.0,337.2 412.4,334.1 412.7,347.8 413.0,330.2 413.4,330.3 413.8,337.9 414.1,348.8 414.5,337.2 414.8,349.5 415.1,331.3 415.5,332.0 415.9,333.2 416.2,328.6 416.5,341.3 416.9,337.6 417.2,334.8 417.6,339.8 417.9,349.9 418.3,346.7 418.6,349.8 419.0,345.1 419.4,341.8 419.7,337.9 420.0,337.3 420.4,334.3 420.8,349.9 421.1,333.0 421.5,339.1 421.8,321.7 422.1,343.4 422.5,371.4 422.8,337.4 423.2,362.2 423.5,351.3 423.9,356.4 424.2,356.4 424.6,339.0 424.9,347.9 425.3,351.5 425.6,359.5 426.0,359.6 426.4,355.8 426.7,354.3 427.0,361.0 427.4,380.3 427.8,355.8 428.1,359.6 428.5,376.6 428.8,358.5 429.1,353.6 429.5,365.1 429.9,334.8 430.2,368.8 430.5,360.3 430.9,356.9 431.2,362.4 431.6,348.1 431.9,366.0 432.3,368.9 432.6,341.2 433.0,362.6 433.4,353.5 433.7,355.8 434.0,350.4 434.4,355.4 434.8,368.9 435.1,361.7 435.4,363.6 435.8,353.8 436.1,344.2 436.5,374.3 436.9,357.4 437.2,358.0 437.5,356.4 437.9,382.8 438.2,375.1 438.6,369.6 439.0,369.7 439.3,369.4 439.6,367.4 440.0,359.4 440.4,376.8 440.7,381.0 441.0,374.6 441.4,354.7 441.8,373.5 442.1,351.7 442.4,356.8 442.8,360.9 443.1,376.1 443.5,365.4 443.9,363.6 444.2,367.8 444.5,377.1 444.9,369.8 445.2,372.7 445.6,373.0 446.0,359.9 446.3,369.9 446.6,373.4 447.0,347.5 447.3,358.2 447.7,338.2 448.0,349.5 448.4,364.7 448.8,355.3 449.1,358.6 449.4,358.8 449.8,352.7 450.1,359.1 450.5,346.9 450.9,348.2 451.2,382.1 451.5,354.7 451.9,355.2 452.2,365.7 452.6,339.8 453.0,352.9 453.3,349.8 453.6,342.8 454.0,343.5 454.3,364.3 454.7,358.6 455.0,360.1 455.4,375.8 455.8,364.3 456.1,353.1 456.4,379.3 456.8,356.9 457.1,377.4 457.5,381.6 457.9,361.6 458.2,379.4 458.5,358.0 458.9,358.5 459.2,366.3 459.6,374.1 459.9,367.2 460.3,352.1 460.6,351.0 461.0,379.8 461.4,392.5 461.7,373.4 462.0,367.1 462.4,365.5 462.8,361.2 463.1,381.4 463.4,383.1 463.8,383.8 464.1,363.1 464.5,371.5 464.9,363.0 465.2,362.7 465.5,363.4 465.9,373.0 466.2,364.6 466.6,378.8 466.9,369.2 467.3,367.9 467.6,365.8 468.0,365.6 468.4,374.5 468.7,371.0 469.0,373.1 469.4,381.7 469.8,395.0 470.1,359.9 470.5,356.2 470.8,389.9 471.1,347.6 471.5,354.4 471.8,363.8 472.2,369.9 472.5,370.8 472.9,380.7 473.2,383.3 473.6,373.8 473.9,364.6 474.3,394.6 474.6,378.2 475.0,385.4 475.4,380.0 475.7,388.8 476.0,377.5 476.4,369.7 476.8,405.0 477.1,366.1 477.5,368.7 477.8,378.0 478.1,356.5 478.5,383.4 478.8,382.8 479.2,388.0 479.5,399.0 479.9,350.0 480.2,384.2 480.6,400.1 480.9,376.1 481.3,370.8 481.6,388.7 482.0,380.9 482.4,355.4 482.7,366.7 483.0,380.9 483.4,394.2 483.8,358.0 484.1,361.6 484.4,380.6 484.8,384.5 485.1,366.7 485.5,365.4 485.9,360.8 486.2,377.8 486.5,387.9 486.9,377.5 487.2,383.8 487.6,375.5 487.9,360.1 488.3,384.7 488.6,395.1 489.0,381.7 489.4,374.6 489.7,395.4 490.0,386.2 490.4,390.8 490.8,396.5 491.1,364.0 491.4,378.3 491.8,394.1 492.1,381.5 492.5,380.4 492.9,375.3 493.2,365.8 493.5,385.2 493.9,364.2 494.2,386.6 494.6,376.3 495.0,393.3 495.3,393.7 495.6,373.8 496.0,380.7 496.4,380.9 496.7,373.8 497.0,394.7 497.4,366.0 497.8,363.9 498.1,381.7 498.4,376.7 498.8,388.0 499.1,368.5 499.5,386.4 499.9,386.0 500.2,382.9 500.5,390.0 500.9,385.0 501.2,383.6 501.6,390.5 502.0,372.3 502.3,384.3 502.6,376.0 503.0,393.0 503.3,397.4 503.7,380.3 504.0,384.8 504.4,374.4 504.8,357.7 505.1,370.0 505.4,382.0 505.8,360.8 506.1,388.6 506.5,403.8 506.9,344.8 507.2,382.9 507.5,366.6 507.9,385.5 508.2,364.8 508.6,372.3 508.9,343.0 509.3,380.8 509.6,357.7 510.0,370.8 510.4,366.5 510.7,371.6 511.0,373.7 511.4,392.8 511.8,366.0 512.1,397.4 512.4,375.7 512.8,365.1 513.1,379.5 513.5,364.2 513.9,356.6 514.2,359.6 514.5,371.8 514.9,371.9 515.2,361.3 515.6,373.4 515.9,373.6 516.3,383.3 516.6,373.4 517.0,371.1 517.4,380.1 517.7,368.4 518.0,367.1 518.4,390.5 518.8,387.4 519.1,361.9 519.5,358.6 519.8,356.2 520.1,367.3 520.5,372.2 520.9,383.1 521.2,367.5 521.5,390.4 521.9,401.4 522.2,375.7 522.6,393.5 522.9,359.3 523.3,386.3 523.6,383.2 524.0,385.4 524.4,386.9 524.7,367.6 525.0,371.1 525.4,364.6 525.8,383.1 526.1,378.1 526.4,362.0 526.8,385.9 527.1,394.3 527.5,409.9 527.8,376.5 528.2,389.8 528.5,407.5 528.9,381.0 529.2,366.9 529.6,361.4 530.0,392.1 530.3,380.2 530.6,377.7 531.0,370.8 531.3,381.3 531.7,406.1 532.0,362.7 532.4,370.9 532.8,381.9 533.1,379.3 533.5,377.8 533.8,372.7 534.1,369.0 534.5,407.1 534.9,380.6 535.2,382.7 535.5,369.5 535.9,382.2 536.2,377.4 536.6,398.7 536.9,384.7 537.3,383.0 537.6,362.7 538.0,362.9 538.4,353.6 538.7,384.9 539.0,374.2 539.4,370.6 539.8,351.1 540.1,363.1 540.4,356.7 540.8,365.5 541.1,344.8 541.5,358.9 541.9,365.6 542.2,358.1 542.6,348.8 542.9,349.9 543.2,379.5 543.6,370.3 543.9,375.9 544.3,371.1 544.6,385.5 545.0,340.2 545.3,365.4 545.7,381.7 546.0,382.7 546.4,360.4 546.8,377.0 547.1,368.1 547.5,357.0 547.8,354.9 548.1,362.0 548.5,370.3 548.9,332.7 549.2,369.0 549.5,362.7 549.9,369.8 550.2,337.6 550.6,373.6 551.0,360.6 551.3,394.2 551.6,367.7 552.0,345.2 552.4,371.6 552.7,376.9 553.0,371.5 553.4,350.5 553.8,343.9 554.1,356.3 554.4,370.8 554.8,356.0 555.1,360.1 555.5,352.9 555.9,336.1 556.2,357.3 556.5,368.3 556.9,334.1 557.2,377.1 557.6,349.7 557.9,349.6 558.3,370.9 558.6,314.3 559.0,325.1 559.3,349.7 559.7,360.7 560.1,332.2 560.4,308.6 560.8,325.0 561.1,343.0 561.4,324.0 561.8,332.7 562.1,337.1 562.5,326.7 562.8,336.3 563.2,339.1 563.5,315.8 563.9,333.4 564.2,326.8 564.6,328.3 565.0,335.0 565.3,309.9 565.6,325.2 566.0,342.3 566.4,329.8 566.7,356.9 567.0,312.2 567.4,352.3 567.7,322.6 568.1,334.2 568.4,316.2 568.8,322.0 569.1,319.9 569.5,299.9 569.9,338.2 570.2,323.7 570.5,341.6 570.9,302.5 571.2,305.1 571.6,300.6 571.9,306.9 572.3,312.7 572.6,331.4 573.0,335.5 573.4,301.5 573.7,315.3 574.0,337.2 574.4,303.5 574.8,326.8 575.1,323.5 575.4,314.3 575.8,331.4 576.1,300.8 576.5,301.4 576.8,322.5 577.2,331.9 577.5,310.3 577.9,306.4 578.2,277.4 578.6,326.7 579.0,300.3 579.3,312.7 579.6,307.3 580.0,326.0 580.3,307.6 580.7,287.6 581.0,309.6 581.4,332.6 581.7,305.6 582.1,318.9 582.5,310.7 582.8,301.4 583.1,316.3 583.5,307.2 583.9,273.2 584.2,294.5 584.5,305.9 584.9,331.7 585.2,303.6 585.6,302.3 585.9,306.1 586.3,301.0 586.6,304.1 587.0,272.6 587.4,299.3 587.7,287.9 588.0,261.6 588.4,290.8 588.8,303.7 589.1,305.0 589.4,279.8 589.8,287.4 590.1,258.9 590.5,300.7 590.8,289.2 591.2,283.3 591.6,274.6 591.9,289.0 592.2,301.8 592.6,260.4 592.9,303.3 593.3,287.7 593.6,305.7 594.0,255.9 594.3,300.2 594.7,258.3 595.0,253.1 595.4,296.3 595.8,246.0 596.1,261.5 596.5,283.6 596.8,227.1 597.1,254.8 597.5,248.6 597.9,251.1 598.2,266.8 598.5,257.4 598.9,253.5 599.2,267.7 599.6,277.3 599.9,242.6 600.3,257.3 600.6,271.1 601.0,257.5 601.4,259.3 601.7,219.6 602.0,235.7 602.4,278.4 602.8,240.6 603.1,248.3 603.5,251.7 603.8,227.6 604.2,244.8 604.5,264.1 604.9,231.9 605.2,254.6 605.5,229.2 605.9,248.8 606.2,195.1 606.6,189.5 606.9,231.4 607.3,185.9 607.6,228.9 608.0,223.2 608.4,177.9 608.7,230.2 609.1,191.4 609.4,207.6 609.8,176.5 610.1,200.2 610.5,231.9 610.8,194.2 611.1,196.0 611.5,189.4 611.8,177.1 612.2,162.4 612.6,207.3 612.9,220.2 613.2,195.7 613.6,210.3 614.0,200.0 614.3,133.7 614.6,184.5 615.0,177.8 615.4,162.1 615.7,170.8 616.0,190.9 616.4,166.3 616.8,171.5 617.1,121.7 617.5,123.9 617.8,168.2 618.1,133.5 618.5,161.1 618.9,128.7 619.2,201.3 619.5,182.4 619.9,127.2 620.2,125.9 620.6,119.4 620.9,121.3 621.3,88.5 621.7,66.7 622.0,119.2 622.4,75.4 622.7,78.6 623.1,96.5 623.4,78.6 623.8,32.4 624.1,61.5 624.4,66.5 624.8,60.3 625.1,57.0 625.5,90.4 625.9,76.4 626.2,38.5 626.6,19.8 626.9,-27.2 627.2,12.4 627.6,-17.9 628.0,10.1 628.3,-5.1 628.6,-48.2 629.0,3.8 629.3,-24.5" fill="none" stroke="#00b000" stroke-width="1.5" stroke-linejoin="round"/>
<polyline points="88.6,28.9 88.9,100.2 89.3,162.1 89.6,209.9 90.0,239.8 90.3,260.8 90.7,277.1 91.0,288.8 91.4,296.7 91.8,303.4 92.1,309.1 92.4,314.1 92.8,318.4 93.1,322.2 93.5,325.7 93.8,328.9 94.2,332.0 94.5,335.0 94.9,337.7 95.2,340.2 95.6,342.5 95.9,344.6 96.3,346.7 96.6,348.7 97.0,350.7 97.3,352.7 97.7,354.7 98.0,356.7 98.4,358.6 98.8,360.4 99.1,362.2 99.4,364.0 99.8,365.4 100.1,367.2 100.5,368.7 100.8,370.4 101.2,371.8 101.5,373.3 101.9,374.9 102.2,376.4 102.6,377.9 102.9,379.3 103.3,380.7 103.6,382.2 104.0,383.6 104.3,384.8 104.7,386.0 105.0,387.3 105.4,388.5 105.8,389.6 106.1,390.5 106.4,391.4 106.8,392.2 107.1,393.1 107.5,393.9 107.8,394.4 108.2,395.3 108.5,396.0 108.9,396.7 109.2,397.3 109.6,398.1 109.9,398.7 110.3,399.2 110.6,399.7 111.0,400.6 111.3,400.9 111.7,401.8 112.0,402.2 112.4,402.6 112.8,403.0 113.1,403.7 113.4,403.9 113.8,404.3 114.1,404.9 114.5,405.2 114.8,405.6 115.2,406.1 115.5,406.0 115.9,406.4 116.2,406.9 116.6,407.0 116.9,407.2 117.3,407.5 117.6,407.7 118.0,407.9 118.3,408.3 118.7,408.6 119.0,408.4 119.4,408.8 119.8,409.2 120.1,409.1 120.4,409.8 120.8,409.9 121.1,409.8 121.5,410.1 121.8,410.2 122.2,410.5 122.5,410.7 122.9,410.9 123.2,411.0 123.6,411.0 123.9,411.1 124.3,411.2 124.6,411.2 125.0,411.8 125.3,411.7 125.7,411.9 126.0,411.5 126.4,411.8 126.8,411.8 127.1,411.8 127.4,412.0 127.8,412.0 128.1,411.7 128.5,411.7 128.8,411.9 129.2,411.4 129.5,411.6 129.9,411.4 130.2,411.4 130.6,411.2 130.9,411.5 131.3,410.8 131.6,410.9 132.0,410.7 132.3,410.6 132.7,410.5 133.0,410.8 133.4,410.5 133.8,410.5 134.1,410.2 134.4,409.9 134.8,409.7 135.1,410.0 135.5,409.8 135.8,409.5 136.2,409.3 136.5,409.2 136.9,409.3 137.2,408.9 137.6,408.8 137.9,408.9 138.3,408.3 138.6,408.7 139.0,408.2 139.3,408.1 139.7,407.8 140.0,407.5 140.4,407.7 140.8,407.4 141.1,407.1 141.4,406.9 141.8,407.0 142.1,406.6 142.5,406.5 142.8,406.6 143.2,406.1 143.5,406.3 143.9,405.8 144.2,405.6 144.6,404.9 144.9,405.5 145.3,405.0 145.6,404.8 146.0,404.7 146.3,404.6 146.7,404.0 147.0,404.3 147.4,403.8 147.8,403.8 148.1,403.5 148.4,403.2 148.8,403.6 149.1,403.2 149.5,402.9 149.8,402.6 150.2,402.8 150.5,402.1 150.9,401.7 151.2,401.8 151.6,401.5 151.9,401.7 152.3,400.9 152.6,400.6 153.0,400.0 153.3,400.5 153.7,399.8 154.1,400.3 154.4,399.7 154.8,399.8 155.1,399.9 155.4,399.4 155.8,399.0 156.1,398.8 156.5,398.6 156.8,398.4 157.2,397.8 157.5,397.5 157.9,398.2 158.2,397.5 158.6,397.2 158.9,397.5 159.3,396.7 159.6,396.0 160.0,396.6 160.3,396.6 160.7,395.9 161.1,395.2 161.4,394.5 161.8,395.0 162.1,395.0 162.4,395.0 162.8,394.3 163.1,394.4 163.5,394.0 163.8,393.5 164.2,393.7 164.6,393.7 164.9,393.0 165.2,392.6 165.6,392.3 165.9,393.1 166.3,392.2 166.6,391.9 167.0,392.0 167.3,392.2 167.7,391.7 168.1,391.5 168.4,390.7 168.8,390.8 169.1,390.7 169.4,390.2 169.8,389.7 170.1,390.0 170.5,389.5 170.8,389.4 171.2,389.5 171.5,388.5 171.9,388.9 172.2,388.3 172.6,388.1 172.9,388.1 173.3,388.0 173.6,387.7 174.0,386.7 174.3,387.1 174.7,386.8 175.1,385.9 175.4,386.5 175.8,385.5 176.1,385.9 176.4,385.5 176.8,385.1 177.1,384.8 177.5,384.3 177.8,384.2 178.2,384.7 178.6,384.6 178.9,383.8 179.2,383.5 179.6,383.6 179.9,383.3 180.3,383.5 180.6,382.5 181.0,382.5 181.3,382.7 181.7,382.2 182.1,381.4 182.4,381.9 182.8,381.9 183.1,381.1 183.4,382.2 183.8,381.1 184.1,380.9 184.5,381.0 184.8,380.7 185.2,380.4 185.5,380.3 185.9,380.0 186.2,379.5 186.6,379.3 186.9,379.7 187.3,379.5 187.6,380.0 188.0,378.9 188.3,378.7 188.7,378.6 189.1,378.1 189.4,378.5 189.8,378.3 190.1,377.9 190.4,379.5 190.8,377.5 191.1,377.3 191.5,377.8 191.8,377.4 192.2,377.0 192.6,377.0 192.9,376.3 193.2,376.3 193.6,376.2 193.9,376.1 194.3,376.0 194.6,376.0 195.0,375.4 195.3,375.0 195.7,376.1 196.0,374.4 196.4,374.2 196.8,375.5 197.1,374.1 197.4,374.5 197.8,373.8 198.2,373.9 198.5,374.4 198.8,373.2 199.2,374.2 199.5,373.2 199.9,373.6 200.2,372.9 200.6,372.4 200.9,373.3 201.3,372.3 201.6,373.2 202.0,372.1 202.3,370.9 202.7,372.6 203.1,371.7 203.4,371.3 203.8,371.6 204.1,370.3 204.4,371.0 204.8,370.7 205.1,369.8 205.5,369.9 205.8,368.2 206.2,369.1 206.6,369.5 206.9,369.2 207.2,370.2 207.6,369.6 207.9,369.6 208.3,369.0 208.6,368.3 209.0,369.4 209.3,368.9 209.7,368.5 210.1,368.5 210.4,369.0 210.7,368.1 211.1,368.3 211.4,368.6 211.8,367.2 212.1,368.4 212.5,367.6 212.8,366.4 213.2,365.9 213.6,366.2 213.9,367.3 214.2,367.6 214.6,365.4 214.9,366.7 215.3,367.2 215.6,366.0 216.0,366.2 216.3,366.5 216.7,365.3 217.0,366.7 217.4,365.8 217.7,367.5 218.1,364.3 218.4,364.8 218.8,364.7 219.2,364.6 219.5,364.1 219.8,365.3 220.2,362.5 220.5,364.3 220.9,364.3 221.2,363.9 221.6,364.2 221.9,361.7 222.3,363.7 222.7,365.3 223.0,359.1 223.3,360.4 223.7,361.5 224.0,359.6 224.4,362.2 224.8,362.2 225.1,362.3 225.4,360.2 225.8,357.1 226.1,357.9 226.5,360.3 226.8,358.8 227.2,358.0 227.5,357.3 227.9,359.9 228.2,359.8 228.6,359.9 228.9,360.0 229.3,357.6 229.6,359.0 230.0,358.4 230.3,357.1 230.7,359.1 231.0,361.7 231.4,357.8 231.8,360.8 232.1,356.7 232.4,360.2 232.8,359.2 233.1,360.8 233.5,357.1 233.8,357.2 234.2,358.9 234.5,357.8 234.9,356.7 235.2,358.6 235.6,360.0 235.9,360.2 236.3,359.1 236.6,362.7 237.0,358.6 237.3,360.0 237.7,358.2 238.1,357.6 238.4,357.1 238.7,359.4 239.1,358.0 239.4,356.8 239.8,357.2 240.1,358.4 240.5,359.4 240.8,356.6 241.2,357.4 241.5,355.3 241.9,357.1 242.2,358.2 242.6,356.7 242.9,362.6 243.3,364.1 243.7,370.7 244.0,377.0 244.3,378.9 244.7,380.6 245.0,374.9 245.4,373.7 245.7,368.4 246.1,364.2 246.4,362.7 246.8,361.3 247.2,364.1 247.5,360.1 247.8,364.2 248.2,369.3 248.5,376.1 248.9,379.5 249.2,373.9 249.6,367.1 249.9,362.1 250.3,360.0 250.7,361.1 251.0,359.1 251.3,360.0 251.7,369.0 252.0,358.6 252.4,358.4 252.8,363.5 253.1,360.0 253.4,360.6 253.8,360.3 254.1,358.6 254.5,357.6 254.8,358.9 255.2,359.2 255.5,357.4 255.9,366.3 256.2,355.4 256.6,356.5 256.9,358.0 257.3,358.9 257.6,359.3 258.0,358.9 258.4,356.7 258.7,356.7 259.0,358.7 259.4,361.2 259.8,357.9 260.1,358.4 260.4,358.3 260.8,361.4 261.1,356.0 261.5,356.7 261.9,359.9 262.2,356.6 262.5,361.9 262.9,356.7 263.2,358.6 263.6,361.4 263.9,358.2 264.3,356.9 264.6,358.2 265.0,360.8 265.4,359.9 265.7,363.8 266.1,358.5 266.4,361.5 266.8,370.5 267.1,366.5 267.4,368.7 267.8,366.8 268.1,362.3 268.5,359.3 268.9,357.7 269.2,359.2 269.5,356.5 269.9,358.1 270.2,360.9 270.6,355.5 270.9,360.5 271.3,360.1 271.6,361.3 272.0,357.9 272.4,359.8 272.7,361.2 273.0,366.7 273.4,368.9 273.8,374.1 274.1,376.3 274.4,369.4 274.8,364.9 275.1,363.0 275.5,359.6 275.8,360.3 276.2,361.4 276.5,360.4 276.9,359.6 277.2,361.4 277.6,359.1 277.9,363.8 278.3,359.3 278.6,360.6 279.0,361.3 279.4,357.5 279.7,357.7 280.0,360.2 280.4,361.4 280.8,368.5 281.1,362.2 281.4,363.7 281.8,359.8 282.1,355.0 282.5,365.0 282.9,360.3 283.2,359.8 283.5,356.6 283.9,357.0 284.2,363.3 284.6,361.2 284.9,360.5 285.3,359.8 285.6,361.9 286.0,364.0 286.4,358.0 286.7,354.0 287.0,364.0 287.4,360.1 287.8,361.2 288.1,360.1 288.4,370.2 288.8,368.6 289.1,373.0 289.5,363.0 289.9,366.5 290.2,363.4 290.5,366.4 290.9,382.9 291.2,359.7 291.6,372.2 291.9,360.7 292.3,361.4 292.6,357.8 293.0,362.0 293.4,362.8 293.7,356.4 294.1,363.2 294.4,364.3 294.8,360.9 295.1,364.2 295.4,359.8 295.8,372.6 296.1,368.9 296.5,363.4 296.9,381.2 297.2,372.9 297.5,375.8 297.9,361.4 298.2,373.8 298.6,368.6 298.9,369.5 299.3,370.1 299.6,368.9 300.0,362.0 300.3,383.6 300.7,376.3 301.0,373.6 301.4,358.8 301.8,375.4 302.1,368.2 302.4,390.1 302.8,366.8 303.1,367.3 303.5,371.7 303.8,374.4 304.2,372.2 304.6,385.8 304.9,371.1 305.2,367.0 305.6,368.9 305.9,375.5 306.3,363.3 306.6,369.8 307.0,372.4 307.4,382.7 307.7,367.7 308.0,380.3 308.4,373.6 308.8,372.6 309.1,369.2 309.4,371.1 309.8,383.8 310.1,374.6 310.5,368.4 310.9,369.5 311.2,365.4 311.5,387.8 311.9,387.2 312.2,368.9 312.6,380.7 312.9,369.0 313.3,377.3 313.6,370.3 314.0,397.1 314.4,376.2 314.7,396.4 315.0,381.9 315.4,383.3 315.8,388.8 316.1,384.8 316.5,398.5 316.8,400.6 317.1,399.2 317.5,386.7 317.8,381.5 318.2,377.7 318.5,388.5 318.9,375.4 319.2,383.4 319.6,386.3 319.9,393.1 320.3,377.7 320.6,379.3 321.0,389.2 321.4,387.3 321.7,385.8 322.1,372.9 322.4,378.1 322.8,386.1 323.1,379.5 323.4,370.4 323.8,391.5 324.1,397.0 324.5,385.0 324.8,373.5 325.2,378.6 325.5,377.1 325.9,392.0 326.2,378.3 326.6,404.7 326.9,389.1 327.3,380.9 327.6,372.2 328.0,392.0 328.4,375.7 328.7,382.0 329.1,374.6 329.4,388.8 329.8,385.5 330.1,372.2 330.4,415.5 330.8,386.2 331.1,379.9 331.5,385.4 331.8,388.1 332.2,376.2 332.5,388.7 332.9,387.3 333.2,372.5 333.6,387.8 333.9,383.0 334.3,386.7 334.6,398.0 335.0,377.0 335.4,399.5 335.7,377.1 336.0,376.2 336.4,387.5 336.8,418.1 337.1,394.1 337.4,399.2 337.8,421.2 338.1,393.7 338.5,388.7 338.9,380.6 339.2,378.2 339.5,417.7 339.9,395.7 340.2,392.7 340.6,395.7 340.9,376.0 341.3,391.0 341.6,389.2 342.0,399.8 342.3,387.8 342.7,399.5 343.0,402.0 343.4,379.1 343.8,406.0 344.1,384.5 344.4,401.5 344.8,383.1 345.1,367.1 345.5,377.4 345.9,406.1 346.2,388.4 346.5,380.9 346.9,387.5 347.2,406.6 347.6,403.6 348.0,413.3 348.3,401.5 348.6,376.3 349.0,396.5 349.4,418.5 349.7,383.6 350.0,414.6 350.4,394.3 350.8,379.0 351.1,388.9 351.4,379.0 351.8,401.9 352.1,387.6 352.5,393.4 352.9,389.0 353.2,409.6 353.5,388.1 353.9,393.0 354.2,389.1 354.6,387.5 354.9,393.5 355.3,390.8 355.6,398.2 356.0,395.0 356.4,389.1 356.7,414.0 357.0,385.9 357.4,375.9 357.8,406.8 358.1,399.8 358.5,392.9 358.8,397.5 359.1,407.3 359.5,377.9 359.9,401.9 360.2,391.5 360.5,402.0 360.9,388.0 361.2,386.2 361.6,400.2 361.9,394.4 362.3,399.3 362.6,399.9 363.0,409.3 363.4,384.1 363.7,406.8 364.0,407.1 364.4,387.2 364.8,387.7 365.1,406.9 365.5,399.8 365.8,393.9 366.1,392.5 366.5,393.5 366.8,402.0 367.2,410.4 367.5,386.4 367.9,403.1 368.2,396.9 368.6,397.5 368.9,388.2 369.3,394.9 369.6,400.4 370.0,393.6 370.4,418.2 370.7,396.4 371.0,402.4 371.4,410.7 371.8,390.3 372.1,405.7 372.5,405.3 372.8,394.3 373.1,422.1 373.5,397.0 373.9,396.5 374.2,415.2 374.5,393.1 374.9,399.2 375.2,382.9 375.6,438.2 375.9,377.7 376.3,387.8 376.6,402.7 377.0,381.6 377.4,373.4 377.7,396.0 378.0,402.2 378.4,390.0 378.8,394.3 379.1,411.3 379.4,416.2 379.8,423.2 380.1,412.9 380.5,390.6 380.9,404.2 381.2,404.5 381.5,388.3 381.9,395.3 382.2,416.6 382.6,430.3 383.0,393.0 383.3,391.0 383.6,380.7 384.0,384.1 384.4,384.6 384.7,383.9 385.0,400.0 385.4,390.3 385.8,386.6 386.1,393.0 386.4,385.3 386.8,386.8 387.1,391.6 387.5,383.5 387.9,396.6 388.2,386.3 388.5,389.3 388.9,397.9 389.2,395.5 389.6,377.8 390.0,416.2 390.3,393.3 390.6,368.2 391.0,392.7 391.4,390.2 391.7,399.6 392.0,410.0 392.4,391.5 392.8,392.6 393.1,393.2 393.4,404.0 393.8,403.0 394.1,382.9 394.5,391.3 394.9,396.9 395.2,424.1 395.5,389.9 395.9,383.1 396.2,395.0 396.6,391.6 397.0,434.4 397.3,405.0 397.6,391.2 398.0,411.3 398.3,408.6 398.7,413.0 399.0,413.1 399.4,410.6 399.8,428.2 400.1,411.1 400.4,429.9 400.8,398.5 401.1,390.6 401.5,386.8 401.9,389.4 402.2,412.2 402.5,408.4 402.9,407.9 403.2,386.1 403.6,408.5 403.9,409.1 404.3,385.8 404.6,401.8 405.0,393.6 405.4,378.5 405.7,401.8 406.0,392.2 406.4,398.8 406.8,385.9 407.1,376.6 407.4,377.2 407.8,380.1 408.1,365.2 408.5,375.2 408.9,375.5 409.2,375.8 409.5,388.8 409.9,382.5 410.2,389.0 410.6,389.5 410.9,400.6 411.3,364.4 411.6,371.5 412.0,373.4 412.4,350.4 412.7,369.3 413.0,360.8 413.4,379.4 413.8,359.2 414.1,364.7 414.5,348.8 414.8,365.9 415.1,386.4 415.5,356.6 415.9,363.2 416.2,353.5 416.5,363.8 416.9,350.0 417.2,354.6 417.6,349.3 417.9,361.1 418.3,336.8 418.6,327.4 419.0,343.2 419.4,338.3 419.7,378.0 420.0,341.8 420.4,360.6 420.8,353.4 421.1,349.1 421.5,342.6 421.8,364.4 422.1,365.7 422.5,338.6 422.8,343.3 423.2,336.0 423.5,333.6 423.9,335.8 424.2,348.6 424.6,322.2 424.9,329.6 425.3,329.7 425.6,364.7 426.0,353.6 426.4,326.5 426.7,347.3 427.0,339.0 427.4,334.4 427.8,334.7 428.1,326.8 428.5,342.9 428.8,347.8 429.1,344.7 429.5,329.9 429.9,323.8 430.2,333.3 430.5,350.9 430.9,347.2 431.2,326.0 431.6,351.5 431.9,329.2 432.3,316.7 432.6,320.2 433.0,331.7 433.4,304.2 433.7,312.1 434.0,318.1 434.4,338.1 434.8,304.8 435.1,290.6 435.4,297.6 435.8,315.0 436.1,304.2 436.5,324.2 436.9,315.8 437.2,292.3 437.5,305.0 437.9,296.3 438.2,287.2 438.6,297.5 439.0,305.2 439.3,290.8 439.6,285.5 440.0,275.8 440.4,284.4 440.7,278.0 441.0,266.9 441.4,253.5 441.8,274.2 442.1,284.7 442.4,258.3 442.8,269.3 443.1,262.6 443.5,243.1 443.9,245.5 444.2,242.8 444.5,230.4 444.9,239.2 445.2,243.7 445.6,245.1 446.0,220.9 446.3,231.1 446.6,224.8 447.0,221.1 447.3,216.7 447.7,218.6 448.0,222.1 448.4,220.8 448.8,216.2 449.1,204.6 449.4,195.9 449.8,194.2 450.1,191.5 450.5,186.3 450.9,187.5 451.2,194.9 451.5,170.5 451.9,161.6 452.2,147.5 452.6,167.8 453.0,174.4 453.3,151.9 453.6,153.8 454.0,134.8 454.3,150.3 454.7,143.9 455.0,139.0 455.4,123.7 455.8,110.0 456.1,104.6 456.4,85.4 456.8,99.1 457.1,80.6 457.5,68.8 457.9,76.8 458.2,66.5 458.5,70.2 458.9,43.3 459.2,56.1 459.6,38.3 459.9,35.6 460.3,37.4 460.6,23.5 461.0,24.7 461.4,10.9 461.7,12.8 462.0,7.0 462.4,-6.7 462.8,-4.5 463.1,-8.4 463.4,-20.4 463.8,-17.6 464.1,-36.1" fill="none" stroke="#00ffff" stroke-width="1.5" stroke-linejoin="round"/>
</g>
<path d="M88.6,451.7V440.2M88.6,12.9V24.4M174.8,451.7V440.2M174.8,12.9V24.4M260.9,451.7V440.2M260.9,12.9V24.4M347.1,451.7V440.2M347.1,12.9V24.4M433.2,451.7V440.2M433.2,12.9V24.4M519.4,451.7V440.2M519.4,12.9V24.4M605.6,451.7V440.2M605.6,12.9V24.4M88.6,411.8H100.0M671.0,411.8H659.6M88.6,332.0H100.0M671.0,332.0H659.6M88.6,252.2H100.0M671.0,252.2H659.6M88.6,172.5H100.0M671.0,172.5H659.6M88.6,92.7H100.0M671.0,92.7H659.6M88.6,12.9H100.0M671.0,12.9H659.6" stroke="#000" stroke-width="2.4" fill="none"/>
<rect x="88.6" y="12.9" width="582.4" height="438.8" fill="none" stroke="#000" stroke-width="2.5"/>
<g font-size="29.5" fill="#000">
<text transform="translate(88.6,484.1) scale(1,1.1)" text-anchor="middle">0</text>
<text transform="translate(174.8,484.1) scale(1,1.1)" text-anchor="middle">0.2</text>
<text transform="translate(260.9,484.1) scale(1,1.1)" text-anchor="middle">0.4</text>
<text transform="translate(347.1,484.1) scale(1,1.1)" text-anchor="middle">0.6</text>
<text transform="translate(433.2,484.1) scale(1,1.1)" text-anchor="middle">0.8</text>
<text transform="translate(519.4,484.1) scale(1,1.1)" text-anchor="middle">1</text>
<text transform="translate(605.6,484.1) scale(1,1.1)" text-anchor="middle">1.2</text>
<text transform="translate(84.7,422.6) scale(1,1.08)" text-anchor="end">0</text>
<text transform="translate(84.7,342.8) scale(1,1.08)" text-anchor="end">2</text>
<text transform="translate(84.7,263.0) scale(1,1.08)" text-anchor="end">4</text>
<text transform="translate(84.7,183.3) scale(1,1.08)" text-anchor="end">6</text>
<text transform="translate(84.7,103.5) scale(1,1.08)" text-anchor="end">8</text>
<text transform="translate(84.7,23.7) scale(1,1.08)" text-anchor="end">10</text>
</g>
<g fill="#fff">
<rect x="53.1" y="20.5" width="5.9" height="3.7"/><rect x="62.2" y="20.5" width="5.5" height="3.7"/>
<rect x="512" y="480.2" width="6.4" height="4.0"/><rect x="521.6" y="480.2" width="5.4" height="4.0"/>
<rect x="586" y="480.2" width="6.4" height="4.0"/><rect x="595.3" y="480.2" width="5.0" height="4.0"/>
</g>
<g fill="#000">
<line x1="484.5" y1="40.4" x2="524.2" y2="40.4" stroke="#000000" stroke-width="1.3" stroke-opacity="0.8"/>
<text transform="translate(528.8,49.0) scale(1,1.06)" font-size="23">bulk</text>
<line x1="484.5" y1="69.5" x2="524.2" y2="69.5" stroke="#ff0000" stroke-width="1.3" stroke-opacity="0.8"/>
<text transform="translate(528.8,78.1) scale(1,1.06)" font-size="23">H=30a</text>
<line x1="484.5" y1="98.5" x2="524.2" y2="98.5" stroke="#0000ff" stroke-width="1.3" stroke-opacity="0.8"/>
<text transform="translate(528.8,107.1) scale(1,1.06)" font-size="23">H=20a</text>
<line x1="484.5" y1="127.6" x2="524.2" y2="127.6" stroke="#ff00ff" stroke-width="1.3" stroke-opacity="0.8"/>
<text transform="translate(528.8,136.2) scale(1,1.06)" font-size="23">H=10a</text>
<line x1="484.5" y1="156.7" x2="524.2" y2="156.7" stroke="#808080" stroke-width="1.3" stroke-opacity="0.8"/>
<text transform="translate(528.8,165.3) scale(1,1.06)" font-size="23">H=5a</text>
<line x1="484.5" y1="185.8" x2="524.2" y2="185.8" stroke="#00b000" stroke-width="1.3" stroke-opacity="0.8"/>
<text transform="translate(528.8,194.3) scale(1,1.06)" font-size="23">H=2a</text>
<line x1="484.5" y1="214.8" x2="524.2" y2="214.8" stroke="#00ffff" stroke-width="1.3" stroke-opacity="0.8"/>
<text transform="translate(528.8,223.4) scale(1,1.06)" font-size="23">H=a</text>
</g>
<text transform="translate(100.8,106.4) scale(1,1.02)" font-size="39" fill="#e0000c">barrier</text>
<g stroke="#e8000a" fill="#e8000a">
<line x1="118.4" y1="150" x2="118.4" y2="388" stroke-width="2.5"/>
<path d="M112.2,152.6 L118.3,139.2 L124.4,152.6 Z" stroke="none"/>
<path d="M112.4,385.6 L118.4,400.2 L124.5,385.6 Z" stroke="none"/>
</g>
<text font-size="30" fill="#000" transform="translate(25.5,233.1) rotate(-90) scale(1,1.05)" text-anchor="middle">F (k<tspan font-size="22.5" dy="14.8">B</tspan><tspan dy="-14.8">T)</tspan></text>
<text transform="translate(328.9,513.9) scale(1,1.08)" font-size="30" fill="#000">N<tspan font-size="23" dy="14">c</tspan><tspan dy="-14"> / N</tspan><tspan font-size="23" dy="14">m</tspan></text>
</svg>
</body></html>
